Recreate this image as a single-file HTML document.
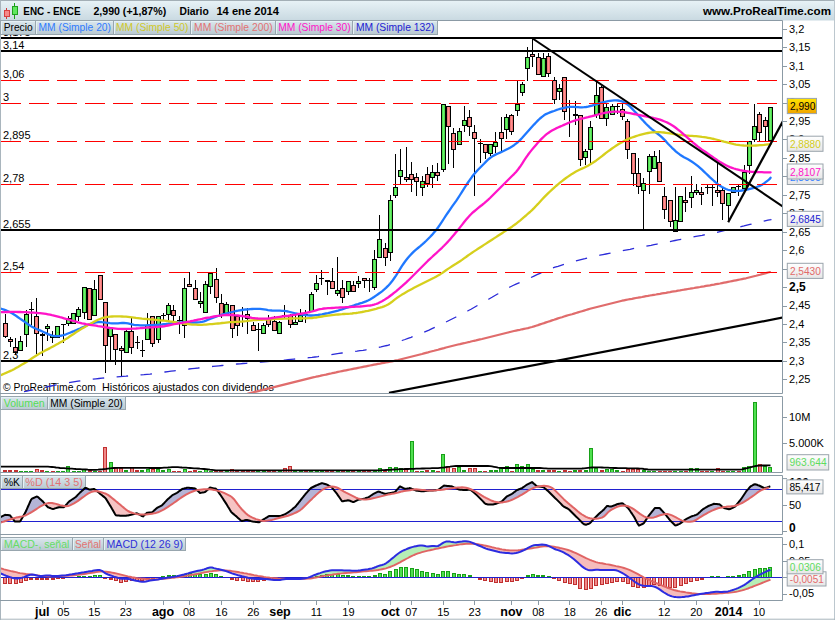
<!DOCTYPE html>
<html><head><meta charset="utf-8"><title>ENC - ENCE</title><style>html,body{margin:0;padding:0;background:#fff;overflow:hidden}svg{display:block}</style></head><body>
<svg width="835" height="620" viewBox="0 0 835 620" font-family="Liberation Sans, sans-serif" font-size="11px">
<defs>
<linearGradient id="hdr" x1="0" y1="0" x2="0" y2="1"><stop offset="0" stop-color="#e8f3f7"/><stop offset="1" stop-color="#c9d9e1"/></linearGradient>
<linearGradient id="tag" x1="0" y1="0" x2="0" y2="1"><stop offset="0" stop-color="#dbe8ee"/><stop offset="1" stop-color="#b9c9d1"/></linearGradient>
<linearGradient id="ylw" x1="0" y1="0" x2="0" y2="1"><stop offset="0" stop-color="#ffe400"/><stop offset="1" stop-color="#f0a400"/></linearGradient>
<linearGradient id="box" x1="0" y1="0" x2="0" y2="1"><stop offset="0" stop-color="#ffffff"/><stop offset="1" stop-color="#e6e6e6"/></linearGradient>
<linearGradient id="gc" x1="0" y1="0" x2="1" y2="0"><stop offset="0" stop-color="#3fd43f"/><stop offset="0.5" stop-color="#6cf06c"/><stop offset="1" stop-color="#3fd43f"/></linearGradient>
<linearGradient id="rc" x1="0" y1="0" x2="1" y2="0"><stop offset="0" stop-color="#e86a6a"/><stop offset="0.5" stop-color="#ff9090"/><stop offset="1" stop-color="#e86a6a"/></linearGradient>
<clipPath id="cp"><rect x="1" y="21" width="781" height="372"/></clipPath>
<clipPath id="cv"><rect x="1" y="397" width="781" height="75"/></clipPath>
<clipPath id="cs"><rect x="1" y="476" width="781" height="58"/></clipPath>
<clipPath id="cm"><rect x="1" y="538" width="781" height="62"/></clipPath>
</defs>
<rect width="835" height="620" fill="#ffffff"/>
<rect x="0" y="0" width="835" height="20.5" fill="url(#hdr)"/>
<rect x="0" y="0" width="835" height="1" fill="#a3afb6"/>
<rect x="0" y="0" width="1" height="620" fill="#a9b5bd"/>
<rect x="834" y="0" width="1" height="620" fill="#bcc7ce"/>
<rect x="0" y="618.7" width="835" height="1" fill="#a9b5bd"/>
<path d="M0 20.5 H782.5 V393.5 H0" fill="none" stroke="#8b9aa5" stroke-width="1"/>
<path d="M0 396.5 H782.5 V472.5 H0" fill="none" stroke="#8b9aa5" stroke-width="1"/>
<path d="M0 475.5 H782.5 V534.5 H0" fill="none" stroke="#8b9aa5" stroke-width="1"/>
<path d="M0 537.5 H782.5 V600.5 H0" fill="none" stroke="#8b9aa5" stroke-width="1"/>
<g clip-path="url(#cp)">
<text x="3" y="36">3,175</text>
<text x="3" y="391.2" textLength="92.8" lengthAdjust="spacingAndGlyphs">© ProRealTime.com</text>
<text x="102" y="391.2" textLength="172" lengthAdjust="spacingAndGlyphs">Históricos ajustados con dividendos</text>
<g shape-rendering="crispEdges">
<rect x="5" y="314.4" width="1" height="23.6" fill="#000"/>
<rect x="3" y="322.5" width="5" height="14.8" fill="#000"/>
<rect x="4" y="323.5" width="3" height="12.8" fill="url(#rc)"/>
<rect x="10" y="337.3" width="1" height="9.7" fill="#000"/>
<rect x="8" y="338.8" width="5" height="3.5" fill="#000"/>
<rect x="9" y="339.8" width="3" height="1.5" fill="url(#rc)"/>
<rect x="15" y="338.4" width="1" height="15.6" fill="#000"/>
<rect x="13" y="346.6" width="5" height="5.9" fill="#000"/>
<rect x="14" y="347.6" width="3" height="3.9" fill="url(#rc)"/>
<rect x="20" y="335.7" width="1" height="15.7" fill="#000"/>
<rect x="18" y="340.5" width="5" height="10.5" fill="#000"/>
<rect x="19" y="341.5" width="3" height="8.5" fill="url(#gc)"/>
<rect x="26" y="310.0" width="1" height="36.6" fill="#000"/>
<rect x="24" y="313.8" width="5" height="21.2" fill="#000"/>
<rect x="25" y="314.8" width="3" height="19.2" fill="url(#gc)"/>
<rect x="31" y="301.8" width="1" height="23.2" fill="#000"/>
<rect x="29" y="309.0" width="5" height="1.2" fill="#000"/>
<rect x="36" y="298.0" width="1" height="55.6" fill="#000"/>
<rect x="34" y="316.0" width="5" height="17.6" fill="#000"/>
<rect x="35" y="317.0" width="3" height="15.6" fill="url(#rc)"/>
<rect x="42" y="333.0" width="1" height="22.8" fill="#000"/>
<rect x="40" y="334.4" width="5" height="1.2" fill="#000"/>
<rect x="47" y="324.2" width="1" height="16.3" fill="#000"/>
<rect x="45" y="326.4" width="5" height="3.0" fill="#000"/>
<rect x="46" y="327.4" width="3" height="1.0" fill="url(#gc)"/>
<rect x="52" y="330.7" width="1" height="12.0" fill="#000"/>
<rect x="50" y="335.0" width="5" height="3.0" fill="#000"/>
<rect x="51" y="336.0" width="3" height="1.0" fill="url(#gc)"/>
<rect x="57" y="326.4" width="1" height="11.6" fill="#000"/>
<rect x="55" y="326.4" width="5" height="11.6" fill="#000"/>
<rect x="56" y="327.4" width="3" height="9.6" fill="url(#gc)"/>
<rect x="63" y="324.2" width="1" height="18.5" fill="#000"/>
<rect x="61" y="323.6" width="5" height="1.2" fill="#000"/>
<rect x="68" y="316.0" width="1" height="10.4" fill="#000"/>
<rect x="66" y="318.3" width="5" height="5.9" fill="#000"/>
<rect x="67" y="319.3" width="3" height="3.9" fill="url(#gc)"/>
<rect x="73" y="313.3" width="1" height="10.9" fill="#000"/>
<rect x="71" y="313.3" width="5" height="10.9" fill="#000"/>
<rect x="72" y="314.3" width="3" height="8.9" fill="url(#gc)"/>
<rect x="78" y="306.8" width="1" height="14.2" fill="#000"/>
<rect x="76" y="309.4" width="5" height="7.2" fill="#000"/>
<rect x="77" y="310.4" width="3" height="5.2" fill="url(#gc)"/>
<rect x="84" y="287.2" width="1" height="31.6" fill="#000"/>
<rect x="82" y="287.2" width="5" height="25.7" fill="#000"/>
<rect x="83" y="288.2" width="3" height="23.7" fill="url(#gc)"/>
<rect x="89" y="287.6" width="1" height="32.3" fill="#000"/>
<rect x="87" y="287.6" width="5" height="32.3" fill="#000"/>
<rect x="88" y="288.6" width="3" height="30.3" fill="url(#rc)"/>
<rect x="94" y="280.0" width="1" height="36.2" fill="#000"/>
<rect x="92" y="289.4" width="5" height="26.8" fill="#000"/>
<rect x="93" y="290.4" width="3" height="24.8" fill="url(#gc)"/>
<rect x="100" y="274.6" width="1" height="25.7" fill="#000"/>
<rect x="98" y="274.6" width="5" height="25.7" fill="#000"/>
<rect x="99" y="275.6" width="3" height="23.7" fill="url(#rc)"/>
<rect x="105" y="302.4" width="1" height="70.1" fill="#000"/>
<rect x="103" y="302.4" width="5" height="44.0" fill="#000"/>
<rect x="104" y="303.4" width="3" height="42.0" fill="url(#rc)"/>
<rect x="110" y="327.5" width="1" height="32.5" fill="#000"/>
<rect x="108" y="327.5" width="5" height="9.8" fill="#000"/>
<rect x="109" y="328.5" width="3" height="7.8" fill="url(#gc)"/>
<rect x="115" y="333.6" width="1" height="30.9" fill="#000"/>
<rect x="113" y="333.6" width="5" height="16.7" fill="#000"/>
<rect x="114" y="334.6" width="3" height="14.7" fill="url(#rc)"/>
<rect x="121" y="346.0" width="1" height="30.5" fill="#000"/>
<rect x="119" y="348.2" width="5" height="3.0" fill="#000"/>
<rect x="120" y="349.2" width="3" height="1.0" fill="url(#rc)"/>
<rect x="126" y="329.2" width="1" height="24.0" fill="#000"/>
<rect x="124" y="331.4" width="5" height="21.8" fill="#000"/>
<rect x="125" y="332.4" width="3" height="19.8" fill="url(#gc)"/>
<rect x="131" y="318.3" width="1" height="35.3" fill="#000"/>
<rect x="129" y="331.4" width="5" height="16.8" fill="#000"/>
<rect x="130" y="332.4" width="3" height="14.8" fill="url(#rc)"/>
<rect x="137" y="336.2" width="1" height="13.0" fill="#000"/>
<rect x="135" y="341.7" width="5" height="1.2" fill="#000"/>
<rect x="142" y="339.5" width="1" height="17.4" fill="#000"/>
<rect x="140" y="349.7" width="5" height="1.2" fill="#000"/>
<rect x="147" y="313.3" width="1" height="26.8" fill="#000"/>
<rect x="145" y="324.9" width="5" height="15.2" fill="#000"/>
<rect x="146" y="325.9" width="3" height="13.2" fill="url(#gc)"/>
<rect x="152" y="316.4" width="1" height="30.1" fill="#000"/>
<rect x="150" y="316.4" width="5" height="28.0" fill="#000"/>
<rect x="151" y="317.4" width="3" height="26.0" fill="url(#rc)"/>
<rect x="158" y="316.0" width="1" height="26.7" fill="#000"/>
<rect x="156" y="316.0" width="5" height="24.4" fill="#000"/>
<rect x="157" y="317.0" width="3" height="22.4" fill="url(#gc)"/>
<rect x="163" y="313.0" width="1" height="6.5" fill="#000"/>
<rect x="161" y="315.2" width="5" height="1.2" fill="#000"/>
<rect x="168" y="303.0" width="1" height="17.5" fill="#000"/>
<rect x="166" y="305.3" width="5" height="9.8" fill="#000"/>
<rect x="167" y="306.3" width="3" height="7.8" fill="url(#gc)"/>
<rect x="173" y="304.9" width="1" height="16.7" fill="#000"/>
<rect x="171" y="309.7" width="5" height="6.5" fill="#000"/>
<rect x="172" y="310.7" width="3" height="4.5" fill="url(#rc)"/>
<rect x="179" y="316.2" width="1" height="17.4" fill="#000"/>
<rect x="177" y="319.9" width="5" height="1.2" fill="#000"/>
<rect x="184" y="278.0" width="1" height="59.5" fill="#000"/>
<rect x="182" y="287.5" width="5" height="38.5" fill="#000"/>
<rect x="183" y="288.5" width="3" height="36.5" fill="url(#gc)"/>
<rect x="189" y="272.2" width="1" height="15.0" fill="#000"/>
<rect x="187" y="283.5" width="5" height="3.7" fill="#000"/>
<rect x="188" y="284.5" width="3" height="1.7" fill="url(#rc)"/>
<rect x="195" y="280.3" width="1" height="20.0" fill="#000"/>
<rect x="193" y="287.5" width="5" height="12.8" fill="#000"/>
<rect x="194" y="288.5" width="3" height="10.8" fill="url(#rc)"/>
<rect x="200" y="292.2" width="1" height="15.3" fill="#000"/>
<rect x="198" y="300.5" width="5" height="3.0" fill="#000"/>
<rect x="199" y="301.5" width="3" height="1.0" fill="url(#gc)"/>
<rect x="205" y="281.4" width="1" height="31.6" fill="#000"/>
<rect x="203" y="283.5" width="5" height="29.5" fill="#000"/>
<rect x="204" y="284.5" width="3" height="27.5" fill="url(#gc)"/>
<rect x="210" y="272.7" width="1" height="21.7" fill="#000"/>
<rect x="208" y="272.7" width="5" height="14.5" fill="#000"/>
<rect x="209" y="273.7" width="3" height="12.5" fill="url(#gc)"/>
<rect x="216" y="267.9" width="1" height="34.6" fill="#000"/>
<rect x="214" y="278.7" width="5" height="19.6" fill="#000"/>
<rect x="215" y="279.7" width="3" height="17.6" fill="url(#rc)"/>
<rect x="221" y="294.4" width="1" height="24.0" fill="#000"/>
<rect x="219" y="303.1" width="5" height="12.0" fill="#000"/>
<rect x="220" y="304.1" width="3" height="10.0" fill="url(#rc)"/>
<rect x="226" y="302.0" width="1" height="12.0" fill="#000"/>
<rect x="224" y="303.6" width="5" height="10.4" fill="#000"/>
<rect x="225" y="304.6" width="3" height="8.4" fill="url(#gc)"/>
<rect x="232" y="305.3" width="1" height="32.2" fill="#000"/>
<rect x="230" y="305.3" width="5" height="23.9" fill="#000"/>
<rect x="231" y="306.3" width="3" height="21.9" fill="url(#rc)"/>
<rect x="237" y="315.8" width="1" height="20.0" fill="#000"/>
<rect x="235" y="315.8" width="5" height="10.6" fill="#000"/>
<rect x="236" y="316.8" width="3" height="8.6" fill="url(#rc)"/>
<rect x="242" y="307.0" width="1" height="20.0" fill="#000"/>
<rect x="240" y="315.6" width="5" height="1.2" fill="#000"/>
<rect x="247" y="307.5" width="1" height="26.1" fill="#000"/>
<rect x="245" y="313.6" width="5" height="5.2" fill="#000"/>
<rect x="246" y="314.6" width="3" height="3.2" fill="url(#rc)"/>
<rect x="253" y="321.6" width="1" height="9.4" fill="#000"/>
<rect x="251" y="324.5" width="5" height="6.5" fill="#000"/>
<rect x="252" y="325.5" width="3" height="4.5" fill="url(#rc)"/>
<rect x="258" y="322.7" width="1" height="27.9" fill="#000"/>
<rect x="256" y="328.6" width="5" height="1.2" fill="#000"/>
<rect x="263" y="322.7" width="1" height="10.9" fill="#000"/>
<rect x="261" y="324.5" width="5" height="9.1" fill="#000"/>
<rect x="262" y="325.5" width="3" height="7.1" fill="url(#gc)"/>
<rect x="268" y="315.1" width="1" height="11.9" fill="#000"/>
<rect x="266" y="318.4" width="5" height="6.1" fill="#000"/>
<rect x="267" y="319.4" width="3" height="4.1" fill="url(#rc)"/>
<rect x="274" y="316.2" width="1" height="14.8" fill="#000"/>
<rect x="272" y="321.0" width="5" height="10.0" fill="#000"/>
<rect x="273" y="322.0" width="3" height="8.0" fill="url(#rc)"/>
<rect x="279" y="320.5" width="1" height="13.1" fill="#000"/>
<rect x="277" y="322.3" width="5" height="11.3" fill="#000"/>
<rect x="278" y="323.3" width="3" height="9.3" fill="url(#gc)"/>
<rect x="284" y="304.9" width="1" height="13.5" fill="#000"/>
<rect x="282" y="314.5" width="5" height="1.2" fill="#000"/>
<rect x="290" y="313.6" width="1" height="14.1" fill="#000"/>
<rect x="288" y="315.1" width="5" height="9.4" fill="#000"/>
<rect x="289" y="316.1" width="3" height="7.4" fill="url(#rc)"/>
<rect x="295" y="315.1" width="1" height="9.4" fill="#000"/>
<rect x="293" y="321.6" width="5" height="3.0" fill="#000"/>
<rect x="294" y="322.6" width="3" height="1.0" fill="url(#gc)"/>
<rect x="300" y="309.2" width="1" height="13.1" fill="#000"/>
<rect x="298" y="314.5" width="5" height="7.8" fill="#000"/>
<rect x="299" y="315.5" width="3" height="5.8" fill="url(#gc)"/>
<rect x="305" y="310.4" width="1" height="12.6" fill="#000"/>
<rect x="303" y="314.4" width="5" height="1.2" fill="#000"/>
<rect x="311" y="291.9" width="1" height="19.6" fill="#000"/>
<rect x="309" y="294.0" width="5" height="17.5" fill="#000"/>
<rect x="310" y="295.0" width="3" height="15.5" fill="url(#gc)"/>
<rect x="316" y="274.5" width="1" height="17.4" fill="#000"/>
<rect x="314" y="283.2" width="5" height="6.5" fill="#000"/>
<rect x="315" y="284.2" width="3" height="4.5" fill="url(#gc)"/>
<rect x="321" y="270.0" width="1" height="15.3" fill="#000"/>
<rect x="319" y="277.8" width="5" height="1.2" fill="#000"/>
<rect x="327" y="281.0" width="1" height="13.7" fill="#000"/>
<rect x="325" y="280.4" width="5" height="1.2" fill="#000"/>
<rect x="332" y="268.0" width="1" height="21.3" fill="#000"/>
<rect x="330" y="280.5" width="5" height="8.8" fill="#000"/>
<rect x="331" y="281.5" width="3" height="6.8" fill="url(#rc)"/>
<rect x="337" y="257.0" width="1" height="39.2" fill="#000"/>
<rect x="335" y="289.7" width="5" height="4.3" fill="#000"/>
<rect x="336" y="290.7" width="3" height="2.3" fill="url(#gc)"/>
<rect x="342" y="280.0" width="1" height="22.8" fill="#000"/>
<rect x="340" y="287.5" width="5" height="10.9" fill="#000"/>
<rect x="341" y="288.5" width="3" height="8.9" fill="url(#rc)"/>
<rect x="348" y="280.5" width="1" height="14.2" fill="#000"/>
<rect x="346" y="280.5" width="5" height="11.4" fill="#000"/>
<rect x="347" y="281.5" width="3" height="9.4" fill="url(#gc)"/>
<rect x="353" y="281.0" width="1" height="11.3" fill="#000"/>
<rect x="351" y="285.3" width="5" height="7.0" fill="#000"/>
<rect x="352" y="286.3" width="3" height="5.0" fill="url(#rc)"/>
<rect x="358" y="276.0" width="1" height="11.5" fill="#000"/>
<rect x="356" y="281.4" width="5" height="3.0" fill="#000"/>
<rect x="357" y="282.4" width="3" height="1.0" fill="url(#gc)"/>
<rect x="364" y="278.4" width="1" height="9.1" fill="#000"/>
<rect x="362" y="278.4" width="5" height="3.0" fill="#000"/>
<rect x="363" y="279.4" width="3" height="1.0" fill="url(#rc)"/>
<rect x="369" y="277.7" width="1" height="14.2" fill="#000"/>
<rect x="367" y="279.9" width="5" height="1.2" fill="#000"/>
<rect x="374" y="250.0" width="1" height="39.7" fill="#000"/>
<rect x="372" y="259.2" width="5" height="28.3" fill="#000"/>
<rect x="373" y="260.2" width="3" height="26.3" fill="url(#gc)"/>
<rect x="379" y="215.0" width="1" height="42.5" fill="#000"/>
<rect x="377" y="239.2" width="5" height="18.3" fill="#000"/>
<rect x="378" y="240.2" width="3" height="16.3" fill="url(#gc)"/>
<rect x="385" y="242.9" width="1" height="22.8" fill="#000"/>
<rect x="383" y="248.3" width="5" height="9.2" fill="#000"/>
<rect x="384" y="249.3" width="3" height="7.2" fill="url(#rc)"/>
<rect x="390" y="195.0" width="1" height="66.4" fill="#000"/>
<rect x="388" y="200.4" width="5" height="52.3" fill="#000"/>
<rect x="389" y="201.4" width="3" height="50.3" fill="url(#gc)"/>
<rect x="395" y="154.1" width="1" height="44.3" fill="#000"/>
<rect x="393" y="187.2" width="5" height="8.3" fill="#000"/>
<rect x="394" y="188.2" width="3" height="6.3" fill="url(#gc)"/>
<rect x="400" y="149.0" width="1" height="34.9" fill="#000"/>
<rect x="398" y="169.7" width="5" height="6.9" fill="#000"/>
<rect x="399" y="170.7" width="3" height="4.9" fill="url(#gc)"/>
<rect x="406" y="146.9" width="1" height="35.5" fill="#000"/>
<rect x="404" y="176.6" width="5" height="3.7" fill="#000"/>
<rect x="405" y="177.6" width="3" height="1.7" fill="url(#rc)"/>
<rect x="411" y="162.1" width="1" height="29.8" fill="#000"/>
<rect x="409" y="173.7" width="5" height="6.6" fill="#000"/>
<rect x="410" y="174.7" width="3" height="4.6" fill="url(#rc)"/>
<rect x="416" y="173.0" width="1" height="22.5" fill="#000"/>
<rect x="414" y="176.6" width="5" height="5.8" fill="#000"/>
<rect x="415" y="177.6" width="3" height="3.8" fill="url(#rc)"/>
<rect x="422" y="175.9" width="1" height="19.6" fill="#000"/>
<rect x="420" y="180.7" width="5" height="6.8" fill="#000"/>
<rect x="421" y="181.7" width="3" height="4.8" fill="url(#gc)"/>
<rect x="427" y="167.2" width="1" height="19.6" fill="#000"/>
<rect x="425" y="174.4" width="5" height="9.9" fill="#000"/>
<rect x="426" y="175.4" width="3" height="7.9" fill="url(#rc)"/>
<rect x="432" y="165.0" width="1" height="22.5" fill="#000"/>
<rect x="430" y="171.5" width="5" height="6.6" fill="#000"/>
<rect x="431" y="172.5" width="3" height="4.6" fill="url(#gc)"/>
<rect x="437" y="162.5" width="1" height="18.1" fill="#000"/>
<rect x="435" y="171.5" width="5" height="4.7" fill="#000"/>
<rect x="436" y="172.5" width="3" height="2.7" fill="url(#rc)"/>
<rect x="443" y="103.5" width="1" height="68.1" fill="#000"/>
<rect x="441" y="103.5" width="5" height="66.0" fill="#000"/>
<rect x="442" y="104.5" width="3" height="64.0" fill="url(#gc)"/>
<rect x="448" y="106.3" width="1" height="57.2" fill="#000"/>
<rect x="446" y="106.3" width="5" height="21.1" fill="#000"/>
<rect x="447" y="107.3" width="3" height="19.1" fill="url(#rc)"/>
<rect x="453" y="128.0" width="1" height="39.6" fill="#000"/>
<rect x="451" y="132.6" width="5" height="17.8" fill="#000"/>
<rect x="452" y="133.6" width="3" height="15.8" fill="url(#rc)"/>
<rect x="459" y="128.0" width="1" height="17.2" fill="#000"/>
<rect x="457" y="130.5" width="5" height="14.7" fill="#000"/>
<rect x="458" y="131.5" width="3" height="12.7" fill="url(#gc)"/>
<rect x="464" y="105.9" width="1" height="26.5" fill="#000"/>
<rect x="462" y="119.8" width="5" height="5.7" fill="#000"/>
<rect x="463" y="120.8" width="3" height="3.7" fill="url(#gc)"/>
<rect x="469" y="110.0" width="1" height="26.0" fill="#000"/>
<rect x="467" y="117.2" width="5" height="10.2" fill="#000"/>
<rect x="468" y="118.2" width="3" height="8.2" fill="url(#rc)"/>
<rect x="474" y="125.3" width="1" height="70.3" fill="#000"/>
<rect x="472" y="132.4" width="5" height="7.0" fill="#000"/>
<rect x="473" y="133.4" width="3" height="5.0" fill="url(#rc)"/>
<rect x="480" y="139.0" width="1" height="24.0" fill="#000"/>
<rect x="478" y="142.7" width="5" height="1.2" fill="#000"/>
<rect x="485" y="143.8" width="1" height="14.8" fill="#000"/>
<rect x="483" y="143.8" width="5" height="8.7" fill="#000"/>
<rect x="484" y="144.8" width="3" height="6.7" fill="url(#rc)"/>
<rect x="490" y="143.8" width="1" height="12.6" fill="#000"/>
<rect x="488" y="143.8" width="5" height="10.4" fill="#000"/>
<rect x="489" y="144.8" width="3" height="8.4" fill="url(#gc)"/>
<rect x="495" y="132.0" width="1" height="21.1" fill="#000"/>
<rect x="493" y="141.6" width="5" height="5.6" fill="#000"/>
<rect x="494" y="142.6" width="3" height="3.6" fill="url(#gc)"/>
<rect x="501" y="117.2" width="1" height="34.2" fill="#000"/>
<rect x="499" y="132.4" width="5" height="7.0" fill="#000"/>
<rect x="500" y="133.4" width="3" height="5.0" fill="url(#rc)"/>
<rect x="506" y="114.1" width="1" height="24.8" fill="#000"/>
<rect x="504" y="117.1" width="5" height="13.1" fill="#000"/>
<rect x="505" y="118.1" width="3" height="11.1" fill="url(#gc)"/>
<rect x="511" y="113.9" width="1" height="20.7" fill="#000"/>
<rect x="509" y="115.4" width="5" height="16.8" fill="#000"/>
<rect x="510" y="116.4" width="3" height="14.8" fill="url(#rc)"/>
<rect x="517" y="81.2" width="1" height="34.4" fill="#000"/>
<rect x="515" y="103.8" width="5" height="6.8" fill="#000"/>
<rect x="516" y="104.8" width="3" height="4.8" fill="url(#gc)"/>
<rect x="522" y="82.2" width="1" height="13.4" fill="#000"/>
<rect x="520" y="84.4" width="5" height="8.1" fill="#000"/>
<rect x="521" y="85.4" width="3" height="6.1" fill="url(#gc)"/>
<rect x="527" y="47.0" width="1" height="33.5" fill="#000"/>
<rect x="525" y="56.6" width="5" height="12.6" fill="#000"/>
<rect x="526" y="57.6" width="3" height="10.6" fill="url(#gc)"/>
<rect x="532" y="38.7" width="1" height="27.9" fill="#000"/>
<rect x="530" y="53.5" width="5" height="3.0" fill="#000"/>
<rect x="531" y="54.5" width="3" height="1.0" fill="url(#rc)"/>
<rect x="538" y="52.9" width="1" height="22.4" fill="#000"/>
<rect x="536" y="56.6" width="5" height="18.7" fill="#000"/>
<rect x="537" y="57.6" width="3" height="16.7" fill="url(#rc)"/>
<rect x="543" y="52.9" width="1" height="24.3" fill="#000"/>
<rect x="541" y="58.3" width="5" height="18.9" fill="#000"/>
<rect x="542" y="59.3" width="3" height="16.9" fill="url(#gc)"/>
<rect x="548" y="52.9" width="1" height="23.9" fill="#000"/>
<rect x="546" y="55.5" width="5" height="18.0" fill="#000"/>
<rect x="547" y="56.5" width="3" height="16.0" fill="url(#rc)"/>
<rect x="554" y="76.8" width="1" height="27.0" fill="#000"/>
<rect x="552" y="79.6" width="5" height="20.0" fill="#000"/>
<rect x="553" y="80.6" width="3" height="18.0" fill="url(#rc)"/>
<rect x="559" y="84.4" width="1" height="15.4" fill="#000"/>
<rect x="557" y="88.3" width="5" height="4.0" fill="#000"/>
<rect x="558" y="89.3" width="3" height="2.0" fill="url(#gc)"/>
<rect x="564" y="77.2" width="1" height="42.8" fill="#000"/>
<rect x="562" y="77.2" width="5" height="35.1" fill="#000"/>
<rect x="563" y="78.2" width="3" height="33.1" fill="url(#rc)"/>
<rect x="569" y="100.3" width="1" height="36.5" fill="#000"/>
<rect x="567" y="106.4" width="5" height="1.2" fill="#000"/>
<rect x="575" y="100.8" width="1" height="24.2" fill="#000"/>
<rect x="573" y="114.4" width="5" height="1.2" fill="#000"/>
<rect x="580" y="114.8" width="1" height="50.7" fill="#000"/>
<rect x="578" y="114.8" width="5" height="45.4" fill="#000"/>
<rect x="579" y="115.8" width="3" height="43.4" fill="url(#rc)"/>
<rect x="585" y="148.6" width="1" height="16.4" fill="#000"/>
<rect x="583" y="150.5" width="5" height="7.7" fill="#000"/>
<rect x="584" y="151.5" width="3" height="5.7" fill="url(#gc)"/>
<rect x="590" y="121.0" width="1" height="43.0" fill="#000"/>
<rect x="588" y="127.4" width="5" height="22.9" fill="#000"/>
<rect x="589" y="128.4" width="3" height="20.9" fill="url(#gc)"/>
<rect x="596" y="81.2" width="1" height="37.0" fill="#000"/>
<rect x="594" y="95.3" width="5" height="19.6" fill="#000"/>
<rect x="595" y="96.3" width="3" height="17.6" fill="url(#gc)"/>
<rect x="601" y="85.5" width="1" height="33.7" fill="#000"/>
<rect x="599" y="86.6" width="5" height="32.6" fill="#000"/>
<rect x="600" y="87.6" width="3" height="30.6" fill="url(#rc)"/>
<rect x="606" y="104.0" width="1" height="21.8" fill="#000"/>
<rect x="604" y="106.6" width="5" height="12.6" fill="#000"/>
<rect x="605" y="107.6" width="3" height="10.6" fill="url(#gc)"/>
<rect x="612" y="104.0" width="1" height="10.9" fill="#000"/>
<rect x="610" y="106.2" width="5" height="8.7" fill="#000"/>
<rect x="611" y="107.2" width="3" height="6.7" fill="url(#gc)"/>
<rect x="617" y="104.0" width="1" height="9.8" fill="#000"/>
<rect x="615" y="106.0" width="5" height="1.2" fill="#000"/>
<rect x="622" y="104.0" width="1" height="15.7" fill="#000"/>
<rect x="620" y="108.8" width="5" height="8.2" fill="#000"/>
<rect x="621" y="109.8" width="3" height="6.2" fill="url(#rc)"/>
<rect x="627" y="119.1" width="1" height="39.6" fill="#000"/>
<rect x="625" y="121.3" width="5" height="29.0" fill="#000"/>
<rect x="626" y="122.3" width="3" height="27.0" fill="url(#rc)"/>
<rect x="633" y="152.5" width="1" height="33.7" fill="#000"/>
<rect x="631" y="152.5" width="5" height="21.7" fill="#000"/>
<rect x="632" y="153.5" width="3" height="19.7" fill="url(#rc)"/>
<rect x="638" y="157.9" width="1" height="35.9" fill="#000"/>
<rect x="636" y="173.1" width="5" height="14.2" fill="#000"/>
<rect x="637" y="174.1" width="3" height="12.2" fill="url(#rc)"/>
<rect x="643" y="177.9" width="1" height="51.4" fill="#000"/>
<rect x="641" y="182.9" width="5" height="8.3" fill="#000"/>
<rect x="642" y="183.9" width="3" height="6.3" fill="url(#gc)"/>
<rect x="649" y="153.5" width="1" height="40.3" fill="#000"/>
<rect x="647" y="156.3" width="5" height="15.3" fill="#000"/>
<rect x="648" y="157.3" width="3" height="13.3" fill="url(#gc)"/>
<rect x="654" y="150.5" width="1" height="18.7" fill="#000"/>
<rect x="652" y="156.2" width="5" height="13.0" fill="#000"/>
<rect x="653" y="157.2" width="3" height="11.0" fill="url(#gc)"/>
<rect x="659" y="150.3" width="1" height="32.0" fill="#000"/>
<rect x="657" y="162.2" width="5" height="20.1" fill="#000"/>
<rect x="658" y="163.2" width="3" height="18.1" fill="url(#rc)"/>
<rect x="664" y="187.3" width="1" height="31.5" fill="#000"/>
<rect x="662" y="195.5" width="5" height="14.0" fill="#000"/>
<rect x="663" y="196.5" width="3" height="12.0" fill="url(#rc)"/>
<rect x="670" y="200.3" width="1" height="26.2" fill="#000"/>
<rect x="668" y="200.3" width="5" height="21.4" fill="#000"/>
<rect x="669" y="201.3" width="3" height="19.4" fill="url(#rc)"/>
<rect x="675" y="187.3" width="1" height="44.6" fill="#000"/>
<rect x="673" y="219.5" width="5" height="12.4" fill="#000"/>
<rect x="674" y="220.5" width="3" height="10.4" fill="url(#gc)"/>
<rect x="680" y="195.5" width="1" height="26.6" fill="#000"/>
<rect x="678" y="195.5" width="5" height="26.6" fill="#000"/>
<rect x="679" y="196.5" width="3" height="24.6" fill="url(#gc)"/>
<rect x="685" y="187.3" width="1" height="25.0" fill="#000"/>
<rect x="683" y="200.3" width="5" height="3.0" fill="#000"/>
<rect x="684" y="201.3" width="3" height="1.0" fill="url(#rc)"/>
<rect x="691" y="176.4" width="1" height="31.6" fill="#000"/>
<rect x="689" y="191.6" width="5" height="6.6" fill="#000"/>
<rect x="690" y="192.6" width="3" height="4.6" fill="url(#gc)"/>
<rect x="696" y="184.0" width="1" height="10.9" fill="#000"/>
<rect x="694" y="189.5" width="5" height="3.0" fill="#000"/>
<rect x="695" y="190.5" width="3" height="1.0" fill="url(#gc)"/>
<rect x="701" y="187.3" width="1" height="17.4" fill="#000"/>
<rect x="699" y="191.6" width="5" height="3.0" fill="#000"/>
<rect x="700" y="192.6" width="3" height="1.0" fill="url(#rc)"/>
<rect x="707" y="185.0" width="1" height="8.8" fill="#000"/>
<rect x="705" y="186.7" width="5" height="1.2" fill="#000"/>
<rect x="712" y="185.0" width="1" height="21.4" fill="#000"/>
<rect x="710" y="186.7" width="5" height="1.2" fill="#000"/>
<rect x="717" y="162.2" width="1" height="34.8" fill="#000"/>
<rect x="715" y="189.5" width="5" height="3.7" fill="#000"/>
<rect x="716" y="190.5" width="3" height="1.7" fill="url(#rc)"/>
<rect x="722" y="187.3" width="1" height="32.2" fill="#000"/>
<rect x="720" y="189.5" width="5" height="14.8" fill="#000"/>
<rect x="721" y="190.5" width="3" height="12.8" fill="url(#rc)"/>
<rect x="728" y="193.4" width="1" height="28.7" fill="#000"/>
<rect x="726" y="193.4" width="5" height="13.0" fill="#000"/>
<rect x="727" y="194.4" width="3" height="11.0" fill="url(#gc)"/>
<rect x="733" y="187.3" width="1" height="6.1" fill="#000"/>
<rect x="731" y="187.3" width="5" height="6.1" fill="#000"/>
<rect x="732" y="188.3" width="3" height="4.1" fill="url(#gc)"/>
<rect x="738" y="185.0" width="1" height="11.0" fill="#000"/>
<rect x="736" y="186.2" width="5" height="1.2" fill="#000"/>
<rect x="744" y="164.6" width="1" height="26.4" fill="#000"/>
<rect x="742" y="171.5" width="5" height="17.5" fill="#000"/>
<rect x="743" y="172.5" width="3" height="15.5" fill="url(#gc)"/>
<rect x="749" y="141.4" width="1" height="32.8" fill="#000"/>
<rect x="747" y="141.4" width="5" height="24.8" fill="#000"/>
<rect x="748" y="142.4" width="3" height="22.8" fill="url(#gc)"/>
<rect x="754" y="104.2" width="1" height="38.0" fill="#000"/>
<rect x="752" y="125.5" width="5" height="14.1" fill="#000"/>
<rect x="753" y="126.5" width="3" height="12.1" fill="url(#gc)"/>
<rect x="759" y="111.6" width="1" height="30.6" fill="#000"/>
<rect x="757" y="114.3" width="5" height="18.6" fill="#000"/>
<rect x="758" y="115.3" width="3" height="16.6" fill="url(#rc)"/>
<rect x="765" y="117.0" width="1" height="25.2" fill="#000"/>
<rect x="763" y="119.6" width="5" height="7.4" fill="#000"/>
<rect x="764" y="120.6" width="3" height="5.4" fill="url(#rc)"/>
<rect x="770" y="106.8" width="1" height="35.4" fill="#000"/>
<rect x="768" y="106.8" width="5" height="34.6" fill="#000"/>
<rect x="769" y="107.8" width="3" height="32.6" fill="url(#gc)"/>
</g>
<path d="M0.0 308.3 L2.0 309.0 L4.0 309.7 L6.0 310.4 L8.0 311.2 L10.0 312.2 L12.0 313.2 L14.0 314.5 L16.0 315.8 L18.0 317.2 L20.0 318.6 L22.0 320.0 L24.0 321.4 L26.0 322.8 L28.0 324.2 L30.0 325.5 L32.0 326.7 L34.0 327.8 L36.0 328.8 L38.0 329.6 L40.0 330.4 L42.0 331.3 L44.0 332.2 L46.0 333.1 L48.0 334.1 L50.0 334.9 L52.0 335.5 L54.0 336.0 L56.0 336.2 L58.0 336.1 L60.0 335.9 L62.0 335.5 L64.0 335.0 L66.0 334.3 L68.0 333.5 L70.0 332.7 L72.0 331.9 L74.0 331.1 L76.0 330.2 L78.0 329.3 L80.0 328.5 L82.0 327.6 L84.0 326.7 L86.0 325.8 L88.0 325.0 L90.0 324.2 L92.0 323.4 L94.0 322.9 L96.0 322.4 L98.0 322.1 L100.0 322.0 L102.0 322.2 L104.0 322.3 L106.0 322.6 L108.0 322.8 L110.0 323.1 L112.0 323.3 L114.0 323.4 L116.0 323.4 L118.0 323.3 L120.0 323.1 L122.0 323.0 L124.0 323.0 L126.0 323.1 L128.0 323.4 L130.0 323.8 L132.0 324.3 L134.0 324.8 L136.0 325.1 L138.0 325.2 L140.0 325.3 L142.0 325.3 L144.0 325.3 L146.0 325.3 L148.0 325.2 L150.0 325.2 L152.0 325.1 L154.0 325.0 L156.0 324.9 L158.0 324.8 L160.0 324.6 L162.0 324.5 L164.0 324.2 L166.0 324.0 L168.0 323.7 L170.0 323.3 L172.0 323.0 L174.0 322.7 L176.0 322.5 L178.0 322.4 L180.0 322.4 L182.0 322.5 L184.0 322.5 L186.0 322.6 L188.0 322.6 L190.0 322.6 L192.0 322.6 L194.0 322.5 L196.0 322.5 L198.0 322.4 L200.0 322.2 L202.0 321.8 L204.0 321.3 L206.0 320.6 L208.0 319.8 L210.0 318.9 L212.0 318.1 L214.0 317.4 L216.0 316.7 L218.0 316.0 L220.0 315.4 L222.0 314.7 L224.0 314.1 L226.0 313.5 L228.0 313.0 L230.0 312.5 L232.0 312.0 L234.0 311.5 L236.0 311.0 L238.0 310.7 L240.0 310.3 L242.0 310.0 L244.0 309.7 L246.0 309.5 L248.0 309.3 L250.0 309.1 L252.0 309.0 L254.0 308.9 L256.0 308.8 L258.0 308.8 L260.0 308.9 L262.0 309.1 L264.0 309.4 L266.0 309.7 L268.0 310.1 L270.0 310.3 L272.0 310.5 L274.0 310.6 L276.0 310.7 L278.0 310.7 L280.0 310.7 L282.0 310.8 L284.0 310.9 L286.0 311.2 L288.0 311.5 L290.0 312.0 L292.0 312.5 L294.0 313.0 L296.0 313.5 L298.0 313.9 L300.0 314.3 L302.0 314.6 L304.0 314.9 L306.0 315.2 L308.0 315.4 L310.0 315.5 L312.0 315.5 L314.0 315.4 L316.0 315.2 L318.0 315.0 L320.0 314.6 L322.0 314.3 L324.0 313.9 L326.0 313.5 L328.0 313.1 L330.0 312.6 L332.0 312.1 L334.0 311.6 L336.0 311.1 L338.0 310.6 L340.0 310.0 L342.0 309.4 L344.0 308.7 L346.0 308.0 L348.0 307.4 L350.0 306.7 L352.0 306.0 L354.0 305.4 L356.0 304.7 L358.0 304.1 L360.0 303.4 L362.0 302.8 L364.0 302.1 L366.0 301.4 L368.0 300.5 L370.0 299.5 L372.0 298.3 L374.0 297.0 L376.0 295.6 L378.0 294.2 L380.0 292.8 L382.0 291.3 L384.0 289.7 L386.0 287.9 L388.0 285.9 L390.0 283.7 L392.0 281.3 L394.0 278.5 L396.0 275.6 L398.0 272.4 L400.0 269.1 L402.0 265.9 L404.0 263.0 L406.0 260.3 L408.0 257.8 L410.0 255.5 L412.0 253.4 L414.0 251.4 L416.0 249.6 L418.0 248.0 L420.0 246.4 L422.0 244.7 L424.0 242.9 L426.0 241.0 L428.0 239.0 L430.0 237.0 L432.0 234.9 L434.0 232.6 L436.0 230.2 L438.0 227.5 L440.0 224.6 L442.0 221.6 L444.0 218.5 L446.0 215.4 L448.0 212.5 L450.0 209.6 L452.0 206.7 L454.0 203.9 L456.0 201.1 L458.0 198.1 L460.0 195.0 L462.0 191.9 L464.0 188.7 L466.0 185.5 L468.0 182.5 L470.0 179.6 L472.0 176.8 L474.0 174.3 L476.0 172.0 L478.0 169.8 L480.0 167.8 L482.0 165.7 L484.0 163.7 L486.0 161.6 L488.0 159.7 L490.0 158.0 L492.0 156.6 L494.0 155.4 L496.0 154.4 L498.0 153.5 L500.0 152.6 L502.0 151.7 L504.0 150.8 L506.0 149.8 L508.0 148.8 L510.0 147.7 L512.0 146.5 L514.0 145.2 L516.0 143.7 L518.0 142.0 L520.0 140.1 L522.0 138.0 L524.0 135.8 L526.0 133.5 L528.0 131.3 L530.0 129.0 L532.0 126.8 L534.0 124.6 L536.0 122.5 L538.0 120.4 L540.0 118.5 L542.0 116.8 L544.0 115.3 L546.0 114.1 L548.0 113.2 L550.0 112.4 L552.0 111.7 L554.0 111.0 L556.0 110.2 L558.0 109.5 L560.0 108.9 L562.0 108.3 L564.0 107.8 L566.0 107.4 L568.0 107.1 L570.0 106.9 L572.0 106.9 L574.0 106.9 L576.0 107.1 L578.0 107.2 L580.0 107.3 L582.0 107.3 L584.0 107.2 L586.0 107.0 L588.0 106.7 L590.0 106.2 L592.0 105.7 L594.0 105.0 L596.0 104.4 L598.0 103.8 L600.0 103.1 L602.0 102.6 L604.0 102.1 L606.0 101.6 L608.0 101.2 L610.0 100.9 L612.0 100.6 L614.0 100.4 L616.0 100.3 L618.0 100.5 L620.0 100.9 L622.0 101.4 L624.0 102.3 L626.0 103.5 L628.0 104.9 L630.0 106.6 L632.0 108.6 L634.0 110.7 L636.0 112.8 L638.0 115.0 L640.0 117.2 L642.0 119.4 L644.0 121.6 L646.0 123.7 L648.0 125.7 L650.0 127.6 L652.0 129.4 L654.0 131.0 L656.0 132.5 L658.0 134.0 L660.0 135.6 L662.0 137.4 L664.0 139.3 L666.0 141.4 L668.0 143.7 L670.0 145.8 L672.0 147.8 L674.0 149.7 L676.0 151.6 L678.0 153.2 L680.0 154.7 L682.0 156.0 L684.0 157.3 L686.0 158.3 L688.0 159.3 L690.0 160.5 L692.0 161.7 L694.0 163.1 L696.0 164.6 L698.0 166.2 L700.0 167.9 L702.0 169.7 L704.0 171.6 L706.0 173.5 L708.0 175.4 L710.0 177.4 L712.0 179.2 L714.0 181.0 L716.0 182.7 L718.0 184.3 L720.0 185.8 L722.0 187.0 L724.0 188.1 L726.0 189.0 L728.0 189.8 L730.0 190.2 L732.0 190.6 L734.0 190.9 L736.0 191.0 L738.0 190.9 L740.0 190.8 L742.0 190.5 L744.0 190.2 L746.0 189.8 L748.0 189.4 L750.0 188.9 L752.0 188.4 L754.0 187.9 L756.0 187.3 L758.0 186.5 L760.0 185.8 L762.0 184.7 L764.0 183.4 L766.0 181.9 L768.0 180.4 L770.0 178.7 L770.6 177.7" stroke="#1f78ff" stroke-width="2.3" fill="none" stroke-linejoin="round" stroke-linecap="round"/>
<path d="M0.0 375.4 L2.0 374.6 L4.0 373.7 L6.0 372.9 L8.0 372.0 L10.0 371.1 L12.0 370.2 L14.0 369.2 L16.0 368.1 L18.0 367.0 L20.0 365.8 L22.0 364.6 L24.0 363.4 L26.0 362.2 L28.0 361.0 L30.0 359.7 L32.0 358.3 L34.0 357.0 L36.0 355.7 L38.0 354.5 L40.0 353.3 L42.0 352.2 L44.0 351.2 L46.0 350.1 L48.0 349.1 L50.0 348.1 L52.0 347.0 L54.0 345.9 L56.0 344.8 L58.0 343.7 L60.0 342.5 L62.0 341.4 L64.0 340.2 L66.0 338.9 L68.0 337.7 L70.0 336.3 L72.0 335.0 L74.0 333.7 L76.0 332.3 L78.0 331.1 L80.0 329.8 L82.0 328.6 L84.0 327.4 L86.0 326.3 L88.0 325.1 L90.0 324.0 L92.0 322.9 L94.0 321.8 L96.0 320.8 L98.0 319.8 L100.0 319.0 L102.0 318.2 L104.0 317.7 L106.0 317.2 L108.0 316.9 L110.0 316.7 L112.0 316.5 L114.0 316.4 L116.0 316.3 L118.0 316.3 L120.0 316.4 L122.0 316.5 L124.0 316.6 L126.0 316.7 L128.0 316.9 L130.0 317.1 L132.0 317.3 L134.0 317.6 L136.0 317.9 L138.0 318.1 L140.0 318.3 L142.0 318.6 L144.0 318.8 L146.0 319.0 L148.0 319.2 L150.0 319.4 L152.0 319.5 L154.0 319.7 L156.0 319.9 L158.0 320.1 L160.0 320.3 L162.0 320.5 L164.0 320.7 L166.0 320.9 L168.0 321.2 L170.0 321.5 L172.0 321.7 L174.0 322.0 L176.0 322.3 L178.0 322.7 L180.0 323.0 L182.0 323.3 L184.0 323.7 L186.0 324.0 L188.0 324.2 L190.0 324.4 L192.0 324.6 L194.0 324.7 L196.0 324.7 L198.0 324.8 L200.0 324.8 L202.0 324.8 L204.0 324.7 L206.0 324.6 L208.0 324.4 L210.0 324.2 L212.0 324.1 L214.0 323.9 L216.0 323.7 L218.0 323.5 L220.0 323.3 L222.0 323.0 L224.0 322.8 L226.0 322.6 L228.0 322.4 L230.0 322.2 L232.0 322.1 L234.0 322.0 L236.0 321.9 L238.0 321.8 L240.0 321.6 L242.0 321.5 L244.0 321.3 L246.0 321.1 L248.0 320.8 L250.0 320.6 L252.0 320.4 L254.0 320.2 L256.0 320.1 L258.0 319.9 L260.0 319.8 L262.0 319.8 L264.0 319.7 L266.0 319.6 L268.0 319.5 L270.0 319.4 L272.0 319.3 L274.0 319.2 L276.0 319.0 L278.0 318.9 L280.0 318.9 L282.0 318.8 L284.0 318.7 L286.0 318.6 L288.0 318.6 L290.0 318.5 L292.0 318.5 L294.0 318.4 L296.0 318.4 L298.0 318.4 L300.0 318.5 L302.0 318.4 L304.0 318.4 L306.0 318.3 L308.0 318.2 L310.0 318.1 L312.0 318.0 L314.0 317.7 L316.0 317.5 L318.0 317.2 L320.0 316.8 L322.0 316.5 L324.0 316.2 L326.0 315.9 L328.0 315.6 L330.0 315.3 L332.0 315.1 L334.0 314.9 L336.0 314.7 L338.0 314.5 L340.0 314.3 L342.0 314.2 L344.0 314.0 L346.0 313.9 L348.0 313.8 L350.0 313.7 L352.0 313.5 L354.0 313.2 L356.0 313.0 L358.0 312.7 L360.0 312.3 L362.0 312.0 L364.0 311.6 L366.0 311.2 L368.0 310.8 L370.0 310.3 L372.0 309.8 L374.0 309.3 L376.0 308.8 L378.0 308.2 L380.0 307.7 L382.0 307.1 L384.0 306.4 L386.0 305.5 L388.0 304.5 L390.0 303.2 L392.0 301.8 L394.0 300.2 L396.0 298.7 L398.0 297.2 L400.0 295.9 L402.0 294.6 L404.0 293.4 L406.0 292.2 L408.0 291.1 L410.0 290.0 L412.0 288.9 L414.0 287.8 L416.0 286.8 L418.0 285.8 L420.0 284.8 L422.0 283.8 L424.0 282.8 L426.0 281.8 L428.0 280.8 L430.0 279.8 L432.0 278.8 L434.0 277.8 L436.0 276.7 L438.0 275.6 L440.0 274.4 L442.0 273.1 L444.0 271.7 L446.0 270.3 L448.0 268.9 L450.0 267.6 L452.0 266.3 L454.0 265.0 L456.0 263.8 L458.0 262.5 L460.0 261.2 L462.0 259.9 L464.0 258.4 L466.0 257.0 L468.0 255.5 L470.0 254.1 L472.0 252.7 L474.0 251.4 L476.0 250.1 L478.0 248.8 L480.0 247.5 L482.0 246.2 L484.0 244.9 L486.0 243.6 L488.0 242.3 L490.0 241.0 L492.0 239.7 L494.0 238.4 L496.0 237.1 L498.0 235.8 L500.0 234.5 L502.0 233.2 L504.0 231.9 L506.0 230.6 L508.0 229.3 L510.0 228.0 L512.0 226.7 L514.0 225.2 L516.0 223.8 L518.0 222.2 L520.0 220.6 L522.0 218.9 L524.0 217.2 L526.0 215.5 L528.0 213.7 L530.0 212.0 L532.0 210.1 L534.0 208.1 L536.0 206.0 L538.0 203.9 L540.0 201.7 L542.0 199.5 L544.0 197.4 L546.0 195.4 L548.0 193.4 L550.0 191.5 L552.0 189.6 L554.0 187.8 L556.0 186.0 L558.0 184.3 L560.0 182.7 L562.0 181.1 L564.0 179.5 L566.0 178.0 L568.0 176.6 L570.0 175.3 L572.0 173.9 L574.0 172.7 L576.0 171.5 L578.0 170.5 L580.0 169.5 L582.0 168.6 L584.0 167.7 L586.0 166.7 L588.0 165.7 L590.0 164.5 L592.0 163.3 L594.0 162.0 L596.0 160.7 L598.0 159.2 L600.0 157.7 L602.0 156.1 L604.0 154.5 L606.0 152.9 L608.0 151.4 L610.0 150.0 L612.0 148.5 L614.0 147.1 L616.0 145.8 L618.0 144.5 L620.0 143.3 L622.0 142.2 L624.0 141.1 L626.0 140.0 L628.0 139.1 L630.0 138.2 L632.0 137.5 L634.0 136.8 L636.0 136.1 L638.0 135.5 L640.0 134.9 L642.0 134.4 L644.0 133.9 L646.0 133.4 L648.0 133.0 L650.0 132.7 L652.0 132.4 L654.0 132.3 L656.0 132.2 L658.0 132.1 L660.0 132.2 L662.0 132.3 L664.0 132.5 L666.0 132.8 L668.0 133.1 L670.0 133.4 L672.0 133.7 L674.0 134.0 L676.0 134.3 L678.0 134.6 L680.0 134.8 L682.0 135.1 L684.0 135.3 L686.0 135.5 L688.0 135.6 L690.0 135.8 L692.0 135.9 L694.0 136.1 L696.0 136.2 L698.0 136.4 L700.0 136.6 L702.0 136.9 L704.0 137.1 L706.0 137.4 L708.0 137.8 L710.0 138.2 L712.0 138.6 L714.0 139.0 L716.0 139.5 L718.0 140.0 L720.0 140.6 L722.0 141.1 L724.0 141.7 L726.0 142.2 L728.0 142.7 L730.0 143.2 L732.0 143.7 L734.0 144.2 L736.0 144.6 L738.0 144.9 L740.0 145.2 L742.0 145.3 L744.0 145.5 L746.0 145.6 L748.0 145.7 L750.0 145.7 L752.0 145.7 L754.0 145.6 L756.0 145.5 L758.0 145.4 L760.0 145.2 L762.0 145.1 L764.0 144.9 L766.0 144.6 L768.0 144.4 L770.0 144.2 L770.6 144.1" stroke="#d6cf1c" stroke-width="2.3" fill="none" stroke-linejoin="round" stroke-linecap="round"/>
<path d="M248.0 393.6 L250.0 393.1 L252.0 392.6 L254.0 392.1 L256.0 391.6 L258.0 391.1 L260.0 390.6 L262.0 390.1 L264.0 389.6 L266.0 389.1 L268.0 388.6 L270.0 388.1 L272.0 387.6 L274.0 387.1 L276.0 386.6 L278.0 386.1 L280.0 385.6 L282.0 385.1 L284.0 384.6 L286.0 384.1 L288.0 383.6 L290.0 383.1 L292.0 382.6 L294.0 382.1 L296.0 381.6 L298.0 381.1 L300.0 380.6 L302.0 380.1 L304.0 379.6 L306.0 379.1 L308.0 378.6 L310.0 378.1 L312.0 377.6 L314.0 377.2 L316.0 376.7 L318.0 376.3 L320.0 375.9 L322.0 375.4 L324.0 375.0 L326.0 374.6 L328.0 374.1 L330.0 373.7 L332.0 373.2 L334.0 372.8 L336.0 372.4 L338.0 371.9 L340.0 371.5 L342.0 371.1 L344.0 370.7 L346.0 370.3 L348.0 369.9 L350.0 369.5 L352.0 369.1 L354.0 368.7 L356.0 368.3 L358.0 367.9 L360.0 367.5 L362.0 367.1 L364.0 366.7 L366.0 366.3 L368.0 365.9 L370.0 365.5 L372.0 365.1 L374.0 364.7 L376.0 364.3 L378.0 363.9 L380.0 363.6 L382.0 363.2 L384.0 362.8 L386.0 362.4 L388.0 362.1 L390.0 361.7 L392.0 361.3 L394.0 360.9 L396.0 360.4 L398.0 360.0 L400.0 359.5 L402.0 359.0 L404.0 358.5 L406.0 358.0 L408.0 357.5 L410.0 357.0 L412.0 356.5 L414.0 356.0 L416.0 355.5 L418.0 355.0 L420.0 354.5 L422.0 354.0 L424.0 353.4 L426.0 352.9 L428.0 352.4 L430.0 351.8 L432.0 351.3 L434.0 350.8 L436.0 350.2 L438.0 349.7 L440.0 349.1 L442.0 348.6 L444.0 348.1 L446.0 347.5 L448.0 347.0 L450.0 346.5 L452.0 346.0 L454.0 345.5 L456.0 345.0 L458.0 344.5 L460.0 344.1 L462.0 343.6 L464.0 343.2 L466.0 342.7 L468.0 342.2 L470.0 341.8 L472.0 341.3 L474.0 340.8 L476.0 340.4 L478.0 339.9 L480.0 339.4 L482.0 339.0 L484.0 338.5 L486.0 338.0 L488.0 337.5 L490.0 337.0 L492.0 336.5 L494.0 336.0 L496.0 335.5 L498.0 335.0 L500.0 334.5 L502.0 334.0 L504.0 333.5 L506.0 333.0 L508.0 332.5 L510.0 332.0 L512.0 331.5 L514.0 331.0 L516.0 330.6 L518.0 330.2 L520.0 329.8 L522.0 329.3 L524.0 328.9 L526.0 328.5 L528.0 328.1 L530.0 327.5 L532.0 327.0 L534.0 326.4 L536.0 325.7 L538.0 325.1 L540.0 324.4 L542.0 323.7 L544.0 323.1 L546.0 322.4 L548.0 321.7 L550.0 321.1 L552.0 320.4 L554.0 319.8 L556.0 319.1 L558.0 318.4 L560.0 317.8 L562.0 317.2 L564.0 316.5 L566.0 315.9 L568.0 315.3 L570.0 314.7 L572.0 314.2 L574.0 313.6 L576.0 313.0 L578.0 312.4 L580.0 311.8 L582.0 311.2 L584.0 310.6 L586.0 310.0 L588.0 309.4 L590.0 308.8 L592.0 308.2 L594.0 307.7 L596.0 307.2 L598.0 306.7 L600.0 306.2 L602.0 305.7 L604.0 305.2 L606.0 304.7 L608.0 304.2 L610.0 303.7 L612.0 303.2 L614.0 302.7 L616.0 302.2 L618.0 301.7 L620.0 301.2 L622.0 300.7 L624.0 300.3 L626.0 299.9 L628.0 299.5 L630.0 299.1 L632.0 298.8 L634.0 298.4 L636.0 298.0 L638.0 297.7 L640.0 297.3 L642.0 297.0 L644.0 296.6 L646.0 296.2 L648.0 295.9 L650.0 295.5 L652.0 295.2 L654.0 294.8 L656.0 294.5 L658.0 294.1 L660.0 293.8 L662.0 293.4 L664.0 293.1 L666.0 292.8 L668.0 292.4 L670.0 292.1 L672.0 291.7 L674.0 291.4 L676.0 291.1 L678.0 290.7 L680.0 290.4 L682.0 290.0 L684.0 289.7 L686.0 289.3 L688.0 289.0 L690.0 288.7 L692.0 288.3 L694.0 288.0 L696.0 287.6 L698.0 287.3 L700.0 287.0 L702.0 286.6 L704.0 286.3 L706.0 285.9 L708.0 285.6 L710.0 285.3 L712.0 284.9 L714.0 284.6 L716.0 284.2 L718.0 283.8 L720.0 283.5 L722.0 283.1 L724.0 282.7 L726.0 282.3 L728.0 281.9 L730.0 281.5 L732.0 281.1 L734.0 280.7 L736.0 280.3 L738.0 279.9 L740.0 279.5 L742.0 279.1 L744.0 278.7 L746.0 278.3 L748.0 277.8 L750.0 277.3 L752.0 276.8 L754.0 276.3 L756.0 275.8 L758.0 275.2 L760.0 274.7 L762.0 274.1 L764.0 273.6 L766.0 273.1 L768.0 272.5 L770.0 272.0" stroke="#e06c6c" stroke-width="2.2" fill="none" stroke-linejoin="round" stroke-linecap="round"/>
<path d="M0.0 312.2 L2.0 312.1 L4.0 312.1 L6.0 312.0 L8.0 312.0 L10.0 311.9 L12.0 311.9 L14.0 311.9 L16.0 311.9 L18.0 312.0 L20.0 312.0 L22.0 312.1 L24.0 312.2 L26.0 312.2 L28.0 312.3 L30.0 312.5 L32.0 312.6 L34.0 312.7 L36.0 312.8 L38.0 313.0 L40.0 313.1 L42.0 313.3 L44.0 313.6 L46.0 313.9 L48.0 314.3 L50.0 314.7 L52.0 315.2 L54.0 315.6 L56.0 316.1 L58.0 316.6 L60.0 317.2 L62.0 317.7 L64.0 318.3 L66.0 318.9 L68.0 319.4 L70.0 320.0 L72.0 320.6 L74.0 321.1 L76.0 321.7 L78.0 322.3 L80.0 322.8 L82.0 323.3 L84.0 323.7 L86.0 324.1 L88.0 324.4 L90.0 324.8 L92.0 325.1 L94.0 325.4 L96.0 325.7 L98.0 326.1 L100.0 326.4 L102.0 326.7 L104.0 327.1 L106.0 327.4 L108.0 327.7 L110.0 328.0 L112.0 328.2 L114.0 328.4 L116.0 328.6 L118.0 328.8 L120.0 328.9 L122.0 329.0 L124.0 329.0 L126.0 329.0 L128.0 328.9 L130.0 328.8 L132.0 328.7 L134.0 328.6 L136.0 328.5 L138.0 328.3 L140.0 328.2 L142.0 328.0 L144.0 327.8 L146.0 327.7 L148.0 327.5 L150.0 327.4 L152.0 327.3 L154.0 327.1 L156.0 327.0 L158.0 326.9 L160.0 326.7 L162.0 326.5 L164.0 326.3 L166.0 325.9 L168.0 325.5 L170.0 325.1 L172.0 324.7 L174.0 324.2 L176.0 323.9 L178.0 323.5 L180.0 323.1 L182.0 322.8 L184.0 322.4 L186.0 322.1 L188.0 321.7 L190.0 321.4 L192.0 321.0 L194.0 320.5 L196.0 320.1 L198.0 319.7 L200.0 319.3 L202.0 318.9 L204.0 318.4 L206.0 318.0 L208.0 317.6 L210.0 317.3 L212.0 316.9 L214.0 316.5 L216.0 316.2 L218.0 315.9 L220.0 315.7 L222.0 315.4 L224.0 315.2 L226.0 315.0 L228.0 315.0 L230.0 314.9 L232.0 315.0 L234.0 315.2 L236.0 315.3 L238.0 315.5 L240.0 315.8 L242.0 316.0 L244.0 316.3 L246.0 316.7 L248.0 317.1 L250.0 317.5 L252.0 317.9 L254.0 318.1 L256.0 318.3 L258.0 318.5 L260.0 318.6 L262.0 318.6 L264.0 318.7 L266.0 318.6 L268.0 318.5 L270.0 318.3 L272.0 318.0 L274.0 317.7 L276.0 317.4 L278.0 317.1 L280.0 316.8 L282.0 316.5 L284.0 316.2 L286.0 316.0 L288.0 315.8 L290.0 315.5 L292.0 315.2 L294.0 314.9 L296.0 314.6 L298.0 314.2 L300.0 313.8 L302.0 313.5 L304.0 313.2 L306.0 312.8 L308.0 312.4 L310.0 312.0 L312.0 311.5 L314.0 310.9 L316.0 310.3 L318.0 309.7 L320.0 309.2 L322.0 308.9 L324.0 308.5 L326.0 308.3 L328.0 308.2 L330.0 308.1 L332.0 308.0 L334.0 307.9 L336.0 307.7 L338.0 307.6 L340.0 307.5 L342.0 307.4 L344.0 307.3 L346.0 307.2 L348.0 307.1 L350.0 307.0 L352.0 306.9 L354.0 306.8 L356.0 306.7 L358.0 306.6 L360.0 306.5 L362.0 306.3 L364.0 306.1 L366.0 305.9 L368.0 305.7 L370.0 305.5 L372.0 305.1 L374.0 304.6 L376.0 304.0 L378.0 303.3 L380.0 302.3 L382.0 301.3 L384.0 300.1 L386.0 298.8 L388.0 297.5 L390.0 296.0 L392.0 294.5 L394.0 292.9 L396.0 291.3 L398.0 289.6 L400.0 287.9 L402.0 286.2 L404.0 284.4 L406.0 282.6 L408.0 280.7 L410.0 278.7 L412.0 276.7 L414.0 274.7 L416.0 272.7 L418.0 270.7 L420.0 268.7 L422.0 266.7 L424.0 264.7 L426.0 262.7 L428.0 260.7 L430.0 258.8 L432.0 257.0 L434.0 255.1 L436.0 253.4 L438.0 251.5 L440.0 249.7 L442.0 247.8 L444.0 245.8 L446.0 243.7 L448.0 241.6 L450.0 239.4 L452.0 237.1 L454.0 234.7 L456.0 232.3 L458.0 229.9 L460.0 227.4 L462.0 224.9 L464.0 222.3 L466.0 219.8 L468.0 217.4 L470.0 215.2 L472.0 213.2 L474.0 211.5 L476.0 209.8 L478.0 208.1 L480.0 206.5 L482.0 205.0 L484.0 203.4 L486.0 201.7 L488.0 199.9 L490.0 198.0 L492.0 196.0 L494.0 194.0 L496.0 192.0 L498.0 190.0 L500.0 188.0 L502.0 186.0 L504.0 184.0 L506.0 182.0 L508.0 180.0 L510.0 178.0 L512.0 176.0 L514.0 174.1 L516.0 171.9 L518.0 169.5 L520.0 166.8 L522.0 163.9 L524.0 160.7 L526.0 157.7 L528.0 154.8 L530.0 152.1 L532.0 149.6 L534.0 147.2 L536.0 144.9 L538.0 142.6 L540.0 140.4 L542.0 138.4 L544.0 136.5 L546.0 134.7 L548.0 133.2 L550.0 131.8 L552.0 130.6 L554.0 129.5 L556.0 128.4 L558.0 127.5 L560.0 126.6 L562.0 125.8 L564.0 124.9 L566.0 124.0 L568.0 123.1 L570.0 122.3 L572.0 121.5 L574.0 120.8 L576.0 120.1 L578.0 119.6 L580.0 119.0 L582.0 118.5 L584.0 118.1 L586.0 117.6 L588.0 117.2 L590.0 116.7 L592.0 116.2 L594.0 115.6 L596.0 115.1 L598.0 114.5 L600.0 114.0 L602.0 113.5 L604.0 113.0 L606.0 112.6 L608.0 112.3 L610.0 112.0 L612.0 111.8 L614.0 111.7 L616.0 111.7 L618.0 111.7 L620.0 111.8 L622.0 111.9 L624.0 112.2 L626.0 112.5 L628.0 112.8 L630.0 113.2 L632.0 113.6 L634.0 114.0 L636.0 114.4 L638.0 114.8 L640.0 115.2 L642.0 115.6 L644.0 116.0 L646.0 116.4 L648.0 116.9 L650.0 117.3 L652.0 117.7 L654.0 118.2 L656.0 118.6 L658.0 119.1 L660.0 119.7 L662.0 120.4 L664.0 121.2 L666.0 122.0 L668.0 122.9 L670.0 124.0 L672.0 125.2 L674.0 126.5 L676.0 128.0 L678.0 129.6 L680.0 131.2 L682.0 132.9 L684.0 134.6 L686.0 136.3 L688.0 138.1 L690.0 139.8 L692.0 141.6 L694.0 143.3 L696.0 145.0 L698.0 146.6 L700.0 148.1 L702.0 149.6 L704.0 150.9 L706.0 152.3 L708.0 153.7 L710.0 155.1 L712.0 156.5 L714.0 157.9 L716.0 159.2 L718.0 160.6 L720.0 161.9 L722.0 163.1 L724.0 164.2 L726.0 165.3 L728.0 166.2 L730.0 167.1 L732.0 167.8 L734.0 168.5 L736.0 169.1 L738.0 169.6 L740.0 170.1 L742.0 170.5 L744.0 170.8 L746.0 171.1 L748.0 171.4 L750.0 171.6 L752.0 171.8 L754.0 171.9 L756.0 172.0 L758.0 172.1 L760.0 172.2 L762.0 172.2 L764.0 172.3 L766.0 172.3 L768.0 172.3 L770.0 172.3 L770.6 172.3" stroke="#ff14c8" stroke-width="2.3" fill="none" stroke-linejoin="round" stroke-linecap="round"/>
<path d="M24.0 391.7 L27.0 391.1 L30.0 390.4 L33.0 389.8 L36.0 389.1 L39.0 388.5 L42.0 387.9 L45.0 387.2 L48.0 386.6 L51.0 386.0 L54.0 385.4 L57.0 384.8 L60.0 384.3 L63.0 383.7 L66.0 383.2 L69.0 382.7 L72.0 382.2 L75.0 381.7 L78.0 381.2 L81.0 380.7 L84.0 380.2 L87.0 379.8 L90.0 379.4 L93.0 379.1 L96.0 378.8 L99.0 378.5 L102.0 378.2 L105.0 377.9 L108.0 377.6 L111.0 377.3 L114.0 377.1 L117.0 376.9 L120.0 376.6 L123.0 376.4 L126.0 376.2 L129.0 375.9 L132.0 375.7 L135.0 375.4 L138.0 375.2 L141.0 374.9 L144.0 374.7 L147.0 374.4 L150.0 374.1 L153.0 373.7 L156.0 373.3 L159.0 372.8 L162.0 372.4 L165.0 372.0 L168.0 371.6 L171.0 371.2 L174.0 370.8 L177.0 370.5 L180.0 370.1 L183.0 369.7 L186.0 369.3 L189.0 369.0 L192.0 368.6 L195.0 368.3 L198.0 368.0 L201.0 367.6 L204.0 367.3 L207.0 367.0 L210.0 366.7 L213.0 366.4 L216.0 366.1 L219.0 365.8 L222.0 365.5 L225.0 365.2 L228.0 364.9 L231.0 364.6 L234.0 364.3 L237.0 364.0 L240.0 363.8 L243.0 363.5 L246.0 363.3 L249.0 363.1 L252.0 362.8 L255.0 362.6 L258.0 362.4 L261.0 362.1 L264.0 361.9 L267.0 361.7 L270.0 361.4 L273.0 361.2 L276.0 360.9 L279.0 360.7 L282.0 360.4 L285.0 360.1 L288.0 359.7 L291.0 359.4 L294.0 359.1 L297.0 358.8 L300.0 358.6 L303.0 358.3 L306.0 358.0 L309.0 357.7 L312.0 357.4 L315.0 357.0 L318.0 356.6 L321.0 356.1 L324.0 355.7 L327.0 355.2 L330.0 354.8 L333.0 354.3 L336.0 353.8 L339.0 353.4 L342.0 353.0 L345.0 352.6 L348.0 352.2 L351.0 351.8 L354.0 351.4 L357.0 351.1 L360.0 350.7 L363.0 350.3 L366.0 349.8 L369.0 349.3 L372.0 348.8 L375.0 348.2 L378.0 347.5 L381.0 346.9 L384.0 346.2 L387.0 345.5 L390.0 344.6 L393.0 343.7 L396.0 342.7 L399.0 341.6 L402.0 340.5 L405.0 339.5 L408.0 338.4 L411.0 337.3 L414.0 336.1 L417.0 334.9 L420.0 333.8 L423.0 332.6 L426.0 331.3 L429.0 330.1 L432.0 328.7 L435.0 327.3 L438.0 325.9 L441.0 324.4 L444.0 323.0 L447.0 321.5 L450.0 320.0 L453.0 318.5 L456.0 317.0 L459.0 315.5 L462.0 313.9 L465.0 312.4 L468.0 310.8 L471.0 309.2 L474.0 307.5 L477.0 305.8 L480.0 304.1 L483.0 302.5 L486.0 300.7 L489.0 299.0 L492.0 297.3 L495.0 295.5 L498.0 293.8 L501.0 292.0 L504.0 290.3 L507.0 288.6 L510.0 287.0 L513.0 285.5 L516.0 284.1 L519.0 282.8 L522.0 281.5 L525.0 280.2 L528.0 278.8 L531.0 277.5 L534.0 276.1 L537.0 274.7 L540.0 273.3 L543.0 271.9 L546.0 270.6 L549.0 269.4 L552.0 268.2 L555.0 267.2 L558.0 266.3 L561.0 265.3 L564.0 264.4 L567.0 263.4 L570.0 262.6 L573.0 261.7 L576.0 260.9 L579.0 260.1 L582.0 259.3 L585.0 258.6 L588.0 257.8 L591.0 257.1 L594.0 256.4 L597.0 255.8 L600.0 255.2 L603.0 254.6 L606.0 254.0 L609.0 253.4 L612.0 252.8 L615.0 252.2 L618.0 251.6 L621.0 251.0 L624.0 250.4 L627.0 249.8 L630.0 249.3 L633.0 248.7 L636.0 248.1 L639.0 247.6 L642.0 247.0 L645.0 246.4 L648.0 245.8 L651.0 245.3 L654.0 244.7 L657.0 244.1 L660.0 243.5 L663.0 242.9 L666.0 242.3 L669.0 241.7 L672.0 241.1 L675.0 240.5 L678.0 239.9 L681.0 239.3 L684.0 238.7 L687.0 238.2 L690.0 237.6 L693.0 237.0 L696.0 236.4 L699.0 235.8 L702.0 235.3 L705.0 234.7 L708.0 234.1 L711.0 233.5 L714.0 232.9 L717.0 232.3 L720.0 231.6 L723.0 230.9 L726.0 230.2 L729.0 229.5 L732.0 228.7 L735.0 228.0 L738.0 227.3 L741.0 226.6 L744.0 225.9 L747.0 225.1 L750.0 224.4 L753.0 223.7 L756.0 223.0 L759.0 222.3 L762.0 221.5 L765.0 220.8 L768.0 220.2 L771.0 219.6 L771.3 219.3" stroke="#2a2ad8" stroke-width="1.3" fill="none" stroke-dasharray="11.5 12.5" stroke-dashoffset="2.1"/>
<g shape-rendering="crispEdges">
<path d="M1 80.5 H778" stroke="#ff0000" stroke-width="1" stroke-dasharray="20 8" fill="none"/>
<path d="M1 103.5 H778" stroke="#ff0000" stroke-width="1" stroke-dasharray="20 8" fill="none"/>
<path d="M1 141.5 H778" stroke="#ff0000" stroke-width="1" stroke-dasharray="20 8" fill="none"/>
<path d="M1 184.5 H778" stroke="#ff0000" stroke-width="1" stroke-dasharray="20 8" fill="none"/>
<path d="M1 272.5 H778" stroke="#ff0000" stroke-width="1" stroke-dasharray="20 8" fill="none"/>
<path d="M0 38.0 H782" stroke="#000" stroke-width="2" fill="none"/>
<path d="M0 51.0 H782" stroke="#000" stroke-width="2" fill="none"/>
<path d="M0 230.0 H782" stroke="#000" stroke-width="2" fill="none"/>
<path d="M0 361.0 H782" stroke="#000" stroke-width="2" fill="none"/>
</g>
<path d="M532.6 38.5 L783 206.6" stroke="#000" stroke-width="2.1" fill="none"/>
<path d="M728.2 222.3 L783 121" stroke="#000" stroke-width="2.2" fill="none"/>
<path d="M389 392.8 L783 317.5" stroke="#000" stroke-width="2.2" fill="none"/>
<text x="3" y="78.0">3,06</text>
<text x="3" y="101.0">3</text>
<text x="3" y="139.0">2,895</text>
<text x="3" y="182.0">2,78</text>
<text x="3" y="270.0">2,54</text>
<text x="3" y="48.9">3,14</text>
<text x="3" y="227.9">2,655</text>
<text x="3" y="358.9">2,3</text>
</g>
<g shape-rendering="crispEdges"><rect x="0.5" y="20.5" width="35.0" height="14.0" fill="url(#tag)" stroke="#98a6ae" stroke-width="1"/>
<path d="M1.5 33.5 V21.5 H34.5" fill="none" stroke="#e6f1f5" stroke-width="1"/></g>
<text x="3.7" y="30.9" fill="#000" textLength="29.0" lengthAdjust="spacingAndGlyphs">Precio</text>
<g shape-rendering="crispEdges"><rect x="35.5" y="20.5" width="78.0" height="14.0" fill="url(#tag)" stroke="#98a6ae" stroke-width="1"/>
<path d="M36.5 33.5 V21.5 H112.5" fill="none" stroke="#e6f1f5" stroke-width="1"/></g>
<text x="38.5" y="30.9" fill="#2f7bff" textLength="72.5" lengthAdjust="spacingAndGlyphs">MM (Simple 20)</text>
<g shape-rendering="crispEdges"><rect x="113.5" y="20.5" width="77.0" height="14.0" fill="url(#tag)" stroke="#98a6ae" stroke-width="1"/>
<path d="M114.5 33.5 V21.5 H189.5" fill="none" stroke="#e6f1f5" stroke-width="1"/></g>
<text x="116.0" y="30.9" fill="#cfc82a" textLength="72.5" lengthAdjust="spacingAndGlyphs">MM (Simple 50)</text>
<g shape-rendering="crispEdges"><rect x="190.5" y="20.5" width="85.0" height="14.0" fill="url(#tag)" stroke="#98a6ae" stroke-width="1"/>
<path d="M191.5 33.5 V21.5 H274.5" fill="none" stroke="#e6f1f5" stroke-width="1"/></g>
<text x="194.1" y="30.9" fill="#e27272" textLength="78.5" lengthAdjust="spacingAndGlyphs">MM (Simple 200)</text>
<g shape-rendering="crispEdges"><rect x="275.5" y="20.5" width="77.0" height="14.0" fill="url(#tag)" stroke="#98a6ae" stroke-width="1"/>
<path d="M276.5 33.5 V21.5 H351.5" fill="none" stroke="#e6f1f5" stroke-width="1"/></g>
<text x="278.2" y="30.9" fill="#ff14c8" textLength="72.5" lengthAdjust="spacingAndGlyphs">MM (Simple 30)</text>
<g shape-rendering="crispEdges"><rect x="352.5" y="20.5" width="85.0" height="14.0" fill="url(#tag)" stroke="#98a6ae" stroke-width="1"/>
<path d="M353.5 33.5 V21.5 H436.5" fill="none" stroke="#e6f1f5" stroke-width="1"/></g>
<text x="355.9" y="30.9" fill="#2222d2" textLength="78.5" lengthAdjust="spacingAndGlyphs">MM (Simple 132)</text>
<g shape-rendering="crispEdges"><rect x="0.5" y="396.5" width="47.0" height="13.0" fill="url(#tag)" stroke="#98a6ae" stroke-width="1"/>
<path d="M1.5 408.5 V397.5 H46.5" fill="none" stroke="#e6f1f5" stroke-width="1"/></g>
<text x="3.7" y="406.9" fill="#55dd55" textLength="41.0" lengthAdjust="spacingAndGlyphs">Volumen</text>
<g shape-rendering="crispEdges"><rect x="47.5" y="396.5" width="78.0" height="13.0" fill="url(#tag)" stroke="#98a6ae" stroke-width="1"/>
<path d="M48.5 408.5 V397.5 H124.5" fill="none" stroke="#e6f1f5" stroke-width="1"/></g>
<text x="50.3" y="406.9" fill="#000" textLength="72.5" lengthAdjust="spacingAndGlyphs">MM (Simple 20)</text>
<g shape-rendering="crispEdges"><rect x="0.5" y="475.5" width="22.0" height="13.0" fill="url(#tag)" stroke="#98a6ae" stroke-width="1"/>
<path d="M1.5 487.5 V476.5 H21.5" fill="none" stroke="#e6f1f5" stroke-width="1"/></g>
<text x="3.9" y="485.9" fill="#000" textLength="16.0" lengthAdjust="spacingAndGlyphs">%K</text>
<g shape-rendering="crispEdges"><rect x="22.5" y="475.5" width="63.0" height="13.0" fill="url(#tag)" stroke="#98a6ae" stroke-width="1"/>
<path d="M23.5 487.5 V476.5 H84.5" fill="none" stroke="#e6f1f5" stroke-width="1"/></g>
<text x="25.3" y="485.9" fill="#e27272" textLength="57.5" lengthAdjust="spacingAndGlyphs">%D (14 3 5)</text>
<g shape-rendering="crispEdges"><rect x="0.5" y="537.5" width="72.0" height="13.0" fill="url(#tag)" stroke="#98a6ae" stroke-width="1"/>
<path d="M1.5 549.5 V538.5 H71.5" fill="none" stroke="#e6f1f5" stroke-width="1"/></g>
<text x="3.9" y="547.9" fill="#66dd66" textLength="65.5" lengthAdjust="spacingAndGlyphs">MACD-, señal</text>
<g shape-rendering="crispEdges"><rect x="72.5" y="537.5" width="31.0" height="13.0" fill="url(#tag)" stroke="#98a6ae" stroke-width="1"/>
<path d="M73.5 549.5 V538.5 H102.5" fill="none" stroke="#e6f1f5" stroke-width="1"/></g>
<text x="75.1" y="547.9" fill="#e27272" textLength="26.0" lengthAdjust="spacingAndGlyphs">Señal</text>
<g shape-rendering="crispEdges"><rect x="103.5" y="537.5" width="82.0" height="13.0" fill="url(#tag)" stroke="#98a6ae" stroke-width="1"/>
<path d="M104.5 549.5 V538.5 H184.5" fill="none" stroke="#e6f1f5" stroke-width="1"/></g>
<text x="106.5" y="547.9" fill="#3030d8" textLength="76.5" lengthAdjust="spacingAndGlyphs">MACD (12 26 9)</text>
<g shape-rendering="crispEdges"><rect x="6" y="8" width="1" height="11" fill="#d03838"/><rect x="3.5" y="10.3" width="6" height="6.4" fill="#d84040"/><rect x="4.5" y="11.3" width="4" height="4.4" fill="#f58a8a"/>
<rect x="14" y="3" width="1" height="15.5" fill="#18a018"/><rect x="11.5" y="6" width="6" height="9.4" fill="#20a020"/><rect x="12.5" y="7" width="4" height="7.4" fill="#5fe85f"/></g>
<g font-weight="bold" font-size="11px">
<text x="23.3" y="14.6" textLength="57.2" lengthAdjust="spacingAndGlyphs">ENC - ENCE</text>
<text x="93.4" y="14.6" textLength="72.8" lengthAdjust="spacingAndGlyphs">2,990 (+1,87%)</text>
<text x="179.5" y="14.6" textLength="29.2" lengthAdjust="spacingAndGlyphs">Diario</text>
<text x="216.4" y="14.6" textLength="62.6" lengthAdjust="spacingAndGlyphs">14 ene 2014</text>
<text x="831" y="14.6" text-anchor="end" textLength="128" lengthAdjust="spacingAndGlyphs">www.ProRealTime.com</text>
</g>
<path d="M782.5 29.5 h4.5" stroke="#8b9aa5" stroke-width="1"/>
<text x="789" y="32.7">3,2</text>
<path d="M782.5 47.5 h4.5" stroke="#8b9aa5" stroke-width="1"/>
<text x="789" y="51.1">3,15</text>
<path d="M782.5 66.5 h4.5" stroke="#8b9aa5" stroke-width="1"/>
<text x="789" y="69.6">3,1</text>
<path d="M782.5 84.5 h4.5" stroke="#8b9aa5" stroke-width="1"/>
<text x="789" y="88.0">3,05</text>
<path d="M782.5 103.5 h4.5" stroke="#8b9aa5" stroke-width="1"/>
<text x="789" y="106.9" font-weight="bold" font-size="12px">3</text>
<path d="M782.5 121.5 h4.5" stroke="#8b9aa5" stroke-width="1"/>
<text x="789" y="124.9">2,95</text>
<path d="M782.5 139.5 h4.5" stroke="#8b9aa5" stroke-width="1"/>
<text x="789" y="143.4">2,9</text>
<path d="M782.5 158.5 h4.5" stroke="#8b9aa5" stroke-width="1"/>
<text x="789" y="161.8">2,85</text>
<path d="M782.5 176.5 h4.5" stroke="#8b9aa5" stroke-width="1"/>
<text x="789" y="180.3">2,8</text>
<path d="M782.5 195.5 h4.5" stroke="#8b9aa5" stroke-width="1"/>
<text x="789" y="198.7">2,75</text>
<path d="M782.5 213.5 h4.5" stroke="#8b9aa5" stroke-width="1"/>
<text x="789" y="217.2">2,7</text>
<path d="M782.5 232.5 h4.5" stroke="#8b9aa5" stroke-width="1"/>
<text x="789" y="235.6">2,65</text>
<path d="M782.5 250.5 h4.5" stroke="#8b9aa5" stroke-width="1"/>
<text x="789" y="254.1">2,6</text>
<path d="M782.5 269.5 h4.5" stroke="#8b9aa5" stroke-width="1"/>
<text x="789" y="272.5">2,55</text>
<path d="M782.5 287.5 h4.5" stroke="#8b9aa5" stroke-width="1"/>
<text x="789" y="291.4" font-weight="bold" font-size="12px">2,5</text>
<path d="M782.5 306.5 h4.5" stroke="#8b9aa5" stroke-width="1"/>
<text x="789" y="309.4">2,45</text>
<path d="M782.5 324.5 h4.5" stroke="#8b9aa5" stroke-width="1"/>
<text x="789" y="327.9">2,4</text>
<path d="M782.5 342.5 h4.5" stroke="#8b9aa5" stroke-width="1"/>
<text x="789" y="346.3">2,35</text>
<path d="M782.5 361.5 h4.5" stroke="#8b9aa5" stroke-width="1"/>
<text x="789" y="364.8">2,3</text>
<path d="M782.5 379.5 h4.5" stroke="#8b9aa5" stroke-width="1"/>
<text x="789" y="383.2">2,25</text>
<path d="M782.5 417.5 h4.5" stroke="#8b9aa5" stroke-width="1"/>
<text x="789" y="420.6">10M</text>
<path d="M782.5 443.5 h4.5" stroke="#8b9aa5" stroke-width="1"/>
<text x="789" y="447.2">5.000K</text>
<path d="M782.5 478.6 h4.5" stroke="#8b9aa5" stroke-width="1"/>
<text x="789" y="486.5" font-weight="bold" font-size="12px">100</text>
<path d="M782.5 505.5 h4.5" stroke="#8b9aa5" stroke-width="1"/>
<text x="789" y="508.6">50</text>
<path d="M782.5 531.5 h4.5" stroke="#8b9aa5" stroke-width="1"/>
<text x="789" y="531.8" font-weight="bold" font-size="12px">0</text>
<path d="M782.5 544.5 h4.5" stroke="#8b9aa5" stroke-width="1"/>
<text x="789" y="548.2">0,1</text>
<path d="M782.5 561.5 h4.5" stroke="#8b9aa5" stroke-width="1"/>
<text x="789" y="564.5">0,05</text>
<path d="M782.5 577.5 h4.5" stroke="#8b9aa5" stroke-width="1"/>
<text x="789" y="581.3" font-weight="bold" font-size="12px">0</text>
<path d="M782.5 594.5 h4.5" stroke="#8b9aa5" stroke-width="1"/>
<text x="789" y="597.4">-0,05</text>
<rect x="787.3" y="169.5" width="35.7" height="15.0" fill="url(#box)" stroke="#9aa4ac" stroke-width="1"/>
<text x="789.9" y="181.0" fill="#2f7bff" textLength="31.0" lengthAdjust="spacingAndGlyphs">2,8005</text>
<rect x="787.3" y="164.0" width="35.7" height="15.0" fill="url(#box)" stroke="#9aa4ac" stroke-width="1"/>
<text x="789.9" y="175.5" fill="#ff14c8" textLength="31.0" lengthAdjust="spacingAndGlyphs">2,8107</text>
<rect x="787.3" y="98.4" width="29.2" height="15.2" fill="url(#ylw)" stroke="#9aa4ac" stroke-width="1"/>
<text x="789.9" y="110.0" fill="#000" textLength="25.5" lengthAdjust="spacingAndGlyphs">2,990</text>
<rect x="787.3" y="136.2" width="35.7" height="15.1" fill="url(#box)" stroke="#9aa4ac" stroke-width="1"/>
<text x="789.9" y="147.8" fill="#d2cc20" textLength="31.0" lengthAdjust="spacingAndGlyphs">2,8880</text>
<rect x="787.3" y="211.3" width="35.7" height="15.1" fill="url(#box)" stroke="#9aa4ac" stroke-width="1"/>
<text x="789.9" y="222.9" fill="#2222d2" textLength="31.0" lengthAdjust="spacingAndGlyphs">2,6845</text>
<rect x="787.3" y="263.3" width="35.7" height="15.1" fill="url(#box)" stroke="#9aa4ac" stroke-width="1"/>
<text x="789.9" y="274.9" fill="#e26a6a" textLength="31.0" lengthAdjust="spacingAndGlyphs">2,5430</text>
<rect x="787.0" y="454.7" width="41.7" height="15.3" fill="url(#box)" stroke="#9aa4ac" stroke-width="1"/>
<text x="789.6" y="466.4" fill="#5fdc5f" textLength="37.0" lengthAdjust="spacingAndGlyphs">963.644</text>
<rect x="786.8" y="479.9" width="36.2" height="14.0" fill="url(#box)" stroke="#9aa4ac" stroke-width="1"/>
<text x="789.4" y="490.9" fill="#000" textLength="31.0" lengthAdjust="spacingAndGlyphs">85,417</text>
<rect x="787.2" y="571.8" width="38.8" height="14.2" fill="url(#box)" stroke="#9aa4ac" stroke-width="1"/>
<text x="789.8" y="582.9" fill="#e26a6a" textLength="34.0" lengthAdjust="spacingAndGlyphs">-0,0051</text>
<rect x="787.2" y="559.7" width="35.8" height="14.1" fill="url(#box)" stroke="#9aa4ac" stroke-width="1"/>
<text x="789.8" y="570.8" fill="#5fdc5f" textLength="31.0" lengthAdjust="spacingAndGlyphs">0,0306</text>
<g clip-path="url(#cv)">
<g shape-rendering="crispEdges">
<rect x="3" y="469.8" width="4" height="2.0" fill="#c03030"/>
<rect x="8" y="469.8" width="4" height="2.0" fill="#c03030"/>
<rect x="14" y="469.8" width="4" height="2.0" fill="#c03030"/>
<rect x="19" y="470.8" width="4" height="1.0" fill="#18a018"/>
<rect x="24" y="470.8" width="4" height="1.0" fill="#18a018"/>
<rect x="29" y="470.8" width="4" height="1.0" fill="#18a018"/>
<rect x="35" y="468.8" width="4" height="3.0" fill="#c03030"/>
<rect x="36" y="469.8" width="2" height="2.0" fill="#f08888"/>
<rect x="40" y="469.8" width="4" height="2.0" fill="#c03030"/>
<rect x="45" y="470.8" width="4" height="1.0" fill="#18a018"/>
<rect x="51" y="470.8" width="4" height="1.0" fill="#c03030"/>
<rect x="56" y="470.8" width="4" height="1.0" fill="#18a018"/>
<rect x="61" y="470.8" width="4" height="1.0" fill="#18a018"/>
<rect x="66" y="465.8" width="4" height="6.0" fill="#18a018"/>
<rect x="67" y="466.8" width="2" height="5.0" fill="#4fe04f"/>
<rect x="72" y="470.8" width="4" height="1.0" fill="#18a018"/>
<rect x="77" y="470.8" width="4" height="1.0" fill="#18a018"/>
<rect x="82" y="468.8" width="4" height="3.0" fill="#18a018"/>
<rect x="83" y="469.8" width="2" height="2.0" fill="#4fe04f"/>
<rect x="88" y="469.8" width="4" height="2.0" fill="#c03030"/>
<rect x="93" y="470.8" width="4" height="1.0" fill="#18a018"/>
<rect x="98" y="470.8" width="4" height="1.0" fill="#c03030"/>
<rect x="103" y="446.8" width="4" height="25.0" fill="#c03030"/>
<rect x="104" y="447.8" width="2" height="24.0" fill="#f08888"/>
<rect x="109" y="461.8" width="4" height="10.0" fill="#18a018"/>
<rect x="110" y="462.8" width="2" height="9.0" fill="#4fe04f"/>
<rect x="114" y="467.8" width="4" height="4.0" fill="#c03030"/>
<rect x="115" y="468.8" width="2" height="3.0" fill="#f08888"/>
<rect x="119" y="467.8" width="4" height="4.0" fill="#c03030"/>
<rect x="120" y="468.8" width="2" height="3.0" fill="#f08888"/>
<rect x="124" y="469.8" width="4" height="2.0" fill="#18a018"/>
<rect x="130" y="466.8" width="4" height="5.0" fill="#c03030"/>
<rect x="131" y="467.8" width="2" height="4.0" fill="#f08888"/>
<rect x="135" y="469.8" width="4" height="2.0" fill="#c03030"/>
<rect x="140" y="469.8" width="4" height="2.0" fill="#18a018"/>
<rect x="146" y="468.8" width="4" height="3.0" fill="#18a018"/>
<rect x="147" y="469.8" width="2" height="2.0" fill="#4fe04f"/>
<rect x="151" y="468.8" width="4" height="3.0" fill="#c03030"/>
<rect x="152" y="469.8" width="2" height="2.0" fill="#f08888"/>
<rect x="156" y="468.8" width="4" height="3.0" fill="#18a018"/>
<rect x="157" y="469.8" width="2" height="2.0" fill="#4fe04f"/>
<rect x="161" y="469.8" width="4" height="2.0" fill="#18a018"/>
<rect x="167" y="468.8" width="4" height="3.0" fill="#18a018"/>
<rect x="168" y="469.8" width="2" height="2.0" fill="#4fe04f"/>
<rect x="172" y="470.8" width="4" height="1.0" fill="#c03030"/>
<rect x="177" y="470.8" width="4" height="1.0" fill="#c03030"/>
<rect x="183" y="468.8" width="4" height="3.0" fill="#18a018"/>
<rect x="184" y="469.8" width="2" height="2.0" fill="#4fe04f"/>
<rect x="188" y="470.8" width="4" height="1.0" fill="#c03030"/>
<rect x="193" y="469.8" width="4" height="2.0" fill="#c03030"/>
<rect x="198" y="470.8" width="4" height="1.0" fill="#18a018"/>
<rect x="204" y="468.8" width="4" height="3.0" fill="#18a018"/>
<rect x="205" y="469.8" width="2" height="2.0" fill="#4fe04f"/>
<rect x="209" y="470.8" width="4" height="1.0" fill="#18a018"/>
<rect x="214" y="470.8" width="4" height="1.0" fill="#c03030"/>
<rect x="219" y="470.8" width="4" height="1.0" fill="#c03030"/>
<rect x="225" y="470.8" width="4" height="1.0" fill="#18a018"/>
<rect x="230" y="468.8" width="4" height="3.0" fill="#c03030"/>
<rect x="231" y="469.8" width="2" height="2.0" fill="#f08888"/>
<rect x="235" y="470.8" width="4" height="1.0" fill="#c03030"/>
<rect x="241" y="470.8" width="4" height="1.0" fill="#c03030"/>
<rect x="246" y="470.8" width="4" height="1.0" fill="#c03030"/>
<rect x="251" y="470.8" width="4" height="1.0" fill="#c03030"/>
<rect x="256" y="470.8" width="4" height="1.0" fill="#18a018"/>
<rect x="262" y="470.8" width="4" height="1.0" fill="#18a018"/>
<rect x="267" y="470.8" width="4" height="1.0" fill="#c03030"/>
<rect x="272" y="470.8" width="4" height="1.0" fill="#c03030"/>
<rect x="278" y="470.8" width="4" height="1.0" fill="#18a018"/>
<rect x="283" y="467.8" width="4" height="4.0" fill="#c03030"/>
<rect x="284" y="468.8" width="2" height="3.0" fill="#f08888"/>
<rect x="288" y="465.8" width="4" height="6.0" fill="#c03030"/>
<rect x="289" y="466.8" width="2" height="5.0" fill="#f08888"/>
<rect x="293" y="470.8" width="4" height="1.0" fill="#18a018"/>
<rect x="299" y="470.8" width="4" height="1.0" fill="#18a018"/>
<rect x="304" y="470.8" width="4" height="1.0" fill="#c03030"/>
<rect x="309" y="470.8" width="4" height="1.0" fill="#18a018"/>
<rect x="315" y="470.8" width="4" height="1.0" fill="#18a018"/>
<rect x="320" y="470.8" width="4" height="1.0" fill="#18a018"/>
<rect x="325" y="470.8" width="4" height="1.0" fill="#c03030"/>
<rect x="330" y="470.8" width="4" height="1.0" fill="#c03030"/>
<rect x="336" y="470.8" width="4" height="1.0" fill="#18a018"/>
<rect x="341" y="470.8" width="4" height="1.0" fill="#c03030"/>
<rect x="346" y="470.8" width="4" height="1.0" fill="#18a018"/>
<rect x="351" y="470.8" width="4" height="1.0" fill="#c03030"/>
<rect x="357" y="470.8" width="4" height="1.0" fill="#18a018"/>
<rect x="362" y="470.8" width="4" height="1.0" fill="#c03030"/>
<rect x="367" y="470.8" width="4" height="1.0" fill="#c03030"/>
<rect x="373" y="470.8" width="4" height="1.0" fill="#18a018"/>
<rect x="378" y="467.8" width="4" height="4.0" fill="#18a018"/>
<rect x="379" y="468.8" width="2" height="3.0" fill="#4fe04f"/>
<rect x="383" y="470.8" width="4" height="1.0" fill="#c03030"/>
<rect x="388" y="466.8" width="4" height="5.0" fill="#18a018"/>
<rect x="389" y="467.8" width="2" height="4.0" fill="#4fe04f"/>
<rect x="394" y="466.8" width="4" height="5.0" fill="#18a018"/>
<rect x="395" y="467.8" width="2" height="4.0" fill="#4fe04f"/>
<rect x="399" y="467.8" width="4" height="4.0" fill="#18a018"/>
<rect x="400" y="468.8" width="2" height="3.0" fill="#4fe04f"/>
<rect x="404" y="467.8" width="4" height="4.0" fill="#c03030"/>
<rect x="405" y="468.8" width="2" height="3.0" fill="#f08888"/>
<rect x="410" y="440.8" width="4" height="31.0" fill="#18a018"/>
<rect x="411" y="441.8" width="2" height="30.0" fill="#4fe04f"/>
<rect x="415" y="470.8" width="4" height="1.0" fill="#c03030"/>
<rect x="420" y="470.8" width="4" height="1.0" fill="#18a018"/>
<rect x="425" y="469.8" width="4" height="2.0" fill="#c03030"/>
<rect x="431" y="469.8" width="4" height="2.0" fill="#18a018"/>
<rect x="436" y="470.8" width="4" height="1.0" fill="#c03030"/>
<rect x="441" y="453.8" width="4" height="18.0" fill="#18a018"/>
<rect x="442" y="454.8" width="2" height="17.0" fill="#4fe04f"/>
<rect x="446" y="465.8" width="4" height="6.0" fill="#c03030"/>
<rect x="447" y="466.8" width="2" height="5.0" fill="#f08888"/>
<rect x="452" y="467.8" width="4" height="4.0" fill="#c03030"/>
<rect x="453" y="468.8" width="2" height="3.0" fill="#f08888"/>
<rect x="457" y="466.8" width="4" height="5.0" fill="#18a018"/>
<rect x="458" y="467.8" width="2" height="4.0" fill="#4fe04f"/>
<rect x="462" y="469.8" width="4" height="2.0" fill="#18a018"/>
<rect x="468" y="467.8" width="4" height="4.0" fill="#c03030"/>
<rect x="469" y="468.8" width="2" height="3.0" fill="#f08888"/>
<rect x="473" y="467.8" width="4" height="4.0" fill="#c03030"/>
<rect x="474" y="468.8" width="2" height="3.0" fill="#f08888"/>
<rect x="478" y="470.8" width="4" height="1.0" fill="#18a018"/>
<rect x="483" y="470.8" width="4" height="1.0" fill="#c03030"/>
<rect x="489" y="469.8" width="4" height="2.0" fill="#18a018"/>
<rect x="494" y="469.8" width="4" height="2.0" fill="#18a018"/>
<rect x="499" y="467.8" width="4" height="4.0" fill="#18a018"/>
<rect x="500" y="468.8" width="2" height="3.0" fill="#4fe04f"/>
<rect x="505" y="465.8" width="4" height="6.0" fill="#18a018"/>
<rect x="506" y="466.8" width="2" height="5.0" fill="#4fe04f"/>
<rect x="510" y="470.8" width="4" height="1.0" fill="#c03030"/>
<rect x="515" y="463.8" width="4" height="8.0" fill="#18a018"/>
<rect x="516" y="464.8" width="2" height="7.0" fill="#4fe04f"/>
<rect x="520" y="465.8" width="4" height="6.0" fill="#18a018"/>
<rect x="521" y="466.8" width="2" height="5.0" fill="#4fe04f"/>
<rect x="526" y="463.8" width="4" height="8.0" fill="#18a018"/>
<rect x="527" y="464.8" width="2" height="7.0" fill="#4fe04f"/>
<rect x="531" y="468.8" width="4" height="3.0" fill="#18a018"/>
<rect x="532" y="469.8" width="2" height="2.0" fill="#4fe04f"/>
<rect x="536" y="469.8" width="4" height="2.0" fill="#c03030"/>
<rect x="541" y="469.8" width="4" height="2.0" fill="#18a018"/>
<rect x="547" y="469.8" width="4" height="2.0" fill="#c03030"/>
<rect x="552" y="469.8" width="4" height="2.0" fill="#c03030"/>
<rect x="557" y="470.8" width="4" height="1.0" fill="#18a018"/>
<rect x="563" y="469.8" width="4" height="2.0" fill="#c03030"/>
<rect x="568" y="470.8" width="4" height="1.0" fill="#c03030"/>
<rect x="573" y="469.8" width="4" height="2.0" fill="#18a018"/>
<rect x="578" y="469.8" width="4" height="2.0" fill="#c03030"/>
<rect x="584" y="469.8" width="4" height="2.0" fill="#18a018"/>
<rect x="589" y="447.8" width="4" height="24.0" fill="#18a018"/>
<rect x="590" y="448.8" width="2" height="23.0" fill="#4fe04f"/>
<rect x="594" y="467.8" width="4" height="4.0" fill="#18a018"/>
<rect x="595" y="468.8" width="2" height="3.0" fill="#4fe04f"/>
<rect x="600" y="469.8" width="4" height="2.0" fill="#c03030"/>
<rect x="605" y="468.8" width="4" height="3.0" fill="#18a018"/>
<rect x="606" y="469.8" width="2" height="2.0" fill="#4fe04f"/>
<rect x="610" y="468.8" width="4" height="3.0" fill="#18a018"/>
<rect x="611" y="469.8" width="2" height="2.0" fill="#4fe04f"/>
<rect x="615" y="469.8" width="4" height="2.0" fill="#18a018"/>
<rect x="621" y="470.8" width="4" height="1.0" fill="#c03030"/>
<rect x="626" y="468.8" width="4" height="3.0" fill="#c03030"/>
<rect x="627" y="469.8" width="2" height="2.0" fill="#f08888"/>
<rect x="631" y="468.8" width="4" height="3.0" fill="#c03030"/>
<rect x="632" y="469.8" width="2" height="2.0" fill="#f08888"/>
<rect x="636" y="468.8" width="4" height="3.0" fill="#c03030"/>
<rect x="637" y="469.8" width="2" height="2.0" fill="#f08888"/>
<rect x="642" y="469.8" width="4" height="2.0" fill="#18a018"/>
<rect x="647" y="470.8" width="4" height="1.0" fill="#18a018"/>
<rect x="652" y="470.8" width="4" height="1.0" fill="#18a018"/>
<rect x="658" y="470.8" width="4" height="1.0" fill="#c03030"/>
<rect x="663" y="470.8" width="4" height="1.0" fill="#c03030"/>
<rect x="668" y="470.8" width="4" height="1.0" fill="#c03030"/>
<rect x="673" y="470.8" width="4" height="1.0" fill="#18a018"/>
<rect x="679" y="470.8" width="4" height="1.0" fill="#18a018"/>
<rect x="684" y="470.8" width="4" height="1.0" fill="#c03030"/>
<rect x="689" y="467.8" width="4" height="4.0" fill="#18a018"/>
<rect x="690" y="468.8" width="2" height="3.0" fill="#4fe04f"/>
<rect x="695" y="467.8" width="4" height="4.0" fill="#18a018"/>
<rect x="696" y="468.8" width="2" height="3.0" fill="#4fe04f"/>
<rect x="700" y="470.8" width="4" height="1.0" fill="#c03030"/>
<rect x="705" y="470.8" width="4" height="1.0" fill="#c03030"/>
<rect x="710" y="470.8" width="4" height="1.0" fill="#18a018"/>
<rect x="716" y="467.8" width="4" height="4.0" fill="#c03030"/>
<rect x="717" y="468.8" width="2" height="3.0" fill="#f08888"/>
<rect x="721" y="470.8" width="4" height="1.0" fill="#c03030"/>
<rect x="726" y="470.8" width="4" height="1.0" fill="#18a018"/>
<rect x="731" y="470.8" width="4" height="1.0" fill="#18a018"/>
<rect x="737" y="470.8" width="4" height="1.0" fill="#c03030"/>
<rect x="742" y="466.8" width="4" height="5.0" fill="#18a018"/>
<rect x="743" y="467.8" width="2" height="4.0" fill="#4fe04f"/>
<rect x="747" y="465.8" width="4" height="6.0" fill="#18a018"/>
<rect x="748" y="466.8" width="2" height="5.0" fill="#4fe04f"/>
<rect x="753" y="401.8" width="4" height="70.0" fill="#18a018"/>
<rect x="754" y="402.8" width="2" height="69.0" fill="#4fe04f"/>
<rect x="758" y="463.8" width="4" height="8.0" fill="#c03030"/>
<rect x="759" y="464.8" width="2" height="7.0" fill="#f08888"/>
<rect x="763" y="465.8" width="4" height="6.0" fill="#18a018"/>
<rect x="764" y="466.8" width="2" height="5.0" fill="#4fe04f"/>
<rect x="768" y="466.8" width="4" height="5.0" fill="#18a018"/>
<rect x="769" y="467.8" width="2" height="4.0" fill="#4fe04f"/>
</g>
<path d="M0.0 466.7 L2.0 466.7 L4.0 466.7 L6.0 466.7 L8.0 466.7 L10.0 466.7 L12.0 466.7 L14.0 466.7 L16.0 466.7 L18.0 466.7 L20.0 466.7 L22.0 466.7 L24.0 466.7 L26.0 466.7 L28.0 466.7 L30.0 466.7 L32.0 466.7 L34.0 466.7 L36.0 466.7 L38.0 466.7 L40.0 466.7 L42.0 466.7 L44.0 466.7 L46.0 466.7 L48.0 466.7 L50.0 466.8 L52.0 467.0 L54.0 467.2 L56.0 467.5 L58.0 467.7 L60.0 468.0 L62.0 468.1 L64.0 468.2 L66.0 468.4 L68.0 468.5 L70.0 468.6 L72.0 468.7 L74.0 468.8 L76.0 469.0 L78.0 469.1 L80.0 469.2 L82.0 469.3 L84.0 469.4 L86.0 469.5 L88.0 469.7 L90.0 469.8 L92.0 469.8 L94.0 469.9 L96.0 469.8 L98.0 469.7 L100.0 469.5 L102.0 469.3 L104.0 469.1 L106.0 468.9 L108.0 468.6 L110.0 468.4 L112.0 468.2 L114.0 468.0 L116.0 467.8 L118.0 467.8 L120.0 467.8 L122.0 467.8 L124.0 467.8 L126.0 467.8 L128.0 467.9 L130.0 467.9 L132.0 467.9 L134.0 467.9 L136.0 467.9 L138.0 467.9 L140.0 467.9 L142.0 467.9 L144.0 467.9 L146.0 467.9 L148.0 467.9 L150.0 468.0 L152.0 468.0 L154.0 468.0 L156.0 468.0 L158.0 468.0 L160.0 468.0 L162.0 467.9 L164.0 467.7 L166.0 467.6 L168.0 467.5 L170.0 467.3 L172.0 467.2 L174.0 467.1 L176.0 467.1 L178.0 467.2 L180.0 467.3 L182.0 467.5 L184.0 467.6 L186.0 467.7 L188.0 467.9 L190.0 468.0 L192.0 468.1 L194.0 468.3 L196.0 468.4 L198.0 468.5 L200.0 468.7 L202.0 468.8 L204.0 469.0 L206.0 469.2 L208.0 469.4 L210.0 469.7 L212.0 469.9 L214.0 470.1 L216.0 470.3 L218.0 470.3 L220.0 470.3 L222.0 470.3 L224.0 470.3 L226.0 470.3 L228.0 470.3 L230.0 470.3 L232.0 470.3 L234.0 470.3 L236.0 470.3 L238.0 470.3 L240.0 470.3 L242.0 470.3 L244.0 470.3 L246.0 470.3 L248.0 470.3 L250.0 470.3 L252.0 470.3 L254.0 470.3 L256.0 470.3 L258.0 470.3 L260.0 470.3 L262.0 470.3 L264.0 470.3 L266.0 470.3 L268.0 470.3 L270.0 470.3 L272.0 470.3 L274.0 470.3 L276.0 470.3 L278.0 470.3 L280.0 470.3 L282.0 470.3 L284.0 470.3 L286.0 470.3 L288.0 470.3 L290.0 470.3 L292.0 470.3 L294.0 470.3 L296.0 470.3 L298.0 470.3 L300.0 470.3 L302.0 470.3 L304.0 470.3 L306.0 470.3 L308.0 470.3 L310.0 470.3 L312.0 470.3 L314.0 470.3 L316.0 470.3 L318.0 470.3 L320.0 470.3 L322.0 470.3 L324.0 470.3 L326.0 470.3 L328.0 470.3 L330.0 470.3 L332.0 470.3 L334.0 470.3 L336.0 470.3 L338.0 470.3 L340.0 470.3 L342.0 470.3 L344.0 470.3 L346.0 470.3 L348.0 470.3 L350.0 470.3 L352.0 470.3 L354.0 470.3 L356.0 470.3 L358.0 470.3 L360.0 470.3 L362.0 470.3 L364.0 470.3 L366.0 470.3 L368.0 470.3 L370.0 470.3 L372.0 470.3 L374.0 470.3 L376.0 470.3 L378.0 470.3 L380.0 470.3 L382.0 470.2 L384.0 470.1 L386.0 470.0 L388.0 469.9 L390.0 469.8 L392.0 469.6 L394.0 469.5 L396.0 469.4 L398.0 469.3 L400.0 469.2 L402.0 469.1 L404.0 469.1 L406.0 469.0 L408.0 469.0 L410.0 468.9 L412.0 468.8 L414.0 468.8 L416.0 468.7 L418.0 468.7 L420.0 468.6 L422.0 468.5 L424.0 468.5 L426.0 468.4 L428.0 468.4 L430.0 468.3 L432.0 468.2 L434.0 468.2 L436.0 468.1 L438.0 468.1 L440.0 467.9 L442.0 467.7 L444.0 467.5 L446.0 467.2 L448.0 466.9 L450.0 466.7 L452.0 466.4 L454.0 466.2 L456.0 466.0 L458.0 466.0 L460.0 466.0 L462.0 466.0 L464.0 466.0 L466.0 466.0 L468.0 466.0 L470.0 466.0 L472.0 466.0 L474.0 466.0 L476.0 466.0 L478.0 466.0 L480.0 466.0 L482.0 466.0 L484.0 466.0 L486.0 466.0 L488.0 466.0 L490.0 466.1 L492.0 466.4 L494.0 466.8 L496.0 467.2 L498.0 467.6 L500.0 467.9 L502.0 468.0 L504.0 468.0 L506.0 468.0 L508.0 468.0 L510.0 468.0 L512.0 468.0 L514.0 468.0 L516.0 468.0 L518.0 468.0 L520.0 468.0 L522.0 468.0 L524.0 468.0 L526.0 468.0 L528.0 468.0 L530.0 468.0 L532.0 468.0 L534.0 468.0 L536.0 468.0 L538.0 468.0 L540.0 468.0 L542.0 468.1 L544.0 468.3 L546.0 468.4 L548.0 468.6 L550.0 468.7 L552.0 468.7 L554.0 468.7 L556.0 468.7 L558.0 468.7 L560.0 468.7 L562.0 468.7 L564.0 468.7 L566.0 468.7 L568.0 468.7 L570.0 468.7 L572.0 468.7 L574.0 468.7 L576.0 468.7 L578.0 468.7 L580.0 468.6 L582.0 468.5 L584.0 468.3 L586.0 468.1 L588.0 467.9 L590.0 467.7 L592.0 467.5 L594.0 467.3 L596.0 467.3 L598.0 467.3 L600.0 467.4 L602.0 467.5 L604.0 467.6 L606.0 467.6 L608.0 467.7 L610.0 467.8 L612.0 467.9 L614.0 468.0 L616.0 468.0 L618.0 468.1 L620.0 468.1 L622.0 468.1 L624.0 468.2 L626.0 468.2 L628.0 468.3 L630.0 468.3 L632.0 468.3 L634.0 468.4 L636.0 468.4 L638.0 468.5 L640.0 468.6 L642.0 468.7 L644.0 469.0 L646.0 469.2 L648.0 469.5 L650.0 469.6 L652.0 469.7 L654.0 469.7 L656.0 469.7 L658.0 469.7 L660.0 469.7 L662.0 469.7 L664.0 469.7 L666.0 469.7 L668.0 469.7 L670.0 469.7 L672.0 469.7 L674.0 469.7 L676.0 469.7 L678.0 469.7 L680.0 469.7 L682.0 469.7 L684.0 469.7 L686.0 469.7 L688.0 469.7 L690.0 469.7 L692.0 469.7 L694.0 469.7 L696.0 469.7 L698.0 469.7 L700.0 469.7 L702.0 469.7 L704.0 469.7 L706.0 469.7 L708.0 469.7 L710.0 469.7 L712.0 469.7 L714.0 469.7 L716.0 469.7 L718.0 469.7 L720.0 469.7 L722.0 469.7 L724.0 469.7 L726.0 469.7 L728.0 469.7 L730.0 469.7 L732.0 469.7 L734.0 469.7 L736.0 469.7 L738.0 469.7 L740.0 469.6 L742.0 469.3 L744.0 468.8 L746.0 468.4 L748.0 468.0 L750.0 467.5 L752.0 466.9 L754.0 466.4 L756.0 466.0 L758.0 465.7 L760.0 465.6 L762.0 465.5 L764.0 465.5 L766.0 465.5 L768.0 465.4 L770.0 465.4 L770.5 465.4" stroke="#000" stroke-width="1.8" fill="none" stroke-linejoin="round"/>
</g>
<g clip-path="url(#cs)">
<path d="M0.0 517.3 L1.0 516.8 L2.0 516.3 L3.0 515.8 L4.0 515.3 L5.0 514.8 L6.0 514.9 L7.0 515.0 L8.0 515.1 L9.0 515.2 L10.0 515.3 L11.0 516.6 L12.0 517.8 L13.0 519.1 L13.0 518.5 L12.0 518.8 L11.0 519.1 L10.0 519.5 L9.0 519.8 L8.0 520.1 L7.0 520.5 L6.0 520.8 L5.0 521.1 L4.0 521.5 L3.0 521.8 L2.0 522.1 L1.0 522.5 L0.0 522.8 Z" fill="#b4b4d6"/>
<path d="M13.0 519.1 L14.0 520.3 L15.0 521.6 L16.0 521.6 L17.0 521.6 L18.0 521.6 L19.0 521.6 L20.0 521.6 L21.0 519.9 L22.0 518.2 L23.0 516.5 L24.0 514.8 L24.0 515.9 L23.0 516.2 L22.0 516.4 L21.0 516.6 L20.0 516.8 L19.0 517.0 L18.0 517.2 L17.0 517.4 L16.0 517.6 L15.0 517.9 L14.0 518.2 L13.0 518.5 Z" fill="#f6c4c4"/>
<path d="M24.0 514.8 L25.0 513.1 L26.0 511.0 L27.0 508.8 L28.0 506.5 L29.0 504.3 L30.0 502.0 L31.0 499.8 L32.0 498.6 L33.0 498.2 L34.0 497.8 L35.0 497.3 L36.0 496.9 L37.0 496.5 L38.0 497.1 L39.0 498.0 L40.0 498.9 L41.0 499.8 L42.0 500.7 L43.0 501.6 L44.0 502.8 L45.0 504.0 L46.0 505.1 L46.0 503.6 L45.0 504.1 L44.0 504.6 L43.0 505.1 L42.0 505.6 L41.0 506.2 L40.0 506.7 L39.0 507.4 L38.0 508.0 L37.0 508.6 L36.0 509.3 L35.0 510.0 L34.0 510.6 L33.0 511.2 L32.0 511.9 L31.0 512.5 L30.0 513.0 L29.0 513.6 L28.0 514.2 L27.0 514.7 L26.0 515.2 L25.0 515.6 L24.0 515.9 Z" fill="#b4b4d6"/>
<path d="M46.0 505.1 L47.0 506.3 L48.0 507.3 L49.0 507.6 L50.0 508.0 L51.0 508.4 L52.0 508.7 L53.0 508.9 L54.0 508.7 L55.0 508.4 L56.0 508.1 L57.0 507.8 L58.0 507.5 L59.0 507.2 L60.0 507.2 L61.0 507.2 L62.0 507.2 L63.0 507.2 L64.0 507.2 L65.0 506.1 L65.0 506.1 L64.0 506.0 L63.0 505.8 L62.0 505.6 L61.0 505.4 L60.0 505.1 L59.0 504.8 L58.0 504.5 L57.0 504.2 L56.0 503.9 L55.0 503.6 L54.0 503.4 L53.0 503.2 L52.0 503.0 L51.0 503.0 L50.0 502.9 L49.0 503.0 L48.0 503.1 L47.0 503.4 L46.0 503.6 Z" fill="#f6c4c4"/>
<path d="M65.0 506.1 L66.0 505.0 L67.0 503.9 L68.0 502.7 L69.0 501.6 L70.0 500.9 L71.0 500.2 L72.0 499.5 L73.0 498.9 L74.0 498.2 L75.0 497.5 L76.0 496.7 L77.0 495.7 L78.0 494.6 L79.0 493.6 L80.0 492.6 L81.0 491.7 L82.0 490.8 L83.0 489.9 L84.0 489.0 L85.0 488.1 L86.0 487.9 L87.0 488.4 L88.0 488.9 L89.0 489.4 L90.0 489.5 L91.0 489.4 L92.0 489.2 L93.0 489.1 L94.0 488.9 L95.0 489.5 L96.0 490.3 L97.0 491.2 L98.0 492.0 L98.0 491.3 L97.0 491.2 L96.0 491.0 L95.0 491.1 L94.0 491.2 L93.0 491.5 L92.0 491.7 L91.0 492.1 L90.0 492.6 L89.0 493.1 L88.0 493.6 L87.0 494.3 L86.0 495.0 L85.0 495.7 L84.0 496.5 L83.0 497.2 L82.0 497.9 L81.0 498.7 L80.0 499.4 L79.0 500.1 L78.0 500.9 L77.0 501.5 L76.0 502.2 L75.0 502.8 L74.0 503.4 L73.0 503.9 L72.0 504.4 L71.0 504.9 L70.0 505.4 L69.0 505.8 L68.0 506.1 L67.0 506.1 L66.0 506.2 L65.0 506.1 Z" fill="#b4b4d6"/>
<path d="M98.0 492.0 L99.0 492.8 L100.0 493.7 L101.0 494.5 L102.0 495.3 L103.0 496.1 L104.0 496.9 L105.0 497.7 L106.0 498.9 L107.0 500.5 L108.0 502.1 L109.0 503.7 L110.0 505.4 L111.0 507.0 L112.0 508.8 L113.0 510.5 L114.0 512.3 L115.0 514.1 L116.0 515.3 L117.0 515.4 L118.0 515.5 L119.0 515.6 L120.0 515.7 L121.0 515.8 L122.0 515.8 L123.0 515.8 L124.0 515.8 L125.0 515.8 L126.0 515.8 L127.0 515.6 L128.0 515.4 L129.0 515.2 L130.0 515.0 L131.0 514.8 L132.0 514.5 L133.0 514.3 L134.0 514.0 L135.0 513.8 L136.0 513.5 L136.0 513.9 L135.0 513.6 L134.0 513.4 L133.0 513.1 L132.0 512.7 L131.0 512.4 L130.0 512.0 L129.0 511.5 L128.0 511.0 L127.0 510.3 L126.0 509.6 L125.0 508.8 L124.0 507.9 L123.0 507.1 L122.0 506.3 L121.0 505.4 L120.0 504.6 L119.0 503.8 L118.0 502.9 L117.0 502.1 L116.0 501.3 L115.0 500.4 L114.0 499.6 L113.0 498.8 L112.0 498.0 L111.0 497.2 L110.0 496.4 L109.0 495.6 L108.0 494.9 L107.0 494.4 L106.0 493.8 L105.0 493.5 L104.0 493.1 L103.0 492.8 L102.0 492.5 L101.0 492.2 L100.0 491.9 L99.0 491.6 L98.0 491.3 Z" fill="#f6c4c4"/>
<path d="M136.0 513.5 L137.0 513.3 L138.0 513.8 L139.0 514.4 L139.0 514.3 L138.0 514.2 L137.0 514.1 L136.0 513.9 Z" fill="#b4b4d6"/>
<path d="M139.0 514.4 L140.0 514.9 L141.0 515.5 L142.0 516.0 L143.0 516.4 L144.0 515.5 L145.0 514.6 L146.0 513.7 L146.0 514.5 L145.0 514.6 L144.0 514.6 L143.0 514.6 L142.0 514.6 L141.0 514.5 L140.0 514.4 L139.0 514.3 Z" fill="#f6c4c4"/>
<path d="M146.0 513.7 L147.0 512.8 L148.0 512.7 L149.0 512.6 L150.0 512.5 L151.0 512.4 L152.0 512.3 L153.0 511.6 L154.0 510.6 L155.0 509.7 L156.0 508.8 L157.0 507.9 L158.0 507.3 L159.0 506.8 L160.0 506.3 L161.0 505.8 L162.0 505.3 L163.0 504.3 L164.0 503.3 L165.0 502.2 L166.0 501.1 L167.0 500.0 L168.0 499.1 L169.0 498.2 L170.0 497.3 L171.0 496.4 L172.0 495.5 L173.0 494.8 L174.0 494.3 L175.0 493.8 L176.0 493.3 L177.0 492.8 L178.0 492.1 L179.0 491.3 L180.0 490.6 L181.0 489.9 L182.0 489.1 L183.0 488.7 L184.0 488.5 L185.0 488.2 L186.0 488.0 L187.0 487.7 L188.0 487.7 L189.0 487.8 L190.0 487.9 L191.0 488.0 L192.0 488.1 L193.0 488.2 L194.0 488.3 L195.0 488.4 L196.0 489.3 L197.0 490.2 L197.0 490.1 L196.0 490.4 L195.0 490.7 L194.0 491.0 L193.0 491.4 L192.0 491.8 L191.0 492.2 L190.0 492.6 L189.0 493.1 L188.0 493.6 L187.0 494.1 L186.0 494.7 L185.0 495.3 L184.0 495.9 L183.0 496.5 L182.0 497.1 L181.0 497.8 L180.0 498.5 L179.0 499.2 L178.0 499.9 L177.0 500.6 L176.0 501.4 L175.0 502.1 L174.0 502.8 L173.0 503.5 L172.0 504.2 L171.0 504.9 L170.0 505.5 L169.0 506.2 L168.0 506.9 L167.0 507.5 L166.0 508.1 L165.0 508.7 L164.0 509.3 L163.0 509.8 L162.0 510.4 L161.0 510.9 L160.0 511.4 L159.0 511.8 L158.0 512.3 L157.0 512.6 L156.0 512.9 L155.0 513.1 L154.0 513.3 L153.0 513.5 L152.0 513.7 L151.0 513.9 L150.0 514.1 L149.0 514.2 L148.0 514.3 L147.0 514.4 L146.0 514.5 Z" fill="#b4b4d6"/>
<path d="M197.0 490.2 L198.0 491.1 L199.0 492.0 L200.0 492.9 L201.0 492.7 L202.0 492.6 L203.0 492.4 L204.0 492.3 L205.0 492.1 L206.0 491.2 L207.0 490.3 L208.0 489.4 L209.0 488.5 L209.0 489.3 L208.0 489.2 L207.0 489.2 L206.0 489.3 L205.0 489.3 L204.0 489.3 L203.0 489.4 L202.0 489.5 L201.0 489.6 L200.0 489.7 L199.0 489.8 L198.0 489.9 L197.0 490.1 Z" fill="#f6c4c4"/>
<path d="M209.0 488.5 L210.0 487.6 L211.0 487.8 L212.0 488.0 L213.0 488.2 L214.0 488.4 L215.0 488.6 L216.0 488.8 L217.0 489.9 L218.0 491.4 L218.0 490.9 L217.0 490.6 L216.0 490.4 L215.0 490.2 L214.0 489.9 L213.0 489.8 L212.0 489.6 L211.0 489.4 L210.0 489.3 L209.0 489.3 Z" fill="#b4b4d6"/>
<path d="M218.0 491.4 L219.0 492.9 L220.0 494.3 L221.0 495.8 L222.0 497.3 L223.0 498.8 L224.0 500.4 L225.0 501.9 L226.0 503.4 L227.0 505.0 L228.0 506.7 L229.0 508.3 L230.0 510.0 L231.0 511.6 L232.0 512.8 L233.0 513.6 L234.0 514.4 L235.0 515.3 L236.0 516.1 L237.0 517.0 L238.0 517.9 L239.0 518.8 L240.0 519.7 L241.0 520.6 L242.0 521.0 L243.0 520.7 L244.0 520.5 L245.0 520.2 L246.0 519.9 L247.0 519.9 L248.0 520.2 L249.0 520.5 L250.0 520.8 L251.0 521.1 L252.0 521.4 L253.0 521.6 L254.0 521.7 L255.0 521.8 L256.0 522.0 L257.0 522.1 L258.0 522.2 L259.0 522.3 L260.0 521.7 L261.0 521.0 L262.0 520.4 L262.0 520.7 L261.0 520.5 L260.0 520.3 L259.0 520.0 L258.0 519.7 L257.0 519.4 L256.0 519.1 L255.0 518.7 L254.0 518.3 L253.0 517.8 L252.0 517.4 L251.0 516.9 L250.0 516.4 L249.0 515.7 L248.0 515.1 L247.0 514.3 L246.0 513.5 L245.0 512.5 L244.0 511.5 L243.0 510.5 L242.0 509.5 L241.0 508.3 L240.0 507.2 L239.0 505.9 L238.0 504.6 L237.0 503.2 L236.0 501.8 L235.0 500.5 L234.0 499.2 L233.0 498.2 L232.0 497.2 L231.0 496.5 L230.0 495.8 L229.0 495.3 L228.0 494.8 L227.0 494.3 L226.0 493.8 L225.0 493.3 L224.0 492.9 L223.0 492.5 L222.0 492.1 L221.0 491.7 L220.0 491.4 L219.0 491.2 L218.0 490.9 Z" fill="#f6c4c4"/>
<path d="M262.0 520.4 L263.0 519.7 L264.0 519.1 L265.0 518.5 L266.0 517.9 L267.0 517.3 L268.0 516.7 L269.0 516.1 L270.0 516.0 L271.0 516.0 L272.0 516.0 L273.0 516.0 L274.0 516.0 L275.0 516.0 L276.0 516.0 L277.0 516.0 L278.0 516.0 L279.0 516.0 L280.0 516.0 L281.0 515.8 L282.0 515.4 L283.0 515.0 L284.0 514.6 L285.0 514.2 L286.0 513.7 L287.0 513.0 L288.0 512.4 L289.0 511.7 L290.0 511.0 L291.0 510.3 L292.0 509.5 L293.0 508.6 L294.0 507.8 L295.0 507.0 L296.0 506.0 L297.0 504.7 L298.0 503.5 L299.0 502.2 L300.0 501.0 L301.0 499.7 L302.0 498.4 L303.0 497.2 L304.0 495.9 L305.0 494.7 L306.0 493.4 L307.0 492.3 L308.0 491.2 L309.0 490.0 L310.0 488.9 L311.0 488.0 L312.0 487.5 L313.0 487.0 L314.0 486.5 L315.0 486.0 L316.0 485.5 L317.0 485.1 L318.0 484.7 L319.0 484.3 L320.0 483.9 L321.0 483.5 L322.0 483.1 L323.0 483.4 L324.0 483.7 L325.0 484.0 L326.0 484.3 L327.0 484.6 L328.0 485.2 L329.0 485.8 L330.0 486.4 L331.0 487.0 L331.0 486.7 L330.0 486.8 L329.0 487.0 L328.0 487.3 L327.0 487.6 L326.0 487.9 L325.0 488.4 L324.0 488.8 L323.0 489.4 L322.0 490.0 L321.0 490.8 L320.0 491.6 L319.0 492.4 L318.0 493.3 L317.0 494.1 L316.0 495.0 L315.0 496.0 L314.0 496.9 L313.0 497.9 L312.0 498.9 L311.0 499.8 L310.0 500.8 L309.0 501.8 L308.0 502.8 L307.0 503.8 L306.0 504.8 L305.0 505.8 L304.0 506.8 L303.0 507.8 L302.0 508.7 L301.0 509.5 L300.0 510.3 L299.0 510.9 L298.0 511.5 L297.0 512.0 L296.0 512.5 L295.0 513.0 L294.0 513.4 L293.0 513.9 L292.0 514.3 L291.0 514.6 L290.0 515.0 L289.0 515.3 L288.0 515.7 L287.0 516.0 L286.0 516.3 L285.0 516.6 L284.0 516.8 L283.0 517.1 L282.0 517.3 L281.0 517.6 L280.0 517.8 L279.0 518.1 L278.0 518.3 L277.0 518.6 L276.0 518.8 L275.0 519.1 L274.0 519.4 L273.0 519.6 L272.0 519.9 L271.0 520.1 L270.0 520.3 L269.0 520.4 L268.0 520.6 L267.0 520.7 L266.0 520.8 L265.0 520.8 L264.0 520.9 L263.0 520.8 L262.0 520.7 Z" fill="#b4b4d6"/>
<path d="M331.0 487.0 L332.0 487.6 L333.0 488.9 L334.0 490.1 L335.0 491.4 L336.0 492.6 L337.0 493.9 L338.0 495.4 L339.0 496.8 L340.0 498.3 L341.0 499.8 L342.0 501.3 L343.0 501.2 L344.0 501.0 L345.0 500.8 L346.0 500.7 L347.0 500.5 L348.0 500.3 L349.0 500.4 L350.0 500.8 L351.0 501.2 L352.0 501.6 L353.0 502.0 L354.0 501.9 L355.0 501.4 L356.0 500.9 L357.0 500.4 L358.0 499.9 L359.0 499.6 L360.0 499.5 L361.0 499.3 L362.0 499.1 L362.0 499.3 L361.0 499.1 L360.0 499.0 L359.0 498.7 L358.0 498.5 L357.0 498.1 L356.0 497.7 L355.0 497.2 L354.0 496.7 L353.0 496.2 L352.0 495.7 L351.0 495.2 L350.0 494.7 L349.0 494.2 L348.0 493.7 L347.0 493.2 L346.0 492.7 L345.0 492.2 L344.0 491.6 L343.0 491.0 L342.0 490.4 L341.0 489.8 L340.0 489.1 L339.0 488.5 L338.0 488.0 L337.0 487.6 L336.0 487.2 L335.0 486.9 L334.0 486.7 L333.0 486.6 L332.0 486.6 L331.0 486.7 Z" fill="#f6c4c4"/>
<path d="M362.0 499.1 L363.0 499.0 L364.0 498.7 L365.0 498.4 L366.0 498.0 L367.0 497.7 L368.0 497.4 L369.0 496.9 L370.0 496.2 L371.0 495.5 L372.0 494.9 L373.0 494.2 L374.0 493.7 L375.0 493.2 L376.0 492.7 L377.0 492.2 L378.0 491.7 L379.0 491.6 L380.0 492.0 L381.0 492.4 L382.0 492.7 L383.0 493.1 L384.0 493.5 L385.0 493.9 L386.0 493.7 L387.0 493.6 L388.0 493.4 L389.0 493.2 L390.0 493.1 L391.0 492.9 L392.0 492.7 L393.0 492.5 L394.0 492.3 L395.0 492.0 L396.0 490.8 L397.0 489.7 L398.0 488.6 L399.0 487.4 L400.0 486.3 L401.0 486.8 L402.0 487.3 L403.0 487.9 L404.0 488.4 L405.0 488.9 L406.0 488.7 L407.0 488.6 L408.0 488.4 L409.0 488.3 L410.0 488.1 L411.0 488.5 L412.0 488.9 L413.0 489.3 L414.0 489.7 L414.0 489.4 L413.0 489.6 L412.0 489.8 L411.0 490.0 L410.0 490.3 L409.0 490.4 L408.0 490.6 L407.0 490.6 L406.0 490.7 L405.0 490.9 L404.0 491.0 L403.0 491.2 L402.0 491.4 L401.0 491.7 L400.0 492.0 L399.0 492.3 L398.0 492.6 L397.0 492.8 L396.0 493.1 L395.0 493.3 L394.0 493.5 L393.0 493.6 L392.0 493.8 L391.0 494.0 L390.0 494.2 L389.0 494.4 L388.0 494.6 L387.0 494.8 L386.0 495.1 L385.0 495.3 L384.0 495.6 L383.0 495.9 L382.0 496.1 L381.0 496.4 L380.0 496.6 L379.0 496.9 L378.0 497.1 L377.0 497.4 L376.0 497.6 L375.0 497.8 L374.0 498.1 L373.0 498.3 L372.0 498.5 L371.0 498.7 L370.0 498.9 L369.0 499.1 L368.0 499.3 L367.0 499.4 L366.0 499.5 L365.0 499.5 L364.0 499.5 L363.0 499.4 L362.0 499.3 Z" fill="#b4b4d6"/>
<path d="M414.0 489.7 L415.0 490.1 L416.0 490.5 L417.0 490.7 L418.0 490.8 L419.0 490.9 L420.0 491.1 L421.0 491.2 L422.0 491.3 L423.0 491.3 L424.0 491.2 L425.0 491.1 L426.0 491.0 L427.0 490.8 L428.0 490.7 L429.0 490.6 L430.0 490.5 L431.0 490.5 L431.0 490.5 L430.0 490.5 L429.0 490.4 L428.0 490.4 L427.0 490.3 L426.0 490.3 L425.0 490.2 L424.0 490.1 L423.0 490.1 L422.0 490.0 L421.0 489.8 L420.0 489.7 L419.0 489.5 L418.0 489.4 L417.0 489.3 L416.0 489.2 L415.0 489.3 L414.0 489.4 Z" fill="#f6c4c4"/>
<path d="M431.0 490.5 L432.0 490.4 L433.0 490.4 L434.0 490.3 L435.0 490.3 L436.0 490.2 L437.0 490.1 L438.0 489.9 L439.0 489.2 L440.0 488.5 L441.0 487.7 L442.0 487.0 L443.0 486.3 L444.0 485.6 L445.0 485.7 L446.0 485.8 L447.0 485.9 L448.0 486.0 L449.0 486.1 L450.0 486.2 L451.0 486.2 L452.0 486.5 L453.0 486.9 L454.0 487.4 L455.0 487.8 L456.0 488.2 L456.0 487.8 L455.0 487.9 L454.0 488.0 L453.0 488.1 L452.0 488.2 L451.0 488.4 L450.0 488.5 L449.0 488.7 L448.0 488.8 L447.0 489.0 L446.0 489.1 L445.0 489.3 L444.0 489.4 L443.0 489.5 L442.0 489.7 L441.0 489.8 L440.0 489.9 L439.0 490.0 L438.0 490.1 L437.0 490.2 L436.0 490.3 L435.0 490.4 L434.0 490.4 L433.0 490.5 L432.0 490.5 L431.0 490.5 Z" fill="#b4b4d6"/>
<path d="M456.0 488.2 L457.0 488.7 L458.0 489.1 L459.0 489.6 L460.0 489.7 L461.0 489.8 L462.0 489.8 L463.0 489.9 L464.0 490.0 L465.0 490.1 L466.0 490.0 L467.0 489.9 L468.0 489.8 L469.0 489.7 L470.0 489.6 L471.0 490.1 L472.0 490.9 L473.0 491.8 L474.0 492.6 L475.0 493.5 L476.0 494.4 L477.0 495.4 L478.0 496.4 L479.0 497.4 L480.0 498.4 L481.0 499.4 L482.0 500.4 L483.0 501.4 L484.0 502.5 L485.0 503.5 L486.0 504.1 L487.0 504.2 L488.0 504.4 L489.0 504.5 L490.0 504.6 L491.0 504.6 L492.0 504.5 L493.0 504.4 L494.0 504.2 L495.0 504.1 L496.0 503.8 L497.0 503.4 L498.0 503.0 L499.0 502.6 L500.0 502.2 L500.0 502.4 L499.0 502.3 L498.0 502.3 L497.0 502.1 L496.0 501.9 L495.0 501.7 L494.0 501.5 L493.0 501.1 L492.0 500.8 L491.0 500.4 L490.0 499.9 L489.0 499.4 L488.0 498.9 L487.0 498.4 L486.0 497.9 L485.0 497.3 L484.0 496.8 L483.0 496.2 L482.0 495.6 L481.0 494.9 L480.0 494.3 L479.0 493.7 L478.0 493.1 L477.0 492.6 L476.0 492.0 L475.0 491.4 L474.0 490.9 L473.0 490.4 L472.0 489.8 L471.0 489.4 L470.0 489.0 L469.0 488.6 L468.0 488.3 L467.0 488.1 L466.0 487.8 L465.0 487.7 L464.0 487.5 L463.0 487.4 L462.0 487.3 L461.0 487.4 L460.0 487.4 L459.0 487.5 L458.0 487.6 L457.0 487.7 L456.0 487.8 Z" fill="#f6c4c4"/>
<path d="M500.0 502.2 L501.0 501.8 L502.0 501.3 L503.0 500.3 L504.0 499.3 L505.0 498.3 L506.0 497.3 L507.0 496.3 L508.0 495.8 L509.0 495.3 L510.0 494.8 L511.0 494.3 L512.0 493.8 L513.0 493.1 L514.0 492.3 L515.0 491.6 L516.0 490.8 L517.0 490.1 L518.0 489.7 L519.0 489.3 L520.0 488.9 L521.0 488.5 L522.0 488.1 L523.0 487.4 L524.0 486.7 L525.0 486.0 L526.0 485.3 L527.0 484.6 L528.0 484.1 L529.0 483.6 L530.0 483.1 L531.0 482.6 L532.0 482.1 L533.0 482.9 L534.0 483.8 L535.0 484.6 L536.0 485.5 L537.0 486.3 L538.0 486.4 L539.0 486.6 L539.0 486.4 L538.0 486.5 L537.0 486.8 L536.0 487.1 L535.0 487.4 L534.0 487.8 L533.0 488.2 L532.0 488.6 L531.0 489.1 L530.0 489.6 L529.0 490.1 L528.0 490.7 L527.0 491.4 L526.0 492.1 L525.0 492.7 L524.0 493.3 L523.0 494.0 L522.0 494.6 L521.0 495.2 L520.0 495.7 L519.0 496.3 L518.0 496.9 L517.0 497.4 L516.0 497.9 L515.0 498.4 L514.0 498.9 L513.0 499.3 L512.0 499.8 L511.0 500.2 L510.0 500.6 L509.0 500.9 L508.0 501.3 L507.0 501.5 L506.0 501.8 L505.0 501.9 L504.0 502.1 L503.0 502.2 L502.0 502.4 L501.0 502.4 L500.0 502.4 Z" fill="#b4b4d6"/>
<path d="M539.0 486.6 L540.0 486.7 L541.0 486.8 L542.0 486.9 L543.0 487.1 L544.0 487.6 L545.0 488.5 L546.0 489.3 L547.0 490.2 L548.0 491.1 L549.0 492.0 L550.0 493.0 L551.0 494.0 L552.0 495.0 L553.0 496.0 L554.0 497.0 L555.0 498.0 L556.0 498.9 L557.0 499.9 L558.0 500.9 L559.0 501.9 L560.0 502.9 L561.0 503.9 L562.0 505.0 L563.0 506.0 L564.0 506.8 L565.0 507.2 L566.0 507.8 L567.0 508.2 L568.0 508.8 L569.0 509.5 L570.0 510.5 L571.0 511.5 L572.0 512.5 L573.0 513.5 L574.0 514.5 L575.0 515.5 L576.0 516.5 L577.0 517.4 L578.0 518.4 L579.0 519.4 L580.0 520.4 L581.0 521.4 L582.0 522.5 L583.0 523.5 L584.0 524.2 L585.0 524.5 L586.0 524.8 L587.0 524.4 L588.0 524.0 L589.0 523.7 L590.0 523.2 L591.0 522.1 L592.0 520.9 L593.0 519.8 L594.0 518.7 L594.0 518.8 L593.0 518.7 L592.0 518.6 L591.0 518.5 L590.0 518.3 L589.0 518.0 L588.0 517.7 L587.0 517.3 L586.0 516.8 L585.0 516.3 L584.0 515.7 L583.0 515.1 L582.0 514.5 L581.0 513.8 L580.0 513.1 L579.0 512.3 L578.0 511.5 L577.0 510.6 L576.0 509.8 L575.0 509.0 L574.0 508.1 L573.0 507.3 L572.0 506.4 L571.0 505.6 L570.0 504.8 L569.0 503.9 L568.0 503.1 L567.0 502.2 L566.0 501.3 L565.0 500.3 L564.0 499.4 L563.0 498.4 L562.0 497.4 L561.0 496.4 L560.0 495.4 L559.0 494.4 L558.0 493.4 L557.0 492.4 L556.0 491.4 L555.0 490.4 L554.0 489.4 L553.0 488.7 L552.0 487.9 L551.0 487.4 L550.0 486.9 L549.0 486.6 L548.0 486.3 L547.0 486.1 L546.0 485.9 L545.0 485.8 L544.0 485.8 L543.0 485.9 L542.0 486.0 L541.0 486.1 L540.0 486.2 L539.0 486.4 Z" fill="#f6c4c4"/>
<path d="M594.0 518.7 L595.0 517.7 L596.0 516.7 L597.0 515.7 L598.0 514.7 L599.0 513.7 L600.0 512.9 L601.0 512.0 L602.0 511.2 L603.0 510.3 L604.0 509.4 L605.0 508.2 L606.0 507.1 L607.0 506.0 L608.0 506.1 L609.0 506.3 L610.0 506.4 L611.0 506.6 L612.0 506.3 L613.0 505.9 L614.0 505.5 L615.0 505.1 L616.0 504.7 L617.0 504.3 L618.0 503.9 L619.0 503.7 L620.0 503.6 L621.0 503.4 L622.0 503.3 L623.0 503.6 L624.0 504.5 L625.0 505.3 L626.0 506.2 L626.0 505.7 L625.0 505.6 L624.0 505.5 L623.0 505.6 L622.0 505.8 L621.0 505.9 L620.0 506.1 L619.0 506.3 L618.0 506.5 L617.0 506.9 L616.0 507.3 L615.0 507.8 L614.0 508.3 L613.0 508.8 L612.0 509.4 L611.0 510.0 L610.0 510.7 L609.0 511.5 L608.0 512.3 L607.0 513.4 L606.0 514.5 L605.0 515.4 L604.0 516.4 L603.0 517.0 L602.0 517.6 L601.0 517.9 L600.0 518.1 L599.0 518.4 L598.0 518.6 L597.0 518.7 L596.0 518.8 L595.0 518.8 L594.0 518.8 Z" fill="#b4b4d6"/>
<path d="M626.0 506.2 L627.0 507.1 L628.0 507.9 L629.0 509.3 L630.0 510.8 L631.0 512.3 L632.0 513.7 L633.0 515.2 L634.0 516.8 L635.0 518.6 L636.0 520.5 L637.0 522.4 L638.0 524.2 L639.0 525.6 L640.0 525.1 L641.0 524.7 L642.0 524.2 L643.0 523.8 L644.0 522.9 L645.0 521.4 L646.0 519.9 L647.0 518.4 L648.0 516.9 L648.0 517.7 L647.0 517.5 L646.0 517.2 L645.0 516.8 L644.0 516.4 L643.0 515.8 L642.0 515.2 L641.0 514.5 L640.0 513.9 L639.0 513.2 L638.0 512.4 L637.0 511.7 L636.0 510.9 L635.0 510.1 L634.0 509.3 L633.0 508.7 L632.0 508.1 L631.0 507.6 L630.0 507.1 L629.0 506.7 L628.0 506.3 L627.0 506.0 L626.0 505.7 Z" fill="#f6c4c4"/>
<path d="M648.0 516.9 L649.0 515.4 L650.0 514.1 L651.0 512.9 L652.0 511.6 L653.0 510.4 L654.0 509.1 L655.0 508.0 L656.0 508.0 L657.0 508.0 L658.0 508.0 L659.0 508.0 L660.0 508.3 L661.0 509.5 L662.0 510.6 L663.0 511.7 L664.0 512.8 L665.0 514.0 L666.0 515.2 L666.0 514.0 L665.0 514.1 L664.0 514.3 L663.0 514.5 L662.0 514.7 L661.0 515.0 L660.0 515.3 L659.0 515.7 L658.0 516.0 L657.0 516.4 L656.0 516.8 L655.0 517.1 L654.0 517.4 L653.0 517.6 L652.0 517.7 L651.0 517.8 L650.0 517.8 L649.0 517.8 L648.0 517.7 Z" fill="#b4b4d6"/>
<path d="M666.0 515.2 L667.0 516.5 L668.0 517.7 L669.0 519.0 L670.0 520.2 L671.0 521.3 L672.0 522.3 L673.0 523.3 L674.0 524.3 L675.0 525.3 L676.0 525.4 L677.0 525.0 L678.0 524.5 L679.0 524.1 L680.0 523.6 L681.0 522.9 L682.0 522.1 L683.0 521.4 L684.0 520.6 L684.0 521.2 L683.0 520.9 L682.0 520.6 L681.0 520.1 L680.0 519.7 L679.0 519.1 L678.0 518.5 L677.0 517.9 L676.0 517.3 L675.0 516.8 L674.0 516.3 L673.0 515.8 L672.0 515.4 L671.0 515.0 L670.0 514.6 L669.0 514.3 L668.0 514.1 L667.0 514.0 L666.0 514.0 Z" fill="#f6c4c4"/>
<path d="M684.0 520.6 L685.0 519.9 L686.0 519.2 L687.0 518.7 L688.0 518.2 L689.0 517.7 L690.0 517.2 L691.0 516.7 L692.0 516.2 L693.0 515.9 L694.0 515.6 L695.0 515.2 L696.0 514.9 L697.0 514.5 L698.0 513.7 L699.0 512.8 L700.0 511.9 L701.0 510.9 L702.0 510.0 L703.0 509.2 L704.0 508.6 L705.0 508.0 L706.0 507.4 L707.0 506.8 L708.0 506.2 L709.0 505.8 L710.0 505.4 L711.0 505.0 L712.0 504.6 L713.0 504.2 L714.0 503.8 L715.0 503.9 L716.0 504.0 L717.0 504.1 L718.0 504.2 L719.0 504.2 L720.0 504.7 L721.0 505.5 L722.0 506.4 L723.0 507.3 L723.0 507.2 L722.0 507.4 L721.0 507.5 L720.0 507.7 L719.0 508.0 L718.0 508.3 L717.0 508.6 L716.0 509.0 L715.0 509.4 L714.0 509.8 L713.0 510.3 L712.0 510.7 L711.0 511.2 L710.0 511.7 L709.0 512.2 L708.0 512.7 L707.0 513.3 L706.0 513.8 L705.0 514.4 L704.0 514.9 L703.0 515.5 L702.0 516.1 L701.0 516.7 L700.0 517.3 L699.0 518.0 L698.0 518.7 L697.0 519.3 L696.0 520.0 L695.0 520.5 L694.0 521.0 L693.0 521.3 L692.0 521.6 L691.0 521.7 L690.0 521.8 L689.0 521.8 L688.0 521.8 L687.0 521.7 L686.0 521.6 L685.0 521.4 L684.0 521.2 Z" fill="#b4b4d6"/>
<path d="M723.0 507.3 L724.0 508.0 L725.0 508.3 L726.0 508.5 L727.0 508.8 L728.0 509.0 L729.0 509.3 L730.0 509.1 L731.0 508.6 L732.0 508.1 L733.0 507.7 L734.0 507.2 L735.0 506.7 L736.0 505.5 L736.0 505.5 L735.0 505.7 L734.0 506.0 L733.0 506.1 L732.0 506.2 L731.0 506.3 L730.0 506.4 L729.0 506.4 L728.0 506.5 L727.0 506.6 L726.0 506.8 L725.0 506.9 L724.0 507.0 L723.0 507.2 Z" fill="#f6c4c4"/>
<path d="M736.0 505.5 L737.0 504.2 L738.0 503.0 L739.0 501.7 L740.0 500.5 L741.0 499.2 L742.0 497.7 L743.0 496.2 L744.0 494.7 L745.0 493.2 L746.0 491.7 L747.0 490.4 L748.0 489.3 L749.0 488.1 L750.0 487.0 L751.0 486.1 L752.0 485.6 L753.0 485.0 L754.0 484.5 L755.0 484.2 L756.0 484.5 L757.0 484.8 L758.0 485.2 L759.0 485.5 L760.0 486.0 L761.0 486.5 L762.0 487.0 L763.0 487.5 L764.0 488.0 L765.0 488.2 L766.0 487.8 L767.0 487.5 L768.0 487.1 L769.0 486.8 L770.0 486.4 L770.0 487.5 L769.0 487.5 L768.0 487.9 L767.0 488.2 L766.0 488.5 L765.0 488.8 L764.0 489.1 L763.0 489.5 L762.0 489.8 L761.0 490.3 L760.0 490.8 L759.0 491.5 L758.0 492.1 L757.0 492.9 L756.0 493.7 L755.0 494.4 L754.0 495.2 L753.0 495.9 L752.0 496.6 L751.0 497.3 L750.0 498.0 L749.0 498.7 L748.0 499.4 L747.0 500.1 L746.0 500.7 L745.0 501.3 L744.0 501.9 L743.0 502.5 L742.0 503.0 L741.0 503.5 L740.0 503.9 L739.0 504.3 L738.0 504.8 L737.0 505.1 L736.0 505.5 Z" fill="#b4b4d6"/>
<path d="M0 489.5 H782" stroke="#2020d0" stroke-width="1.1"/>
<path d="M0 521.5 H782" stroke="#2020d0" stroke-width="1.1"/>
<path d="M0.0 517.3 L1.0 516.8 L2.0 516.3 L3.0 515.8 L4.0 515.3 L5.0 514.8 L6.0 514.9 L7.0 515.0 L8.0 515.1 L9.0 515.2 L10.0 515.3 L11.0 516.6 L12.0 517.8 L13.0 519.1 L14.0 520.3 L15.0 521.6 L16.0 521.6 L17.0 521.6 L18.0 521.6 L19.0 521.6 L20.0 521.6 L21.0 519.9 L22.0 518.2 L23.0 516.5 L24.0 514.8 L25.0 513.1 L26.0 511.0 L27.0 508.8 L28.0 506.5 L29.0 504.3 L30.0 502.0 L31.0 499.8 L32.0 498.6 L33.0 498.2 L34.0 497.8 L35.0 497.3 L36.0 496.9 L37.0 496.5 L38.0 497.1 L39.0 498.0 L40.0 498.9 L41.0 499.8 L42.0 500.7 L43.0 501.6 L44.0 502.8 L45.0 504.0 L46.0 505.1 L47.0 506.3 L48.0 507.3 L49.0 507.6 L50.0 508.0 L51.0 508.4 L52.0 508.7 L53.0 508.9 L54.0 508.7 L55.0 508.4 L56.0 508.1 L57.0 507.8 L58.0 507.5 L59.0 507.2 L60.0 507.2 L61.0 507.2 L62.0 507.2 L63.0 507.2 L64.0 507.2 L65.0 506.1 L66.0 505.0 L67.0 503.9 L68.0 502.7 L69.0 501.6 L70.0 500.9 L71.0 500.2 L72.0 499.5 L73.0 498.9 L74.0 498.2 L75.0 497.5 L76.0 496.7 L77.0 495.7 L78.0 494.6 L79.0 493.6 L80.0 492.6 L81.0 491.7 L82.0 490.8 L83.0 489.9 L84.0 489.0 L85.0 488.1 L86.0 487.9 L87.0 488.4 L88.0 488.9 L89.0 489.4 L90.0 489.5 L91.0 489.4 L92.0 489.2 L93.0 489.1 L94.0 488.9 L95.0 489.5 L96.0 490.3 L97.0 491.2 L98.0 492.0 L99.0 492.8 L100.0 493.7 L101.0 494.5 L102.0 495.3 L103.0 496.1 L104.0 496.9 L105.0 497.7 L106.0 498.9 L107.0 500.5 L108.0 502.1 L109.0 503.7 L110.0 505.4 L111.0 507.0 L112.0 508.8 L113.0 510.5 L114.0 512.3 L115.0 514.1 L116.0 515.3 L117.0 515.4 L118.0 515.5 L119.0 515.6 L120.0 515.7 L121.0 515.8 L122.0 515.8 L123.0 515.8 L124.0 515.8 L125.0 515.8 L126.0 515.8 L127.0 515.6 L128.0 515.4 L129.0 515.2 L130.0 515.0 L131.0 514.8 L132.0 514.5 L133.0 514.3 L134.0 514.0 L135.0 513.8 L136.0 513.5 L137.0 513.3 L138.0 513.8 L139.0 514.4 L140.0 514.9 L141.0 515.5 L142.0 516.0 L143.0 516.4 L144.0 515.5 L145.0 514.6 L146.0 513.7 L147.0 512.8 L148.0 512.7 L149.0 512.6 L150.0 512.5 L151.0 512.4 L152.0 512.3 L153.0 511.6 L154.0 510.6 L155.0 509.7 L156.0 508.8 L157.0 507.9 L158.0 507.3 L159.0 506.8 L160.0 506.3 L161.0 505.8 L162.0 505.3 L163.0 504.3 L164.0 503.3 L165.0 502.2 L166.0 501.1 L167.0 500.0 L168.0 499.1 L169.0 498.2 L170.0 497.3 L171.0 496.4 L172.0 495.5 L173.0 494.8 L174.0 494.3 L175.0 493.8 L176.0 493.3 L177.0 492.8 L178.0 492.1 L179.0 491.3 L180.0 490.6 L181.0 489.9 L182.0 489.1 L183.0 488.7 L184.0 488.5 L185.0 488.2 L186.0 488.0 L187.0 487.7 L188.0 487.7 L189.0 487.8 L190.0 487.9 L191.0 488.0 L192.0 488.1 L193.0 488.2 L194.0 488.3 L195.0 488.4 L196.0 489.3 L197.0 490.2 L198.0 491.1 L199.0 492.0 L200.0 492.9 L201.0 492.7 L202.0 492.6 L203.0 492.4 L204.0 492.3 L205.0 492.1 L206.0 491.2 L207.0 490.3 L208.0 489.4 L209.0 488.5 L210.0 487.6 L211.0 487.8 L212.0 488.0 L213.0 488.2 L214.0 488.4 L215.0 488.6 L216.0 488.8 L217.0 489.9 L218.0 491.4 L219.0 492.9 L220.0 494.3 L221.0 495.8 L222.0 497.3 L223.0 498.8 L224.0 500.4 L225.0 501.9 L226.0 503.4 L227.0 505.0 L228.0 506.7 L229.0 508.3 L230.0 510.0 L231.0 511.6 L232.0 512.8 L233.0 513.6 L234.0 514.4 L235.0 515.3 L236.0 516.1 L237.0 517.0 L238.0 517.9 L239.0 518.8 L240.0 519.7 L241.0 520.6 L242.0 521.0 L243.0 520.7 L244.0 520.5 L245.0 520.2 L246.0 519.9 L247.0 519.9 L248.0 520.2 L249.0 520.5 L250.0 520.8 L251.0 521.1 L252.0 521.4 L253.0 521.6 L254.0 521.7 L255.0 521.8 L256.0 522.0 L257.0 522.1 L258.0 522.2 L259.0 522.3 L260.0 521.7 L261.0 521.0 L262.0 520.4 L263.0 519.7 L264.0 519.1 L265.0 518.5 L266.0 517.9 L267.0 517.3 L268.0 516.7 L269.0 516.1 L270.0 516.0 L271.0 516.0 L272.0 516.0 L273.0 516.0 L274.0 516.0 L275.0 516.0 L276.0 516.0 L277.0 516.0 L278.0 516.0 L279.0 516.0 L280.0 516.0 L281.0 515.8 L282.0 515.4 L283.0 515.0 L284.0 514.6 L285.0 514.2 L286.0 513.7 L287.0 513.0 L288.0 512.4 L289.0 511.7 L290.0 511.0 L291.0 510.3 L292.0 509.5 L293.0 508.6 L294.0 507.8 L295.0 507.0 L296.0 506.0 L297.0 504.7 L298.0 503.5 L299.0 502.2 L300.0 501.0 L301.0 499.7 L302.0 498.4 L303.0 497.2 L304.0 495.9 L305.0 494.7 L306.0 493.4 L307.0 492.3 L308.0 491.2 L309.0 490.0 L310.0 488.9 L311.0 488.0 L312.0 487.5 L313.0 487.0 L314.0 486.5 L315.0 486.0 L316.0 485.5 L317.0 485.1 L318.0 484.7 L319.0 484.3 L320.0 483.9 L321.0 483.5 L322.0 483.1 L323.0 483.4 L324.0 483.7 L325.0 484.0 L326.0 484.3 L327.0 484.6 L328.0 485.2 L329.0 485.8 L330.0 486.4 L331.0 487.0 L332.0 487.6 L333.0 488.9 L334.0 490.1 L335.0 491.4 L336.0 492.6 L337.0 493.9 L338.0 495.4 L339.0 496.8 L340.0 498.3 L341.0 499.8 L342.0 501.3 L343.0 501.2 L344.0 501.0 L345.0 500.8 L346.0 500.7 L347.0 500.5 L348.0 500.3 L349.0 500.4 L350.0 500.8 L351.0 501.2 L352.0 501.6 L353.0 502.0 L354.0 501.9 L355.0 501.4 L356.0 500.9 L357.0 500.4 L358.0 499.9 L359.0 499.6 L360.0 499.5 L361.0 499.3 L362.0 499.1 L363.0 499.0 L364.0 498.7 L365.0 498.4 L366.0 498.0 L367.0 497.7 L368.0 497.4 L369.0 496.9 L370.0 496.2 L371.0 495.5 L372.0 494.9 L373.0 494.2 L374.0 493.7 L375.0 493.2 L376.0 492.7 L377.0 492.2 L378.0 491.7 L379.0 491.6 L380.0 492.0 L381.0 492.4 L382.0 492.7 L383.0 493.1 L384.0 493.5 L385.0 493.9 L386.0 493.7 L387.0 493.6 L388.0 493.4 L389.0 493.2 L390.0 493.1 L391.0 492.9 L392.0 492.7 L393.0 492.5 L394.0 492.3 L395.0 492.0 L396.0 490.8 L397.0 489.7 L398.0 488.6 L399.0 487.4 L400.0 486.3 L401.0 486.8 L402.0 487.3 L403.0 487.9 L404.0 488.4 L405.0 488.9 L406.0 488.7 L407.0 488.6 L408.0 488.4 L409.0 488.3 L410.0 488.1 L411.0 488.5 L412.0 488.9 L413.0 489.3 L414.0 489.7 L415.0 490.1 L416.0 490.5 L417.0 490.7 L418.0 490.8 L419.0 490.9 L420.0 491.1 L421.0 491.2 L422.0 491.3 L423.0 491.3 L424.0 491.2 L425.0 491.1 L426.0 491.0 L427.0 490.8 L428.0 490.7 L429.0 490.6 L430.0 490.5 L431.0 490.5 L432.0 490.4 L433.0 490.4 L434.0 490.3 L435.0 490.3 L436.0 490.2 L437.0 490.1 L438.0 489.9 L439.0 489.2 L440.0 488.5 L441.0 487.7 L442.0 487.0 L443.0 486.3 L444.0 485.6 L445.0 485.7 L446.0 485.8 L447.0 485.9 L448.0 486.0 L449.0 486.1 L450.0 486.2 L451.0 486.2 L452.0 486.5 L453.0 486.9 L454.0 487.4 L455.0 487.8 L456.0 488.2 L457.0 488.7 L458.0 489.1 L459.0 489.6 L460.0 489.7 L461.0 489.8 L462.0 489.8 L463.0 489.9 L464.0 490.0 L465.0 490.1 L466.0 490.0 L467.0 489.9 L468.0 489.8 L469.0 489.7 L470.0 489.6 L471.0 490.1 L472.0 490.9 L473.0 491.8 L474.0 492.6 L475.0 493.5 L476.0 494.4 L477.0 495.4 L478.0 496.4 L479.0 497.4 L480.0 498.4 L481.0 499.4 L482.0 500.4 L483.0 501.4 L484.0 502.5 L485.0 503.5 L486.0 504.1 L487.0 504.2 L488.0 504.4 L489.0 504.5 L490.0 504.6 L491.0 504.6 L492.0 504.5 L493.0 504.4 L494.0 504.2 L495.0 504.1 L496.0 503.8 L497.0 503.4 L498.0 503.0 L499.0 502.6 L500.0 502.2 L501.0 501.8 L502.0 501.3 L503.0 500.3 L504.0 499.3 L505.0 498.3 L506.0 497.3 L507.0 496.3 L508.0 495.8 L509.0 495.3 L510.0 494.8 L511.0 494.3 L512.0 493.8 L513.0 493.1 L514.0 492.3 L515.0 491.6 L516.0 490.8 L517.0 490.1 L518.0 489.7 L519.0 489.3 L520.0 488.9 L521.0 488.5 L522.0 488.1 L523.0 487.4 L524.0 486.7 L525.0 486.0 L526.0 485.3 L527.0 484.6 L528.0 484.1 L529.0 483.6 L530.0 483.1 L531.0 482.6 L532.0 482.1 L533.0 482.9 L534.0 483.8 L535.0 484.6 L536.0 485.5 L537.0 486.3 L538.0 486.4 L539.0 486.6 L540.0 486.7 L541.0 486.8 L542.0 486.9 L543.0 487.1 L544.0 487.6 L545.0 488.5 L546.0 489.3 L547.0 490.2 L548.0 491.1 L549.0 492.0 L550.0 493.0 L551.0 494.0 L552.0 495.0 L553.0 496.0 L554.0 497.0 L555.0 498.0 L556.0 498.9 L557.0 499.9 L558.0 500.9 L559.0 501.9 L560.0 502.9 L561.0 503.9 L562.0 505.0 L563.0 506.0 L564.0 506.8 L565.0 507.2 L566.0 507.8 L567.0 508.2 L568.0 508.8 L569.0 509.5 L570.0 510.5 L571.0 511.5 L572.0 512.5 L573.0 513.5 L574.0 514.5 L575.0 515.5 L576.0 516.5 L577.0 517.4 L578.0 518.4 L579.0 519.4 L580.0 520.4 L581.0 521.4 L582.0 522.5 L583.0 523.5 L584.0 524.2 L585.0 524.5 L586.0 524.8 L587.0 524.4 L588.0 524.0 L589.0 523.7 L590.0 523.2 L591.0 522.1 L592.0 520.9 L593.0 519.8 L594.0 518.7 L595.0 517.7 L596.0 516.7 L597.0 515.7 L598.0 514.7 L599.0 513.7 L600.0 512.9 L601.0 512.0 L602.0 511.2 L603.0 510.3 L604.0 509.4 L605.0 508.2 L606.0 507.1 L607.0 506.0 L608.0 506.1 L609.0 506.3 L610.0 506.4 L611.0 506.6 L612.0 506.3 L613.0 505.9 L614.0 505.5 L615.0 505.1 L616.0 504.7 L617.0 504.3 L618.0 503.9 L619.0 503.7 L620.0 503.6 L621.0 503.4 L622.0 503.3 L623.0 503.6 L624.0 504.5 L625.0 505.3 L626.0 506.2 L627.0 507.1 L628.0 507.9 L629.0 509.3 L630.0 510.8 L631.0 512.3 L632.0 513.7 L633.0 515.2 L634.0 516.8 L635.0 518.6 L636.0 520.5 L637.0 522.4 L638.0 524.2 L639.0 525.6 L640.0 525.1 L641.0 524.7 L642.0 524.2 L643.0 523.8 L644.0 522.9 L645.0 521.4 L646.0 519.9 L647.0 518.4 L648.0 516.9 L649.0 515.4 L650.0 514.1 L651.0 512.9 L652.0 511.6 L653.0 510.4 L654.0 509.1 L655.0 508.0 L656.0 508.0 L657.0 508.0 L658.0 508.0 L659.0 508.0 L660.0 508.3 L661.0 509.5 L662.0 510.6 L663.0 511.7 L664.0 512.8 L665.0 514.0 L666.0 515.2 L667.0 516.5 L668.0 517.7 L669.0 519.0 L670.0 520.2 L671.0 521.3 L672.0 522.3 L673.0 523.3 L674.0 524.3 L675.0 525.3 L676.0 525.4 L677.0 525.0 L678.0 524.5 L679.0 524.1 L680.0 523.6 L681.0 522.9 L682.0 522.1 L683.0 521.4 L684.0 520.6 L685.0 519.9 L686.0 519.2 L687.0 518.7 L688.0 518.2 L689.0 517.7 L690.0 517.2 L691.0 516.7 L692.0 516.2 L693.0 515.9 L694.0 515.6 L695.0 515.2 L696.0 514.9 L697.0 514.5 L698.0 513.7 L699.0 512.8 L700.0 511.9 L701.0 510.9 L702.0 510.0 L703.0 509.2 L704.0 508.6 L705.0 508.0 L706.0 507.4 L707.0 506.8 L708.0 506.2 L709.0 505.8 L710.0 505.4 L711.0 505.0 L712.0 504.6 L713.0 504.2 L714.0 503.8 L715.0 503.9 L716.0 504.0 L717.0 504.1 L718.0 504.2 L719.0 504.2 L720.0 504.7 L721.0 505.5 L722.0 506.4 L723.0 507.3 L724.0 508.0 L725.0 508.3 L726.0 508.5 L727.0 508.8 L728.0 509.0 L729.0 509.3 L730.0 509.1 L731.0 508.6 L732.0 508.1 L733.0 507.7 L734.0 507.2 L735.0 506.7 L736.0 505.5 L737.0 504.2 L738.0 503.0 L739.0 501.7 L740.0 500.5 L741.0 499.2 L742.0 497.7 L743.0 496.2 L744.0 494.7 L745.0 493.2 L746.0 491.7 L747.0 490.4 L748.0 489.3 L749.0 488.1 L750.0 487.0 L751.0 486.1 L752.0 485.6 L753.0 485.0 L754.0 484.5 L755.0 484.2 L756.0 484.5 L757.0 484.8 L758.0 485.2 L759.0 485.5 L760.0 486.0 L761.0 486.5 L762.0 487.0 L763.0 487.5 L764.0 488.0 L765.0 488.2 L766.0 487.8 L767.0 487.5 L768.0 487.1 L769.0 486.8 L770.0 486.4 L770.3 486.3" stroke="#000" stroke-width="2.0" fill="none" stroke-linejoin="round"/>
<path d="M0.0 522.8 L2.0 522.1 L4.0 521.5 L6.0 520.8 L8.0 520.1 L10.0 519.5 L12.0 518.8 L14.0 518.2 L16.0 517.6 L18.0 517.2 L20.0 516.8 L22.0 516.4 L24.0 515.9 L26.0 515.2 L28.0 514.2 L30.0 513.0 L32.0 511.9 L34.0 510.6 L36.0 509.3 L38.0 508.0 L40.0 506.7 L42.0 505.6 L44.0 504.6 L46.0 503.6 L48.0 503.1 L50.0 502.9 L52.0 503.0 L54.0 503.4 L56.0 503.9 L58.0 504.5 L60.0 505.1 L62.0 505.6 L64.0 506.0 L66.0 506.2 L68.0 506.1 L70.0 505.4 L72.0 504.4 L74.0 503.4 L76.0 502.2 L78.0 500.9 L80.0 499.4 L82.0 497.9 L84.0 496.5 L86.0 495.0 L88.0 493.6 L90.0 492.6 L92.0 491.7 L94.0 491.2 L96.0 491.0 L98.0 491.3 L100.0 491.9 L102.0 492.5 L104.0 493.1 L106.0 493.8 L108.0 494.9 L110.0 496.4 L112.0 498.0 L114.0 499.6 L116.0 501.3 L118.0 502.9 L120.0 504.6 L122.0 506.3 L124.0 507.9 L126.0 509.6 L128.0 511.0 L130.0 512.0 L132.0 512.7 L134.0 513.4 L136.0 513.9 L138.0 514.2 L140.0 514.4 L142.0 514.6 L144.0 514.6 L146.0 514.5 L148.0 514.3 L150.0 514.1 L152.0 513.7 L154.0 513.3 L156.0 512.9 L158.0 512.3 L160.0 511.4 L162.0 510.4 L164.0 509.3 L166.0 508.1 L168.0 506.9 L170.0 505.5 L172.0 504.2 L174.0 502.8 L176.0 501.4 L178.0 499.9 L180.0 498.5 L182.0 497.1 L184.0 495.9 L186.0 494.7 L188.0 493.6 L190.0 492.6 L192.0 491.8 L194.0 491.0 L196.0 490.4 L198.0 489.9 L200.0 489.7 L202.0 489.5 L204.0 489.3 L206.0 489.3 L208.0 489.2 L210.0 489.3 L212.0 489.6 L214.0 489.9 L216.0 490.4 L218.0 490.9 L220.0 491.4 L222.0 492.1 L224.0 492.9 L226.0 493.8 L228.0 494.8 L230.0 495.8 L232.0 497.2 L234.0 499.2 L236.0 501.8 L238.0 504.6 L240.0 507.2 L242.0 509.5 L244.0 511.5 L246.0 513.5 L248.0 515.1 L250.0 516.4 L252.0 517.4 L254.0 518.3 L256.0 519.1 L258.0 519.7 L260.0 520.3 L262.0 520.7 L264.0 520.9 L266.0 520.8 L268.0 520.6 L270.0 520.3 L272.0 519.9 L274.0 519.4 L276.0 518.8 L278.0 518.3 L280.0 517.8 L282.0 517.3 L284.0 516.8 L286.0 516.3 L288.0 515.7 L290.0 515.0 L292.0 514.3 L294.0 513.4 L296.0 512.5 L298.0 511.5 L300.0 510.3 L302.0 508.7 L304.0 506.8 L306.0 504.8 L308.0 502.8 L310.0 500.8 L312.0 498.9 L314.0 496.9 L316.0 495.0 L318.0 493.3 L320.0 491.6 L322.0 490.0 L324.0 488.8 L326.0 487.9 L328.0 487.3 L330.0 486.8 L332.0 486.6 L334.0 486.7 L336.0 487.2 L338.0 488.0 L340.0 489.1 L342.0 490.4 L344.0 491.6 L346.0 492.7 L348.0 493.7 L350.0 494.7 L352.0 495.7 L354.0 496.7 L356.0 497.7 L358.0 498.5 L360.0 499.0 L362.0 499.3 L364.0 499.5 L366.0 499.5 L368.0 499.3 L370.0 498.9 L372.0 498.5 L374.0 498.1 L376.0 497.6 L378.0 497.1 L380.0 496.6 L382.0 496.1 L384.0 495.6 L386.0 495.1 L388.0 494.6 L390.0 494.2 L392.0 493.8 L394.0 493.5 L396.0 493.1 L398.0 492.6 L400.0 492.0 L402.0 491.4 L404.0 491.0 L406.0 490.7 L408.0 490.6 L410.0 490.3 L412.0 489.8 L414.0 489.4 L416.0 489.2 L418.0 489.4 L420.0 489.7 L422.0 490.0 L424.0 490.1 L426.0 490.3 L428.0 490.4 L430.0 490.5 L432.0 490.5 L434.0 490.4 L436.0 490.3 L438.0 490.1 L440.0 489.9 L442.0 489.7 L444.0 489.4 L446.0 489.1 L448.0 488.8 L450.0 488.5 L452.0 488.2 L454.0 488.0 L456.0 487.8 L458.0 487.6 L460.0 487.4 L462.0 487.3 L464.0 487.5 L466.0 487.8 L468.0 488.3 L470.0 489.0 L472.0 489.8 L474.0 490.9 L476.0 492.0 L478.0 493.1 L480.0 494.3 L482.0 495.6 L484.0 496.8 L486.0 497.9 L488.0 498.9 L490.0 499.9 L492.0 500.8 L494.0 501.5 L496.0 501.9 L498.0 502.3 L500.0 502.4 L502.0 502.4 L504.0 502.1 L506.0 501.8 L508.0 501.3 L510.0 500.6 L512.0 499.8 L514.0 498.9 L516.0 497.9 L518.0 496.9 L520.0 495.7 L522.0 494.6 L524.0 493.3 L526.0 492.1 L528.0 490.7 L530.0 489.6 L532.0 488.6 L534.0 487.8 L536.0 487.1 L538.0 486.5 L540.0 486.2 L542.0 486.0 L544.0 485.8 L546.0 485.9 L548.0 486.3 L550.0 486.9 L552.0 487.9 L554.0 489.4 L556.0 491.4 L558.0 493.4 L560.0 495.4 L562.0 497.4 L564.0 499.4 L566.0 501.3 L568.0 503.1 L570.0 504.8 L572.0 506.4 L574.0 508.1 L576.0 509.8 L578.0 511.5 L580.0 513.1 L582.0 514.5 L584.0 515.7 L586.0 516.8 L588.0 517.7 L590.0 518.3 L592.0 518.6 L594.0 518.8 L596.0 518.8 L598.0 518.6 L600.0 518.1 L602.0 517.6 L604.0 516.4 L606.0 514.5 L608.0 512.3 L610.0 510.7 L612.0 509.4 L614.0 508.3 L616.0 507.3 L618.0 506.5 L620.0 506.1 L622.0 505.8 L624.0 505.5 L626.0 505.7 L628.0 506.3 L630.0 507.1 L632.0 508.1 L634.0 509.3 L636.0 510.9 L638.0 512.4 L640.0 513.9 L642.0 515.2 L644.0 516.4 L646.0 517.2 L648.0 517.7 L650.0 517.8 L652.0 517.7 L654.0 517.4 L656.0 516.8 L658.0 516.0 L660.0 515.3 L662.0 514.7 L664.0 514.3 L666.0 514.0 L668.0 514.1 L670.0 514.6 L672.0 515.4 L674.0 516.3 L676.0 517.3 L678.0 518.5 L680.0 519.7 L682.0 520.6 L684.0 521.2 L686.0 521.6 L688.0 521.8 L690.0 521.8 L692.0 521.6 L694.0 521.0 L696.0 520.0 L698.0 518.7 L700.0 517.3 L702.0 516.1 L704.0 514.9 L706.0 513.8 L708.0 512.7 L710.0 511.7 L712.0 510.7 L714.0 509.8 L716.0 509.0 L718.0 508.3 L720.0 507.7 L722.0 507.4 L724.0 507.0 L726.0 506.8 L728.0 506.5 L730.0 506.4 L732.0 506.2 L734.0 506.0 L736.0 505.5 L738.0 504.8 L740.0 503.9 L742.0 503.0 L744.0 501.9 L746.0 500.7 L748.0 499.4 L750.0 498.0 L752.0 496.6 L754.0 495.2 L756.0 493.7 L758.0 492.1 L760.0 490.8 L762.0 489.8 L764.0 489.1 L766.0 488.5 L768.0 487.9 L768.9 487.5" stroke="#e06464" stroke-width="2.0" fill="none" stroke-linejoin="round"/>
</g>
<g clip-path="url(#cm)">
<path d="M0.0 573.2 L1.0 573.6 L2.0 574.0 L3.0 574.4 L4.0 574.9 L5.0 575.3 L6.0 575.7 L7.0 576.0 L8.0 576.4 L9.0 576.8 L10.0 577.1 L11.0 577.5 L12.0 577.8 L13.0 578.1 L14.0 578.3 L15.0 578.4 L16.0 578.5 L17.0 578.5 L18.0 578.4 L19.0 578.3 L20.0 578.1 L21.0 577.9 L22.0 577.7 L23.0 577.4 L24.0 577.1 L25.0 576.7 L26.0 576.3 L27.0 575.9 L28.0 575.5 L29.0 575.1 L30.0 574.7 L31.0 574.6 L32.0 574.5 L32.0 574.6 L31.0 574.5 L30.0 574.4 L29.0 574.3 L28.0 574.2 L27.0 574.1 L26.0 574.0 L25.0 573.9 L24.0 573.7 L23.0 573.6 L22.0 573.4 L21.0 573.3 L20.0 573.1 L19.0 572.9 L18.0 572.7 L17.0 572.4 L16.0 572.2 L15.0 572.0 L14.0 571.7 L13.0 571.5 L12.0 571.3 L11.0 571.0 L10.0 570.8 L9.0 570.5 L8.0 570.3 L7.0 570.0 L6.0 569.8 L5.0 569.5 L4.0 569.3 L3.0 569.0 L2.0 568.7 L1.0 568.5 L0.0 568.2 Z" fill="#f6bcbc"/>
<path d="M32.0 574.5 L33.0 574.6 L34.0 574.7 L35.0 574.9 L36.0 575.2 L36.0 575.2 L35.0 575.0 L34.0 574.9 L33.0 574.8 L32.0 574.6 Z" fill="#b6eeb6"/>
<path d="M36.0 575.2 L37.0 575.5 L38.0 575.7 L39.0 575.9 L40.0 576.0 L41.0 576.0 L42.0 576.0 L43.0 575.9 L43.0 576.0 L42.0 575.9 L41.0 575.8 L40.0 575.7 L39.0 575.6 L38.0 575.4 L37.0 575.3 L36.0 575.2 Z" fill="#f6bcbc"/>
<path d="M43.0 575.9 L44.0 575.8 L45.0 575.7 L46.0 575.6 L47.0 575.5 L48.0 575.5 L49.0 575.5 L50.0 575.6 L51.0 575.7 L52.0 575.9 L53.0 576.0 L54.0 576.1 L55.0 576.1 L56.0 576.1 L57.0 576.1 L58.0 576.0 L59.0 575.9 L60.0 575.8 L61.0 575.7 L62.0 575.6 L63.0 575.5 L64.0 575.4 L65.0 575.3 L66.0 575.2 L67.0 575.0 L68.0 574.9 L69.0 574.7 L70.0 574.6 L71.0 574.4 L72.0 574.3 L73.0 574.1 L74.0 573.9 L75.0 573.8 L76.0 573.6 L77.0 573.4 L78.0 573.3 L79.0 573.1 L80.0 572.9 L81.0 572.8 L82.0 572.6 L83.0 572.4 L84.0 572.3 L85.0 572.1 L86.0 571.9 L87.0 571.7 L88.0 571.6 L89.0 571.4 L90.0 571.2 L91.0 571.0 L92.0 570.9 L93.0 570.7 L94.0 570.5 L95.0 570.4 L96.0 570.2 L97.0 570.1 L98.0 569.9 L99.0 570.0 L100.0 570.1 L101.0 570.5 L102.0 570.9 L103.0 571.6 L103.0 571.6 L102.0 571.5 L101.0 571.6 L100.0 571.6 L99.0 571.7 L98.0 571.8 L97.0 571.9 L96.0 572.1 L95.0 572.3 L94.0 572.5 L93.0 572.6 L92.0 572.8 L91.0 572.9 L90.0 573.1 L89.0 573.2 L88.0 573.4 L87.0 573.5 L86.0 573.7 L85.0 573.8 L84.0 574.0 L83.0 574.1 L82.0 574.3 L81.0 574.4 L80.0 574.6 L79.0 574.7 L78.0 574.9 L77.0 575.0 L76.0 575.1 L75.0 575.2 L74.0 575.3 L73.0 575.4 L72.0 575.5 L71.0 575.5 L70.0 575.6 L69.0 575.6 L68.0 575.7 L67.0 575.7 L66.0 575.8 L65.0 575.8 L64.0 575.9 L63.0 575.9 L62.0 576.0 L61.0 576.0 L60.0 576.1 L59.0 576.1 L58.0 576.2 L57.0 576.2 L56.0 576.2 L55.0 576.2 L54.0 576.3 L53.0 576.3 L52.0 576.3 L51.0 576.3 L50.0 576.3 L49.0 576.3 L48.0 576.2 L47.0 576.2 L46.0 576.1 L45.0 576.1 L44.0 576.0 L43.0 576.0 Z" fill="#b6eeb6"/>
<path d="M103.0 571.6 L104.0 572.3 L105.0 572.9 L106.0 573.6 L107.0 574.0 L108.0 574.5 L109.0 574.9 L110.0 575.2 L111.0 575.5 L112.0 575.9 L113.0 576.2 L114.0 576.6 L115.0 576.9 L116.0 577.2 L117.0 577.6 L118.0 577.9 L119.0 578.2 L120.0 578.4 L121.0 578.6 L122.0 578.7 L123.0 578.8 L124.0 578.8 L125.0 578.8 L126.0 578.8 L127.0 578.9 L128.0 579.0 L129.0 579.1 L130.0 579.3 L131.0 579.5 L132.0 579.8 L133.0 580.0 L134.0 580.3 L135.0 580.5 L136.0 580.8 L137.0 581.0 L138.0 581.1 L139.0 581.3 L140.0 581.5 L141.0 581.6 L142.0 581.7 L143.0 581.7 L144.0 581.7 L145.0 581.5 L146.0 581.4 L147.0 581.2 L148.0 581.0 L149.0 580.8 L150.0 580.5 L151.0 580.4 L152.0 580.2 L153.0 580.1 L154.0 580.0 L155.0 579.9 L156.0 579.8 L157.0 579.6 L158.0 579.5 L159.0 579.3 L160.0 579.1 L161.0 578.9 L161.0 579.0 L160.0 579.0 L159.0 579.1 L158.0 579.2 L157.0 579.2 L156.0 579.3 L155.0 579.3 L154.0 579.3 L153.0 579.3 L152.0 579.3 L151.0 579.3 L150.0 579.3 L149.0 579.2 L148.0 579.1 L147.0 579.1 L146.0 579.0 L145.0 578.9 L144.0 578.8 L143.0 578.7 L142.0 578.6 L141.0 578.5 L140.0 578.4 L139.0 578.3 L138.0 578.2 L137.0 578.0 L136.0 577.9 L135.0 577.7 L134.0 577.5 L133.0 577.4 L132.0 577.2 L131.0 577.0 L130.0 576.8 L129.0 576.6 L128.0 576.4 L127.0 576.1 L126.0 575.9 L125.0 575.7 L124.0 575.4 L123.0 575.2 L122.0 574.9 L121.0 574.7 L120.0 574.4 L119.0 574.1 L118.0 573.9 L117.0 573.7 L116.0 573.4 L115.0 573.2 L114.0 573.0 L113.0 572.8 L112.0 572.6 L111.0 572.5 L110.0 572.3 L109.0 572.2 L108.0 572.0 L107.0 571.9 L106.0 571.8 L105.0 571.7 L104.0 571.6 L103.0 571.6 Z" fill="#f6bcbc"/>
<path d="M161.0 578.9 L162.0 578.7 L163.0 578.5 L164.0 578.3 L165.0 578.1 L166.0 577.9 L167.0 577.7 L168.0 577.6 L169.0 577.5 L170.0 577.4 L171.0 577.3 L172.0 577.1 L173.0 577.0 L174.0 576.8 L175.0 576.6 L176.0 576.4 L177.0 576.2 L178.0 576.0 L179.0 575.7 L180.0 575.5 L181.0 575.3 L182.0 575.0 L183.0 574.7 L184.0 574.5 L185.0 574.2 L186.0 573.9 L187.0 573.6 L188.0 573.4 L189.0 573.1 L190.0 572.8 L191.0 572.6 L192.0 572.3 L193.0 572.0 L194.0 571.8 L195.0 571.5 L196.0 571.3 L197.0 571.1 L198.0 570.8 L199.0 570.6 L200.0 570.4 L201.0 570.2 L202.0 570.0 L203.0 569.7 L204.0 569.4 L205.0 569.1 L206.0 568.7 L207.0 568.3 L208.0 567.9 L209.0 567.7 L210.0 567.5 L211.0 567.5 L212.0 567.5 L213.0 567.8 L214.0 568.1 L215.0 568.3 L216.0 568.6 L217.0 568.8 L218.0 569.1 L219.0 569.3 L220.0 569.5 L221.0 569.8 L222.0 570.0 L223.0 570.2 L224.0 570.5 L224.0 570.4 L223.0 570.4 L222.0 570.4 L221.0 570.4 L220.0 570.4 L219.0 570.5 L218.0 570.5 L217.0 570.6 L216.0 570.7 L215.0 570.8 L214.0 570.9 L213.0 571.0 L212.0 571.2 L211.0 571.3 L210.0 571.4 L209.0 571.6 L208.0 571.8 L207.0 572.0 L206.0 572.1 L205.0 572.3 L204.0 572.5 L203.0 572.7 L202.0 572.9 L201.0 573.2 L200.0 573.4 L199.0 573.6 L198.0 573.8 L197.0 574.0 L196.0 574.1 L195.0 574.3 L194.0 574.5 L193.0 574.7 L192.0 574.8 L191.0 575.0 L190.0 575.2 L189.0 575.4 L188.0 575.5 L187.0 575.7 L186.0 575.9 L185.0 576.0 L184.0 576.2 L183.0 576.4 L182.0 576.5 L181.0 576.7 L180.0 576.9 L179.0 577.0 L178.0 577.2 L177.0 577.3 L176.0 577.4 L175.0 577.6 L174.0 577.7 L173.0 577.8 L172.0 577.9 L171.0 578.0 L170.0 578.1 L169.0 578.2 L168.0 578.3 L167.0 578.4 L166.0 578.5 L165.0 578.6 L164.0 578.7 L163.0 578.8 L162.0 578.9 L161.0 579.0 Z" fill="#b6eeb6"/>
<path d="M224.0 570.5 L225.0 570.8 L226.0 571.1 L227.0 571.5 L228.0 571.8 L229.0 572.2 L230.0 572.6 L231.0 573.0 L232.0 573.4 L233.0 573.7 L234.0 574.0 L235.0 574.3 L236.0 574.6 L237.0 574.9 L238.0 575.2 L239.0 575.5 L240.0 575.7 L241.0 576.0 L242.0 576.3 L243.0 576.5 L244.0 576.8 L245.0 577.1 L246.0 577.3 L247.0 577.5 L248.0 577.8 L249.0 578.0 L250.0 578.2 L251.0 578.3 L252.0 578.5 L253.0 578.6 L254.0 578.7 L255.0 578.8 L256.0 578.9 L257.0 578.9 L258.0 578.9 L259.0 578.9 L260.0 578.9 L261.0 578.9 L262.0 578.9 L263.0 578.9 L264.0 578.9 L265.0 579.0 L266.0 579.1 L267.0 579.2 L268.0 579.3 L269.0 579.4 L270.0 579.5 L271.0 579.6 L272.0 579.7 L273.0 579.8 L274.0 579.9 L275.0 580.0 L276.0 580.1 L277.0 580.1 L278.0 580.1 L279.0 580.0 L280.0 580.0 L281.0 579.8 L282.0 579.6 L283.0 579.4 L284.0 579.3 L285.0 579.2 L286.0 579.1 L287.0 579.0 L288.0 579.0 L289.0 579.0 L290.0 579.0 L291.0 579.0 L292.0 579.0 L293.0 579.0 L294.0 579.0 L295.0 579.0 L296.0 579.0 L297.0 579.0 L298.0 579.0 L299.0 579.0 L300.0 578.9 L300.0 578.9 L299.0 579.0 L298.0 579.0 L297.0 579.0 L296.0 579.0 L295.0 579.0 L294.0 579.0 L293.0 579.0 L292.0 579.0 L291.0 579.0 L290.0 579.0 L289.0 578.9 L288.0 578.9 L287.0 578.9 L286.0 578.9 L285.0 578.8 L284.0 578.8 L283.0 578.7 L282.0 578.7 L281.0 578.6 L280.0 578.6 L279.0 578.5 L278.0 578.5 L277.0 578.4 L276.0 578.3 L275.0 578.2 L274.0 578.1 L273.0 578.0 L272.0 577.9 L271.0 577.8 L270.0 577.7 L269.0 577.6 L268.0 577.4 L267.0 577.3 L266.0 577.2 L265.0 577.0 L264.0 576.9 L263.0 576.7 L262.0 576.5 L261.0 576.4 L260.0 576.2 L259.0 576.1 L258.0 575.9 L257.0 575.7 L256.0 575.5 L255.0 575.3 L254.0 575.2 L253.0 575.0 L252.0 574.7 L251.0 574.5 L250.0 574.3 L249.0 574.1 L248.0 573.9 L247.0 573.7 L246.0 573.4 L245.0 573.2 L244.0 573.1 L243.0 572.9 L242.0 572.7 L241.0 572.5 L240.0 572.4 L239.0 572.2 L238.0 572.0 L237.0 571.9 L236.0 571.7 L235.0 571.5 L234.0 571.4 L233.0 571.2 L232.0 571.1 L231.0 570.9 L230.0 570.8 L229.0 570.7 L228.0 570.6 L227.0 570.5 L226.0 570.4 L225.0 570.4 L224.0 570.4 Z" fill="#f6bcbc"/>
<path d="M300.0 578.9 L301.0 578.8 L302.0 578.7 L303.0 578.6 L304.0 578.5 L305.0 578.3 L306.0 578.1 L307.0 577.9 L308.0 577.6 L309.0 577.3 L310.0 577.0 L311.0 576.5 L312.0 576.1 L313.0 575.7 L314.0 575.2 L315.0 574.9 L316.0 574.5 L317.0 574.1 L318.0 573.7 L319.0 573.4 L320.0 573.1 L321.0 572.7 L322.0 572.4 L323.0 572.1 L324.0 571.8 L325.0 571.6 L326.0 571.3 L327.0 571.1 L328.0 570.9 L329.0 570.7 L330.0 570.5 L331.0 570.4 L332.0 570.3 L333.0 570.2 L334.0 570.2 L335.0 570.2 L336.0 570.2 L337.0 570.2 L338.0 570.2 L339.0 570.2 L340.0 570.2 L341.0 570.2 L342.0 570.3 L343.0 570.3 L344.0 570.4 L345.0 570.4 L346.0 570.5 L347.0 570.5 L348.0 570.6 L349.0 570.6 L350.0 570.6 L351.0 570.7 L352.0 570.7 L353.0 570.7 L354.0 570.7 L355.0 570.7 L356.0 570.7 L357.0 570.7 L358.0 570.6 L359.0 570.5 L360.0 570.4 L361.0 570.3 L362.0 570.1 L363.0 570.0 L364.0 569.8 L365.0 569.7 L366.0 569.5 L367.0 569.3 L368.0 569.2 L369.0 569.0 L370.0 568.8 L371.0 568.6 L372.0 568.4 L373.0 568.1 L374.0 567.8 L375.0 567.4 L376.0 567.0 L377.0 566.6 L378.0 566.1 L379.0 565.8 L380.0 565.5 L381.0 565.2 L382.0 565.0 L383.0 564.7 L384.0 564.4 L385.0 563.8 L386.0 563.3 L387.0 562.6 L388.0 561.9 L389.0 561.1 L390.0 560.3 L391.0 559.5 L392.0 558.6 L393.0 557.8 L394.0 557.0 L395.0 556.1 L396.0 555.3 L397.0 554.5 L398.0 553.7 L399.0 553.0 L400.0 552.3 L401.0 551.7 L402.0 551.1 L403.0 550.7 L404.0 550.2 L405.0 549.8 L406.0 549.4 L407.0 548.9 L408.0 548.5 L409.0 548.1 L410.0 547.7 L411.0 547.4 L412.0 547.1 L413.0 546.9 L414.0 546.6 L415.0 546.4 L416.0 546.2 L417.0 546.0 L418.0 545.8 L419.0 545.7 L420.0 545.5 L421.0 545.5 L422.0 545.4 L423.0 545.5 L424.0 545.7 L425.0 545.9 L426.0 546.2 L427.0 546.3 L428.0 546.4 L429.0 546.3 L430.0 546.2 L431.0 546.1 L432.0 546.0 L433.0 546.0 L434.0 546.0 L435.0 546.2 L436.0 546.3 L437.0 546.1 L438.0 546.0 L439.0 545.4 L440.0 544.9 L441.0 544.2 L442.0 543.5 L443.0 542.9 L444.0 542.4 L445.0 542.0 L446.0 541.6 L447.0 541.5 L448.0 541.4 L449.0 541.5 L450.0 541.6 L451.0 541.8 L452.0 542.1 L453.0 542.2 L454.0 542.3 L455.0 542.3 L456.0 542.4 L457.0 542.2 L458.0 542.1 L459.0 542.0 L460.0 541.8 L461.0 541.7 L462.0 541.6 L463.0 541.5 L464.0 541.3 L465.0 541.3 L466.0 541.2 L467.0 541.3 L468.0 541.4 L469.0 541.6 L470.0 541.9 L471.0 542.2 L472.0 542.6 L473.0 543.1 L474.0 543.5 L475.0 544.0 L475.0 543.9 L474.0 543.8 L473.0 543.8 L472.0 543.7 L471.0 543.7 L470.0 543.7 L469.0 543.7 L468.0 543.7 L467.0 543.8 L466.0 543.8 L465.0 543.9 L464.0 544.0 L463.0 544.1 L462.0 544.2 L461.0 544.3 L460.0 544.4 L459.0 544.6 L458.0 544.7 L457.0 544.9 L456.0 545.1 L455.0 545.2 L454.0 545.4 L453.0 545.6 L452.0 545.7 L451.0 545.9 L450.0 546.0 L449.0 546.2 L448.0 546.4 L447.0 546.6 L446.0 546.8 L445.0 547.0 L444.0 547.2 L443.0 547.4 L442.0 547.6 L441.0 547.8 L440.0 548.0 L439.0 548.3 L438.0 548.5 L437.0 548.7 L436.0 548.9 L435.0 549.1 L434.0 549.3 L433.0 549.5 L432.0 549.8 L431.0 550.0 L430.0 550.2 L429.0 550.4 L428.0 550.6 L427.0 550.9 L426.0 551.1 L425.0 551.4 L424.0 551.6 L423.0 551.9 L422.0 552.2 L421.0 552.5 L420.0 552.8 L419.0 553.1 L418.0 553.4 L417.0 553.8 L416.0 554.2 L415.0 554.6 L414.0 555.0 L413.0 555.5 L412.0 555.9 L411.0 556.4 L410.0 556.9 L409.0 557.4 L408.0 558.0 L407.0 558.5 L406.0 559.0 L405.0 559.5 L404.0 560.1 L403.0 560.6 L402.0 561.2 L401.0 561.7 L400.0 562.3 L399.0 562.8 L398.0 563.3 L397.0 563.8 L396.0 564.3 L395.0 564.8 L394.0 565.3 L393.0 565.8 L392.0 566.2 L391.0 566.6 L390.0 567.0 L389.0 567.3 L388.0 567.7 L387.0 568.0 L386.0 568.3 L385.0 568.5 L384.0 568.8 L383.0 569.0 L382.0 569.2 L381.0 569.4 L380.0 569.6 L379.0 569.8 L378.0 570.0 L377.0 570.1 L376.0 570.3 L375.0 570.4 L374.0 570.5 L373.0 570.6 L372.0 570.7 L371.0 570.8 L370.0 570.9 L369.0 571.0 L368.0 571.1 L367.0 571.2 L366.0 571.2 L365.0 571.3 L364.0 571.4 L363.0 571.5 L362.0 571.6 L361.0 571.7 L360.0 571.8 L359.0 571.9 L358.0 572.0 L357.0 572.1 L356.0 572.2 L355.0 572.3 L354.0 572.4 L353.0 572.5 L352.0 572.6 L351.0 572.7 L350.0 572.7 L349.0 572.8 L348.0 572.9 L347.0 573.0 L346.0 573.0 L345.0 573.1 L344.0 573.2 L343.0 573.3 L342.0 573.4 L341.0 573.5 L340.0 573.6 L339.0 573.7 L338.0 573.8 L337.0 573.9 L336.0 574.1 L335.0 574.2 L334.0 574.3 L333.0 574.5 L332.0 574.7 L331.0 574.8 L330.0 575.0 L329.0 575.1 L328.0 575.3 L327.0 575.4 L326.0 575.6 L325.0 575.7 L324.0 575.9 L323.0 576.1 L322.0 576.2 L321.0 576.4 L320.0 576.6 L319.0 576.8 L318.0 577.1 L317.0 577.3 L316.0 577.5 L315.0 577.7 L314.0 577.9 L313.0 578.1 L312.0 578.2 L311.0 578.4 L310.0 578.5 L309.0 578.6 L308.0 578.6 L307.0 578.7 L306.0 578.7 L305.0 578.8 L304.0 578.8 L303.0 578.9 L302.0 578.9 L301.0 578.9 L300.0 578.9 Z" fill="#b6eeb6"/>
<path d="M475.0 544.0 L476.0 544.4 L477.0 544.8 L478.0 545.2 L479.0 545.6 L480.0 546.0 L481.0 546.4 L482.0 546.9 L483.0 547.3 L484.0 547.8 L485.0 548.2 L486.0 548.6 L487.0 548.9 L488.0 549.3 L489.0 549.5 L490.0 549.8 L491.0 550.1 L492.0 550.3 L493.0 550.6 L494.0 550.8 L495.0 551.1 L496.0 551.3 L497.0 551.5 L498.0 551.8 L499.0 552.0 L500.0 552.2 L501.0 552.3 L502.0 552.5 L503.0 552.6 L504.0 552.7 L505.0 552.8 L506.0 552.9 L507.0 553.0 L508.0 553.1 L509.0 553.2 L510.0 553.3 L511.0 553.3 L512.0 553.4 L513.0 553.4 L514.0 553.3 L515.0 553.2 L516.0 553.0 L517.0 552.8 L518.0 552.5 L519.0 552.2 L520.0 551.9 L521.0 551.4 L522.0 551.0 L523.0 550.5 L524.0 550.1 L525.0 549.5 L526.0 549.0 L526.0 549.2 L525.0 549.4 L524.0 549.5 L523.0 549.7 L522.0 549.8 L521.0 549.9 L520.0 550.1 L519.0 550.2 L518.0 550.3 L517.0 550.3 L516.0 550.4 L515.0 550.4 L514.0 550.4 L513.0 550.4 L512.0 550.4 L511.0 550.4 L510.0 550.4 L509.0 550.3 L508.0 550.2 L507.0 550.1 L506.0 550.0 L505.0 549.8 L504.0 549.7 L503.0 549.5 L502.0 549.4 L501.0 549.2 L500.0 549.0 L499.0 548.8 L498.0 548.5 L497.0 548.3 L496.0 548.1 L495.0 547.9 L494.0 547.6 L493.0 547.4 L492.0 547.2 L491.0 546.9 L490.0 546.7 L489.0 546.5 L488.0 546.2 L487.0 546.0 L486.0 545.8 L485.0 545.6 L484.0 545.4 L483.0 545.2 L482.0 545.0 L481.0 544.8 L480.0 544.6 L479.0 544.4 L478.0 544.3 L477.0 544.2 L476.0 544.0 L475.0 543.9 Z" fill="#f6bcbc"/>
<path d="M526.0 549.0 L527.0 548.4 L528.0 547.8 L529.0 547.3 L530.0 546.8 L531.0 546.3 L532.0 545.9 L533.0 545.6 L534.0 545.3 L535.0 545.2 L536.0 545.1 L537.0 545.1 L538.0 545.0 L539.0 544.9 L540.0 544.8 L541.0 544.7 L542.0 544.6 L543.0 544.6 L544.0 544.7 L545.0 544.8 L546.0 545.0 L547.0 545.3 L548.0 545.7 L549.0 546.1 L550.0 546.6 L550.0 546.3 L549.0 546.3 L548.0 546.2 L547.0 546.2 L546.0 546.3 L545.0 546.3 L544.0 546.4 L543.0 546.5 L542.0 546.6 L541.0 546.8 L540.0 546.9 L539.0 547.1 L538.0 547.2 L537.0 547.4 L536.0 547.6 L535.0 547.7 L534.0 547.9 L533.0 548.0 L532.0 548.2 L531.0 548.4 L530.0 548.5 L529.0 548.7 L528.0 548.9 L527.0 549.0 L526.0 549.2 Z" fill="#b6eeb6"/>
<path d="M550.0 546.6 L551.0 547.2 L552.0 547.7 L553.0 548.2 L554.0 548.7 L555.0 549.1 L556.0 549.5 L557.0 549.8 L558.0 550.1 L559.0 550.5 L560.0 550.8 L561.0 551.3 L562.0 551.7 L563.0 552.2 L564.0 552.7 L565.0 553.2 L566.0 553.8 L567.0 554.4 L568.0 554.9 L569.0 555.6 L570.0 556.3 L571.0 557.0 L572.0 557.7 L573.0 558.5 L574.0 559.2 L575.0 560.0 L576.0 560.9 L577.0 561.8 L578.0 562.7 L579.0 563.7 L580.0 564.6 L581.0 565.5 L582.0 566.4 L583.0 567.1 L584.0 567.9 L585.0 568.5 L586.0 569.1 L587.0 569.5 L588.0 569.9 L589.0 570.1 L590.0 570.3 L591.0 570.3 L592.0 570.3 L593.0 570.2 L594.0 570.0 L595.0 569.9 L596.0 569.8 L597.0 569.8 L598.0 569.8 L599.0 569.9 L600.0 570.0 L601.0 570.0 L602.0 570.1 L603.0 570.1 L604.0 570.0 L605.0 570.0 L606.0 569.9 L607.0 569.9 L608.0 569.9 L609.0 569.9 L610.0 569.9 L611.0 569.9 L612.0 570.0 L613.0 570.0 L614.0 570.1 L615.0 570.2 L616.0 570.3 L617.0 570.6 L618.0 570.9 L619.0 571.4 L620.0 571.8 L621.0 572.3 L622.0 572.8 L623.0 573.4 L624.0 574.0 L625.0 574.7 L626.0 575.3 L627.0 576.1 L628.0 576.8 L629.0 577.6 L630.0 578.3 L631.0 579.1 L632.0 579.8 L633.0 580.6 L634.0 581.3 L635.0 582.0 L636.0 582.7 L637.0 583.3 L638.0 583.9 L639.0 584.4 L640.0 584.9 L641.0 585.2 L642.0 585.5 L643.0 585.6 L644.0 585.8 L645.0 585.8 L646.0 585.9 L647.0 585.9 L648.0 585.9 L649.0 585.9 L650.0 585.9 L651.0 586.0 L652.0 586.1 L653.0 586.4 L654.0 586.6 L655.0 587.0 L656.0 587.3 L657.0 587.8 L658.0 588.3 L659.0 589.0 L660.0 589.6 L661.0 590.4 L662.0 591.1 L663.0 591.8 L664.0 592.5 L665.0 593.1 L666.0 593.7 L667.0 594.3 L668.0 594.8 L669.0 595.3 L670.0 595.7 L671.0 596.1 L672.0 596.4 L673.0 596.6 L674.0 596.9 L675.0 597.0 L676.0 597.1 L677.0 597.2 L678.0 597.2 L679.0 597.2 L680.0 597.2 L681.0 597.1 L682.0 597.1 L683.0 597.0 L684.0 596.9 L685.0 596.8 L686.0 596.6 L687.0 596.5 L688.0 596.4 L689.0 596.2 L690.0 596.0 L691.0 595.8 L692.0 595.6 L693.0 595.4 L694.0 595.2 L695.0 595.0 L696.0 594.8 L697.0 594.6 L698.0 594.4 L699.0 594.2 L700.0 594.0 L701.0 593.9 L701.0 594.0 L700.0 594.0 L699.0 593.9 L698.0 593.9 L697.0 593.8 L696.0 593.7 L695.0 593.6 L694.0 593.5 L693.0 593.4 L692.0 593.3 L691.0 593.1 L690.0 593.0 L689.0 592.8 L688.0 592.7 L687.0 592.5 L686.0 592.4 L685.0 592.2 L684.0 592.0 L683.0 591.9 L682.0 591.7 L681.0 591.5 L680.0 591.4 L679.0 591.2 L678.0 591.0 L677.0 590.7 L676.0 590.5 L675.0 590.2 L674.0 590.0 L673.0 589.7 L672.0 589.4 L671.0 589.0 L670.0 588.7 L669.0 588.3 L668.0 588.0 L667.0 587.6 L666.0 587.2 L665.0 586.8 L664.0 586.3 L663.0 585.9 L662.0 585.5 L661.0 585.1 L660.0 584.6 L659.0 584.2 L658.0 583.8 L657.0 583.4 L656.0 583.0 L655.0 582.5 L654.0 582.1 L653.0 581.7 L652.0 581.3 L651.0 580.8 L650.0 580.4 L649.0 579.9 L648.0 579.4 L647.0 579.0 L646.0 578.5 L645.0 578.0 L644.0 577.5 L643.0 576.9 L642.0 576.4 L641.0 575.9 L640.0 575.3 L639.0 574.8 L638.0 574.2 L637.0 573.7 L636.0 573.1 L635.0 572.6 L634.0 572.1 L633.0 571.6 L632.0 571.1 L631.0 570.7 L630.0 570.2 L629.0 569.8 L628.0 569.4 L627.0 569.0 L626.0 568.7 L625.0 568.3 L624.0 568.0 L623.0 567.7 L622.0 567.4 L621.0 567.2 L620.0 566.9 L619.0 566.7 L618.0 566.5 L617.0 566.3 L616.0 566.1 L615.0 565.8 L614.0 565.6 L613.0 565.4 L612.0 565.2 L611.0 565.0 L610.0 564.8 L609.0 564.6 L608.0 564.4 L607.0 564.2 L606.0 564.1 L605.0 563.9 L604.0 563.7 L603.0 563.5 L602.0 563.3 L601.0 563.2 L600.0 563.0 L599.0 562.8 L598.0 562.6 L597.0 562.3 L596.0 562.1 L595.0 561.8 L594.0 561.4 L593.0 561.1 L592.0 560.7 L591.0 560.3 L590.0 559.9 L589.0 559.4 L588.0 559.0 L587.0 558.5 L586.0 558.1 L585.0 557.6 L584.0 557.1 L583.0 556.6 L582.0 556.1 L581.0 555.6 L580.0 555.1 L579.0 554.6 L578.0 554.1 L577.0 553.6 L576.0 553.2 L575.0 552.7 L574.0 552.3 L573.0 551.9 L572.0 551.5 L571.0 551.1 L570.0 550.7 L569.0 550.4 L568.0 550.0 L567.0 549.7 L566.0 549.4 L565.0 549.2 L564.0 548.9 L563.0 548.6 L562.0 548.4 L561.0 548.2 L560.0 548.0 L559.0 547.7 L558.0 547.5 L557.0 547.3 L556.0 547.1 L555.0 546.9 L554.0 546.8 L553.0 546.6 L552.0 546.5 L551.0 546.4 L550.0 546.3 Z" fill="#f6bcbc"/>
<path d="M701.0 593.9 L702.0 593.7 L703.0 593.5 L704.0 593.4 L705.0 593.3 L706.0 593.1 L707.0 593.0 L708.0 592.9 L709.0 592.7 L710.0 592.6 L711.0 592.4 L712.0 592.2 L713.0 592.0 L714.0 591.9 L715.0 591.8 L716.0 591.7 L717.0 591.7 L718.0 591.8 L719.0 591.9 L720.0 591.9 L721.0 591.9 L722.0 592.0 L723.0 591.9 L724.0 591.8 L725.0 591.8 L726.0 591.7 L727.0 591.5 L728.0 591.4 L729.0 591.1 L730.0 590.9 L731.0 590.6 L732.0 590.3 L733.0 589.9 L734.0 589.6 L735.0 589.3 L736.0 588.9 L737.0 588.5 L738.0 588.1 L739.0 587.7 L740.0 587.2 L741.0 586.7 L742.0 586.2 L743.0 585.6 L744.0 585.1 L745.0 584.5 L746.0 583.8 L747.0 583.1 L748.0 582.4 L749.0 581.7 L750.0 580.9 L751.0 580.2 L752.0 579.5 L753.0 578.8 L754.0 578.1 L755.0 577.5 L756.0 576.8 L757.0 576.3 L758.0 575.7 L759.0 575.1 L760.0 574.6 L761.0 574.1 L762.0 573.6 L763.0 573.1 L764.0 572.6 L765.0 572.1 L766.0 571.7 L767.0 571.2 L768.0 570.7 L769.0 570.4 L770.0 570.0 L770.0 579.8 L769.0 580.2 L768.0 580.6 L767.0 581.0 L766.0 581.3 L765.0 581.8 L764.0 582.2 L763.0 582.6 L762.0 583.0 L761.0 583.4 L760.0 583.8 L759.0 584.2 L758.0 584.6 L757.0 585.0 L756.0 585.4 L755.0 585.8 L754.0 586.2 L753.0 586.6 L752.0 587.0 L751.0 587.3 L750.0 587.7 L749.0 588.1 L748.0 588.5 L747.0 588.8 L746.0 589.2 L745.0 589.5 L744.0 589.8 L743.0 590.1 L742.0 590.4 L741.0 590.7 L740.0 590.9 L739.0 591.1 L738.0 591.4 L737.0 591.6 L736.0 591.8 L735.0 591.9 L734.0 592.1 L733.0 592.2 L732.0 592.4 L731.0 592.5 L730.0 592.6 L729.0 592.7 L728.0 592.8 L727.0 592.8 L726.0 592.9 L725.0 593.0 L724.0 593.1 L723.0 593.2 L722.0 593.2 L721.0 593.3 L720.0 593.4 L719.0 593.4 L718.0 593.5 L717.0 593.6 L716.0 593.7 L715.0 593.7 L714.0 593.8 L713.0 593.9 L712.0 593.9 L711.0 594.0 L710.0 594.0 L709.0 594.0 L708.0 594.1 L707.0 594.1 L706.0 594.1 L705.0 594.1 L704.0 594.1 L703.0 594.1 L702.0 594.0 L701.0 594.0 Z" fill="#b6eeb6"/>
<g shape-rendering="crispEdges">
<rect x="3" y="578.0" width="4" height="5.5" fill="#c03030"/>
<rect x="4" y="578.0" width="2" height="4.5" fill="#f08888"/>
<rect x="8" y="578.0" width="4" height="5.5" fill="#c03030"/>
<rect x="9" y="578.0" width="2" height="4.5" fill="#f08888"/>
<rect x="14" y="578.0" width="4" height="5.5" fill="#c03030"/>
<rect x="15" y="578.0" width="2" height="4.5" fill="#f08888"/>
<rect x="19" y="578.0" width="4" height="4.5" fill="#c03030"/>
<rect x="20" y="578.0" width="2" height="3.5" fill="#f08888"/>
<rect x="24" y="578.0" width="4" height="3.0" fill="#c03030"/>
<rect x="25" y="578.0" width="2" height="2.0" fill="#f08888"/>
<rect x="29" y="578.0" width="4" height="1.5" fill="#c03030"/>
<rect x="35" y="578.0" width="4" height="2.0" fill="#c03030"/>
<rect x="40" y="578.0" width="4" height="2.0" fill="#c03030"/>
<rect x="45" y="578.0" width="4" height="1.5" fill="#c03030"/>
<rect x="51" y="578.0" width="4" height="2.0" fill="#c03030"/>
<rect x="56" y="578.0" width="4" height="1.0" fill="#c03030"/>
<rect x="61" y="578.0" width="4" height="1.0" fill="#c03030"/>
<rect x="77" y="576.0" width="4" height="1.0" fill="#18a018"/>
<rect x="82" y="575.5" width="4" height="1.5" fill="#18a018"/>
<rect x="88" y="575.5" width="4" height="1.5" fill="#18a018"/>
<rect x="93" y="574.5" width="4" height="2.5" fill="#18a018"/>
<rect x="94" y="575.5" width="2" height="1.5" fill="#4fe04f"/>
<rect x="98" y="574.5" width="4" height="2.5" fill="#18a018"/>
<rect x="99" y="575.5" width="2" height="1.5" fill="#4fe04f"/>
<rect x="103" y="578.0" width="4" height="1.0" fill="#c03030"/>
<rect x="109" y="578.0" width="4" height="1.5" fill="#c03030"/>
<rect x="114" y="578.0" width="4" height="3.0" fill="#c03030"/>
<rect x="115" y="578.0" width="2" height="2.0" fill="#f08888"/>
<rect x="119" y="578.0" width="4" height="4.5" fill="#c03030"/>
<rect x="120" y="578.0" width="2" height="3.5" fill="#f08888"/>
<rect x="124" y="578.0" width="4" height="3.5" fill="#c03030"/>
<rect x="125" y="578.0" width="2" height="2.5" fill="#f08888"/>
<rect x="130" y="578.0" width="4" height="3.0" fill="#c03030"/>
<rect x="131" y="578.0" width="2" height="2.0" fill="#f08888"/>
<rect x="135" y="578.0" width="4" height="3.0" fill="#c03030"/>
<rect x="136" y="578.0" width="2" height="2.0" fill="#f08888"/>
<rect x="140" y="578.0" width="4" height="3.0" fill="#c03030"/>
<rect x="141" y="578.0" width="2" height="2.0" fill="#f08888"/>
<rect x="146" y="578.0" width="4" height="1.5" fill="#c03030"/>
<rect x="151" y="578.0" width="4" height="0.5" fill="#c03030"/>
<rect x="161" y="576.0" width="4" height="1.0" fill="#18a018"/>
<rect x="167" y="575.0" width="4" height="2.0" fill="#18a018"/>
<rect x="172" y="575.0" width="4" height="2.0" fill="#18a018"/>
<rect x="177" y="575.0" width="4" height="2.0" fill="#18a018"/>
<rect x="183" y="574.0" width="4" height="3.0" fill="#18a018"/>
<rect x="184" y="575.0" width="2" height="2.0" fill="#4fe04f"/>
<rect x="188" y="573.0" width="4" height="4.0" fill="#18a018"/>
<rect x="189" y="574.0" width="2" height="3.0" fill="#4fe04f"/>
<rect x="193" y="574.0" width="4" height="3.0" fill="#18a018"/>
<rect x="194" y="575.0" width="2" height="2.0" fill="#4fe04f"/>
<rect x="198" y="574.0" width="4" height="3.0" fill="#18a018"/>
<rect x="199" y="575.0" width="2" height="2.0" fill="#4fe04f"/>
<rect x="204" y="573.5" width="4" height="3.5" fill="#18a018"/>
<rect x="205" y="574.5" width="2" height="2.5" fill="#4fe04f"/>
<rect x="209" y="572.5" width="4" height="4.5" fill="#18a018"/>
<rect x="210" y="573.5" width="2" height="3.5" fill="#4fe04f"/>
<rect x="214" y="574.0" width="4" height="3.0" fill="#18a018"/>
<rect x="215" y="575.0" width="2" height="2.0" fill="#4fe04f"/>
<rect x="219" y="576.0" width="4" height="1.0" fill="#18a018"/>
<rect x="230" y="578.0" width="4" height="1.5" fill="#c03030"/>
<rect x="235" y="578.0" width="4" height="2.5" fill="#c03030"/>
<rect x="236" y="578.0" width="2" height="1.5" fill="#f08888"/>
<rect x="241" y="578.0" width="4" height="3.0" fill="#c03030"/>
<rect x="242" y="578.0" width="2" height="2.0" fill="#f08888"/>
<rect x="246" y="578.0" width="4" height="4.0" fill="#c03030"/>
<rect x="247" y="578.0" width="2" height="3.0" fill="#f08888"/>
<rect x="251" y="578.0" width="4" height="3.5" fill="#c03030"/>
<rect x="252" y="578.0" width="2" height="2.5" fill="#f08888"/>
<rect x="256" y="578.0" width="4" height="3.5" fill="#c03030"/>
<rect x="257" y="578.0" width="2" height="2.5" fill="#f08888"/>
<rect x="262" y="578.0" width="4" height="3.0" fill="#c03030"/>
<rect x="263" y="578.0" width="2" height="2.0" fill="#f08888"/>
<rect x="267" y="578.0" width="4" height="2.0" fill="#c03030"/>
<rect x="272" y="578.0" width="4" height="1.5" fill="#c03030"/>
<rect x="278" y="578.0" width="4" height="1.0" fill="#c03030"/>
<rect x="283" y="578.0" width="4" height="0.5" fill="#c03030"/>
<rect x="309" y="576.5" width="4" height="0.5" fill="#18a018"/>
<rect x="315" y="576.0" width="4" height="1.0" fill="#18a018"/>
<rect x="320" y="574.5" width="4" height="2.5" fill="#18a018"/>
<rect x="321" y="575.5" width="2" height="1.5" fill="#4fe04f"/>
<rect x="325" y="573.5" width="4" height="3.5" fill="#18a018"/>
<rect x="326" y="574.5" width="2" height="2.5" fill="#4fe04f"/>
<rect x="330" y="573.5" width="4" height="3.5" fill="#18a018"/>
<rect x="331" y="574.5" width="2" height="2.5" fill="#4fe04f"/>
<rect x="336" y="574.0" width="4" height="3.0" fill="#18a018"/>
<rect x="337" y="575.0" width="2" height="2.0" fill="#4fe04f"/>
<rect x="341" y="574.5" width="4" height="2.5" fill="#18a018"/>
<rect x="342" y="575.5" width="2" height="1.5" fill="#4fe04f"/>
<rect x="346" y="575.0" width="4" height="2.0" fill="#18a018"/>
<rect x="351" y="575.5" width="4" height="1.5" fill="#18a018"/>
<rect x="357" y="576.0" width="4" height="1.0" fill="#18a018"/>
<rect x="362" y="576.0" width="4" height="1.0" fill="#18a018"/>
<rect x="367" y="575.5" width="4" height="1.5" fill="#18a018"/>
<rect x="373" y="575.0" width="4" height="2.0" fill="#18a018"/>
<rect x="378" y="573.0" width="4" height="4.0" fill="#18a018"/>
<rect x="379" y="574.0" width="2" height="3.0" fill="#4fe04f"/>
<rect x="383" y="574.0" width="4" height="3.0" fill="#18a018"/>
<rect x="384" y="575.0" width="2" height="2.0" fill="#4fe04f"/>
<rect x="388" y="571.0" width="4" height="6.0" fill="#18a018"/>
<rect x="389" y="572.0" width="2" height="5.0" fill="#4fe04f"/>
<rect x="394" y="568.5" width="4" height="8.5" fill="#18a018"/>
<rect x="395" y="569.5" width="2" height="7.5" fill="#4fe04f"/>
<rect x="399" y="566.5" width="4" height="10.5" fill="#18a018"/>
<rect x="400" y="567.5" width="2" height="9.5" fill="#4fe04f"/>
<rect x="404" y="566.5" width="4" height="10.5" fill="#18a018"/>
<rect x="405" y="567.5" width="2" height="9.5" fill="#4fe04f"/>
<rect x="410" y="567.5" width="4" height="9.5" fill="#18a018"/>
<rect x="411" y="568.5" width="2" height="8.5" fill="#4fe04f"/>
<rect x="415" y="569.0" width="4" height="8.0" fill="#18a018"/>
<rect x="416" y="570.0" width="2" height="7.0" fill="#4fe04f"/>
<rect x="420" y="571.0" width="4" height="6.0" fill="#18a018"/>
<rect x="421" y="572.0" width="2" height="5.0" fill="#4fe04f"/>
<rect x="425" y="572.0" width="4" height="5.0" fill="#18a018"/>
<rect x="426" y="573.0" width="2" height="4.0" fill="#4fe04f"/>
<rect x="431" y="573.0" width="4" height="4.0" fill="#18a018"/>
<rect x="432" y="574.0" width="2" height="3.0" fill="#4fe04f"/>
<rect x="436" y="574.0" width="4" height="3.0" fill="#18a018"/>
<rect x="437" y="575.0" width="2" height="2.0" fill="#4fe04f"/>
<rect x="441" y="571.0" width="4" height="6.0" fill="#18a018"/>
<rect x="442" y="572.0" width="2" height="5.0" fill="#4fe04f"/>
<rect x="446" y="571.0" width="4" height="6.0" fill="#18a018"/>
<rect x="447" y="572.0" width="2" height="5.0" fill="#4fe04f"/>
<rect x="452" y="573.0" width="4" height="4.0" fill="#18a018"/>
<rect x="453" y="574.0" width="2" height="3.0" fill="#4fe04f"/>
<rect x="457" y="574.0" width="4" height="3.0" fill="#18a018"/>
<rect x="458" y="575.0" width="2" height="2.0" fill="#4fe04f"/>
<rect x="462" y="574.0" width="4" height="3.0" fill="#18a018"/>
<rect x="463" y="575.0" width="2" height="2.0" fill="#4fe04f"/>
<rect x="468" y="575.0" width="4" height="2.0" fill="#18a018"/>
<rect x="478" y="578.0" width="4" height="1.5" fill="#c03030"/>
<rect x="483" y="578.0" width="4" height="3.0" fill="#c03030"/>
<rect x="484" y="578.0" width="2" height="2.0" fill="#f08888"/>
<rect x="489" y="578.0" width="4" height="4.0" fill="#c03030"/>
<rect x="490" y="578.0" width="2" height="3.0" fill="#f08888"/>
<rect x="494" y="578.0" width="4" height="4.5" fill="#c03030"/>
<rect x="495" y="578.0" width="2" height="3.5" fill="#f08888"/>
<rect x="499" y="578.0" width="4" height="5.0" fill="#c03030"/>
<rect x="500" y="578.0" width="2" height="4.0" fill="#f08888"/>
<rect x="505" y="578.0" width="4" height="4.0" fill="#c03030"/>
<rect x="506" y="578.0" width="2" height="3.0" fill="#f08888"/>
<rect x="510" y="578.0" width="4" height="3.5" fill="#c03030"/>
<rect x="511" y="578.0" width="2" height="2.5" fill="#f08888"/>
<rect x="515" y="578.0" width="4" height="3.0" fill="#c03030"/>
<rect x="516" y="578.0" width="2" height="2.0" fill="#f08888"/>
<rect x="520" y="578.0" width="4" height="1.0" fill="#c03030"/>
<rect x="526" y="575.0" width="4" height="2.0" fill="#18a018"/>
<rect x="531" y="574.0" width="4" height="3.0" fill="#18a018"/>
<rect x="532" y="575.0" width="2" height="2.0" fill="#4fe04f"/>
<rect x="536" y="575.0" width="4" height="2.0" fill="#18a018"/>
<rect x="541" y="575.0" width="4" height="2.0" fill="#18a018"/>
<rect x="547" y="576.0" width="4" height="1.0" fill="#18a018"/>
<rect x="552" y="578.0" width="4" height="1.0" fill="#c03030"/>
<rect x="557" y="578.0" width="4" height="3.0" fill="#c03030"/>
<rect x="558" y="578.0" width="2" height="2.0" fill="#f08888"/>
<rect x="563" y="578.0" width="4" height="4.5" fill="#c03030"/>
<rect x="564" y="578.0" width="2" height="3.5" fill="#f08888"/>
<rect x="568" y="578.0" width="4" height="6.0" fill="#c03030"/>
<rect x="569" y="578.0" width="2" height="5.0" fill="#f08888"/>
<rect x="573" y="578.0" width="4" height="7.0" fill="#c03030"/>
<rect x="574" y="578.0" width="2" height="6.0" fill="#f08888"/>
<rect x="578" y="578.0" width="4" height="11.0" fill="#c03030"/>
<rect x="579" y="578.0" width="2" height="10.0" fill="#f08888"/>
<rect x="584" y="578.0" width="4" height="12.0" fill="#c03030"/>
<rect x="585" y="578.0" width="2" height="11.0" fill="#f08888"/>
<rect x="589" y="578.0" width="4" height="11.0" fill="#c03030"/>
<rect x="590" y="578.0" width="2" height="10.0" fill="#f08888"/>
<rect x="594" y="578.0" width="4" height="8.0" fill="#c03030"/>
<rect x="595" y="578.0" width="2" height="7.0" fill="#f08888"/>
<rect x="600" y="578.0" width="4" height="7.0" fill="#c03030"/>
<rect x="601" y="578.0" width="2" height="6.0" fill="#f08888"/>
<rect x="605" y="578.0" width="4" height="6.0" fill="#c03030"/>
<rect x="606" y="578.0" width="2" height="5.0" fill="#f08888"/>
<rect x="610" y="578.0" width="4" height="5.0" fill="#c03030"/>
<rect x="611" y="578.0" width="2" height="4.0" fill="#f08888"/>
<rect x="615" y="578.0" width="4" height="4.0" fill="#c03030"/>
<rect x="616" y="578.0" width="2" height="3.0" fill="#f08888"/>
<rect x="621" y="578.0" width="4" height="4.0" fill="#c03030"/>
<rect x="622" y="578.0" width="2" height="3.0" fill="#f08888"/>
<rect x="626" y="578.0" width="4" height="6.0" fill="#c03030"/>
<rect x="627" y="578.0" width="2" height="5.0" fill="#f08888"/>
<rect x="631" y="578.0" width="4" height="8.5" fill="#c03030"/>
<rect x="632" y="578.0" width="2" height="7.5" fill="#f08888"/>
<rect x="636" y="578.0" width="4" height="10.0" fill="#c03030"/>
<rect x="637" y="578.0" width="2" height="9.0" fill="#f08888"/>
<rect x="642" y="578.0" width="4" height="10.0" fill="#c03030"/>
<rect x="643" y="578.0" width="2" height="9.0" fill="#f08888"/>
<rect x="647" y="578.0" width="4" height="7.5" fill="#c03030"/>
<rect x="648" y="578.0" width="2" height="6.5" fill="#f08888"/>
<rect x="652" y="578.0" width="4" height="6.5" fill="#c03030"/>
<rect x="653" y="578.0" width="2" height="5.5" fill="#f08888"/>
<rect x="658" y="578.0" width="4" height="7.5" fill="#c03030"/>
<rect x="659" y="578.0" width="2" height="6.5" fill="#f08888"/>
<rect x="663" y="578.0" width="4" height="9.0" fill="#c03030"/>
<rect x="664" y="578.0" width="2" height="8.0" fill="#f08888"/>
<rect x="668" y="578.0" width="4" height="10.0" fill="#c03030"/>
<rect x="669" y="578.0" width="2" height="9.0" fill="#f08888"/>
<rect x="673" y="578.0" width="4" height="10.0" fill="#c03030"/>
<rect x="674" y="578.0" width="2" height="9.0" fill="#f08888"/>
<rect x="679" y="578.0" width="4" height="8.0" fill="#c03030"/>
<rect x="680" y="578.0" width="2" height="7.0" fill="#f08888"/>
<rect x="684" y="578.0" width="4" height="6.0" fill="#c03030"/>
<rect x="685" y="578.0" width="2" height="5.0" fill="#f08888"/>
<rect x="689" y="578.0" width="4" height="4.0" fill="#c03030"/>
<rect x="690" y="578.0" width="2" height="3.0" fill="#f08888"/>
<rect x="695" y="578.0" width="4" height="3.0" fill="#c03030"/>
<rect x="696" y="578.0" width="2" height="2.0" fill="#f08888"/>
<rect x="700" y="578.0" width="4" height="2.0" fill="#c03030"/>
<rect x="710" y="576.0" width="4" height="1.0" fill="#18a018"/>
<rect x="716" y="576.0" width="4" height="1.0" fill="#18a018"/>
<rect x="726" y="576.0" width="4" height="1.0" fill="#18a018"/>
<rect x="731" y="575.5" width="4" height="1.5" fill="#18a018"/>
<rect x="737" y="575.0" width="4" height="2.0" fill="#18a018"/>
<rect x="742" y="574.0" width="4" height="3.0" fill="#18a018"/>
<rect x="743" y="575.0" width="2" height="2.0" fill="#4fe04f"/>
<rect x="747" y="571.0" width="4" height="6.0" fill="#18a018"/>
<rect x="748" y="572.0" width="2" height="5.0" fill="#4fe04f"/>
<rect x="753" y="569.0" width="4" height="8.0" fill="#18a018"/>
<rect x="754" y="570.0" width="2" height="7.0" fill="#4fe04f"/>
<rect x="758" y="568.0" width="4" height="9.0" fill="#18a018"/>
<rect x="759" y="569.0" width="2" height="8.0" fill="#4fe04f"/>
<rect x="763" y="568.0" width="4" height="9.0" fill="#18a018"/>
<rect x="764" y="569.0" width="2" height="8.0" fill="#4fe04f"/>
<rect x="768" y="567.0" width="4" height="10.0" fill="#18a018"/>
<rect x="769" y="568.0" width="2" height="9.0" fill="#4fe04f"/>
</g>
<path d="M0 577.5 H782" stroke="#2020d0" stroke-width="1.1"/>
<path d="M0.0 568.2 L2.0 568.7 L4.0 569.3 L6.0 569.8 L8.0 570.3 L10.0 570.8 L12.0 571.3 L14.0 571.7 L16.0 572.2 L18.0 572.7 L20.0 573.1 L22.0 573.4 L24.0 573.7 L26.0 574.0 L28.0 574.2 L30.0 574.4 L32.0 574.6 L34.0 574.9 L36.0 575.2 L38.0 575.4 L40.0 575.7 L42.0 575.9 L44.0 576.0 L46.0 576.1 L48.0 576.2 L50.0 576.3 L52.0 576.3 L54.0 576.3 L56.0 576.2 L58.0 576.2 L60.0 576.1 L62.0 576.0 L64.0 575.9 L66.0 575.8 L68.0 575.7 L70.0 575.6 L72.0 575.5 L74.0 575.3 L76.0 575.1 L78.0 574.9 L80.0 574.6 L82.0 574.3 L84.0 574.0 L86.0 573.7 L88.0 573.4 L90.0 573.1 L92.0 572.8 L94.0 572.5 L96.0 572.1 L98.0 571.8 L100.0 571.6 L102.0 571.5 L104.0 571.6 L106.0 571.8 L108.0 572.0 L110.0 572.3 L112.0 572.6 L114.0 573.0 L116.0 573.4 L118.0 573.9 L120.0 574.4 L122.0 574.9 L124.0 575.4 L126.0 575.9 L128.0 576.4 L130.0 576.8 L132.0 577.2 L134.0 577.5 L136.0 577.9 L138.0 578.2 L140.0 578.4 L142.0 578.6 L144.0 578.8 L146.0 579.0 L148.0 579.1 L150.0 579.3 L152.0 579.3 L154.0 579.3 L156.0 579.3 L158.0 579.2 L160.0 579.0 L162.0 578.9 L164.0 578.7 L166.0 578.5 L168.0 578.3 L170.0 578.1 L172.0 577.9 L174.0 577.7 L176.0 577.4 L178.0 577.2 L180.0 576.9 L182.0 576.5 L184.0 576.2 L186.0 575.9 L188.0 575.5 L190.0 575.2 L192.0 574.8 L194.0 574.5 L196.0 574.1 L198.0 573.8 L200.0 573.4 L202.0 572.9 L204.0 572.5 L206.0 572.1 L208.0 571.8 L210.0 571.4 L212.0 571.2 L214.0 570.9 L216.0 570.7 L218.0 570.5 L220.0 570.4 L222.0 570.4 L224.0 570.4 L226.0 570.4 L228.0 570.6 L230.0 570.8 L232.0 571.1 L234.0 571.4 L236.0 571.7 L238.0 572.0 L240.0 572.4 L242.0 572.7 L244.0 573.1 L246.0 573.4 L248.0 573.9 L250.0 574.3 L252.0 574.7 L254.0 575.2 L256.0 575.5 L258.0 575.9 L260.0 576.2 L262.0 576.5 L264.0 576.9 L266.0 577.2 L268.0 577.4 L270.0 577.7 L272.0 577.9 L274.0 578.1 L276.0 578.3 L278.0 578.5 L280.0 578.6 L282.0 578.7 L284.0 578.8 L286.0 578.9 L288.0 578.9 L290.0 579.0 L292.0 579.0 L294.0 579.0 L296.0 579.0 L298.0 579.0 L300.0 578.9 L302.0 578.9 L304.0 578.8 L306.0 578.7 L308.0 578.6 L310.0 578.5 L312.0 578.2 L314.0 577.9 L316.0 577.5 L318.0 577.1 L320.0 576.6 L322.0 576.2 L324.0 575.9 L326.0 575.6 L328.0 575.3 L330.0 575.0 L332.0 574.7 L334.0 574.3 L336.0 574.1 L338.0 573.8 L340.0 573.6 L342.0 573.4 L344.0 573.2 L346.0 573.0 L348.0 572.9 L350.0 572.7 L352.0 572.6 L354.0 572.4 L356.0 572.2 L358.0 572.0 L360.0 571.8 L362.0 571.6 L364.0 571.4 L366.0 571.2 L368.0 571.1 L370.0 570.9 L372.0 570.7 L374.0 570.5 L376.0 570.3 L378.0 570.0 L380.0 569.6 L382.0 569.2 L384.0 568.8 L386.0 568.3 L388.0 567.7 L390.0 567.0 L392.0 566.2 L394.0 565.3 L396.0 564.3 L398.0 563.3 L400.0 562.3 L402.0 561.2 L404.0 560.1 L406.0 559.0 L408.0 558.0 L410.0 556.9 L412.0 555.9 L414.0 555.0 L416.0 554.2 L418.0 553.4 L420.0 552.8 L422.0 552.2 L424.0 551.6 L426.0 551.1 L428.0 550.6 L430.0 550.2 L432.0 549.8 L434.0 549.3 L436.0 548.9 L438.0 548.5 L440.0 548.0 L442.0 547.6 L444.0 547.2 L446.0 546.8 L448.0 546.4 L450.0 546.0 L452.0 545.7 L454.0 545.4 L456.0 545.1 L458.0 544.7 L460.0 544.4 L462.0 544.2 L464.0 544.0 L466.0 543.8 L468.0 543.7 L470.0 543.7 L472.0 543.7 L474.0 543.8 L476.0 544.0 L478.0 544.3 L480.0 544.6 L482.0 545.0 L484.0 545.4 L486.0 545.8 L488.0 546.2 L490.0 546.7 L492.0 547.2 L494.0 547.6 L496.0 548.1 L498.0 548.5 L500.0 549.0 L502.0 549.4 L504.0 549.7 L506.0 550.0 L508.0 550.2 L510.0 550.4 L512.0 550.4 L514.0 550.4 L516.0 550.4 L518.0 550.3 L520.0 550.1 L522.0 549.8 L524.0 549.5 L526.0 549.2 L528.0 548.9 L530.0 548.5 L532.0 548.2 L534.0 547.9 L536.0 547.6 L538.0 547.2 L540.0 546.9 L542.0 546.6 L544.0 546.4 L546.0 546.3 L548.0 546.2 L550.0 546.3 L552.0 546.5 L554.0 546.8 L556.0 547.1 L558.0 547.5 L560.0 548.0 L562.0 548.4 L564.0 548.9 L566.0 549.4 L568.0 550.0 L570.0 550.7 L572.0 551.5 L574.0 552.3 L576.0 553.2 L578.0 554.1 L580.0 555.1 L582.0 556.1 L584.0 557.1 L586.0 558.1 L588.0 559.0 L590.0 559.9 L592.0 560.7 L594.0 561.4 L596.0 562.1 L598.0 562.6 L600.0 563.0 L602.0 563.3 L604.0 563.7 L606.0 564.1 L608.0 564.4 L610.0 564.8 L612.0 565.2 L614.0 565.6 L616.0 566.1 L618.0 566.5 L620.0 566.9 L622.0 567.4 L624.0 568.0 L626.0 568.7 L628.0 569.4 L630.0 570.2 L632.0 571.1 L634.0 572.1 L636.0 573.1 L638.0 574.2 L640.0 575.3 L642.0 576.4 L644.0 577.5 L646.0 578.5 L648.0 579.4 L650.0 580.4 L652.0 581.3 L654.0 582.1 L656.0 583.0 L658.0 583.8 L660.0 584.6 L662.0 585.5 L664.0 586.3 L666.0 587.2 L668.0 588.0 L670.0 588.7 L672.0 589.4 L674.0 590.0 L676.0 590.5 L678.0 591.0 L680.0 591.4 L682.0 591.7 L684.0 592.0 L686.0 592.4 L688.0 592.7 L690.0 593.0 L692.0 593.3 L694.0 593.5 L696.0 593.7 L698.0 593.9 L700.0 594.0 L702.0 594.0 L704.0 594.1 L706.0 594.1 L708.0 594.1 L710.0 594.0 L712.0 593.9 L714.0 593.8 L716.0 593.7 L718.0 593.5 L720.0 593.4 L722.0 593.2 L724.0 593.1 L726.0 592.9 L728.0 592.8 L730.0 592.6 L732.0 592.4 L734.0 592.1 L736.0 591.8 L738.0 591.4 L740.0 590.9 L742.0 590.4 L744.0 589.8 L746.0 589.2 L748.0 588.5 L750.0 587.7 L752.0 587.0 L754.0 586.2 L756.0 585.4 L758.0 584.6 L760.0 583.8 L762.0 583.0 L764.0 582.2 L766.0 581.3 L768.0 580.6 L770.0 579.8 L770.3 579.4" stroke="#e06464" stroke-width="1.9" fill="none" stroke-linejoin="round"/>
<path d="M0.0 573.2 L2.0 574.0 L4.0 574.9 L6.0 575.7 L8.0 576.4 L10.0 577.1 L12.0 577.8 L14.0 578.3 L16.0 578.5 L18.0 578.4 L20.0 578.1 L22.0 577.7 L24.0 577.1 L26.0 576.3 L28.0 575.5 L30.0 574.7 L32.0 574.5 L34.0 574.7 L36.0 575.2 L38.0 575.7 L40.0 576.0 L42.0 576.0 L44.0 575.8 L46.0 575.6 L48.0 575.5 L50.0 575.6 L52.0 575.9 L54.0 576.1 L56.0 576.1 L58.0 576.0 L60.0 575.8 L62.0 575.6 L64.0 575.4 L66.0 575.2 L68.0 574.9 L70.0 574.6 L72.0 574.3 L74.0 573.9 L76.0 573.6 L78.0 573.3 L80.0 572.9 L82.0 572.6 L84.0 572.3 L86.0 571.9 L88.0 571.6 L90.0 571.2 L92.0 570.9 L94.0 570.5 L96.0 570.2 L98.0 569.9 L100.0 570.1 L102.0 570.9 L104.0 572.3 L106.0 573.6 L108.0 574.5 L110.0 575.2 L112.0 575.9 L114.0 576.6 L116.0 577.2 L118.0 577.9 L120.0 578.4 L122.0 578.7 L124.0 578.8 L126.0 578.8 L128.0 579.0 L130.0 579.3 L132.0 579.8 L134.0 580.3 L136.0 580.8 L138.0 581.1 L140.0 581.5 L142.0 581.7 L144.0 581.7 L146.0 581.4 L148.0 581.0 L150.0 580.5 L152.0 580.2 L154.0 580.0 L156.0 579.8 L158.0 579.5 L160.0 579.1 L162.0 578.7 L164.0 578.3 L166.0 577.9 L168.0 577.6 L170.0 577.4 L172.0 577.1 L174.0 576.8 L176.0 576.4 L178.0 576.0 L180.0 575.5 L182.0 575.0 L184.0 574.5 L186.0 573.9 L188.0 573.4 L190.0 572.8 L192.0 572.3 L194.0 571.8 L196.0 571.3 L198.0 570.8 L200.0 570.4 L202.0 570.0 L204.0 569.4 L206.0 568.7 L208.0 567.9 L210.0 567.5 L212.0 567.5 L214.0 568.1 L216.0 568.6 L218.0 569.1 L220.0 569.5 L222.0 570.0 L224.0 570.5 L226.0 571.1 L228.0 571.8 L230.0 572.6 L232.0 573.4 L234.0 574.0 L236.0 574.6 L238.0 575.2 L240.0 575.7 L242.0 576.3 L244.0 576.8 L246.0 577.3 L248.0 577.8 L250.0 578.2 L252.0 578.5 L254.0 578.7 L256.0 578.9 L258.0 578.9 L260.0 578.9 L262.0 578.9 L264.0 578.9 L266.0 579.1 L268.0 579.3 L270.0 579.5 L272.0 579.7 L274.0 579.9 L276.0 580.1 L278.0 580.1 L280.0 580.0 L282.0 579.6 L284.0 579.3 L286.0 579.1 L288.0 579.0 L290.0 579.0 L292.0 579.0 L294.0 579.0 L296.0 579.0 L298.0 579.0 L300.0 578.9 L302.0 578.7 L304.0 578.5 L306.0 578.1 L308.0 577.6 L310.0 577.0 L312.0 576.1 L314.0 575.2 L316.0 574.5 L318.0 573.7 L320.0 573.1 L322.0 572.4 L324.0 571.8 L326.0 571.3 L328.0 570.9 L330.0 570.5 L332.0 570.3 L334.0 570.2 L336.0 570.2 L338.0 570.2 L340.0 570.2 L342.0 570.3 L344.0 570.4 L346.0 570.5 L348.0 570.6 L350.0 570.6 L352.0 570.7 L354.0 570.7 L356.0 570.7 L358.0 570.6 L360.0 570.4 L362.0 570.1 L364.0 569.8 L366.0 569.5 L368.0 569.2 L370.0 568.8 L372.0 568.4 L374.0 567.8 L376.0 567.0 L378.0 566.1 L380.0 565.5 L382.0 565.0 L384.0 564.4 L386.0 563.3 L388.0 561.9 L390.0 560.3 L392.0 558.6 L394.0 557.0 L396.0 555.3 L398.0 553.7 L400.0 552.3 L402.0 551.1 L404.0 550.2 L406.0 549.4 L408.0 548.5 L410.0 547.7 L412.0 547.1 L414.0 546.6 L416.0 546.2 L418.0 545.8 L420.0 545.5 L422.0 545.4 L424.0 545.7 L426.0 546.2 L428.0 546.4 L430.0 546.2 L432.0 546.0 L434.0 546.0 L436.0 546.3 L438.0 546.0 L440.0 544.9 L442.0 543.5 L444.0 542.4 L446.0 541.6 L448.0 541.4 L450.0 541.6 L452.0 542.1 L454.0 542.3 L456.0 542.4 L458.0 542.1 L460.0 541.8 L462.0 541.6 L464.0 541.3 L466.0 541.2 L468.0 541.4 L470.0 541.9 L472.0 542.6 L474.0 543.5 L476.0 544.4 L478.0 545.2 L480.0 546.0 L482.0 546.9 L484.0 547.8 L486.0 548.6 L488.0 549.3 L490.0 549.8 L492.0 550.3 L494.0 550.8 L496.0 551.3 L498.0 551.8 L500.0 552.2 L502.0 552.5 L504.0 552.7 L506.0 552.9 L508.0 553.1 L510.0 553.3 L512.0 553.4 L514.0 553.3 L516.0 553.0 L518.0 552.5 L520.0 551.9 L522.0 551.0 L524.0 550.1 L526.0 549.0 L528.0 547.8 L530.0 546.8 L532.0 545.9 L534.0 545.3 L536.0 545.1 L538.0 545.0 L540.0 544.8 L542.0 544.6 L544.0 544.7 L546.0 545.0 L548.0 545.7 L550.0 546.6 L552.0 547.7 L554.0 548.7 L556.0 549.5 L558.0 550.1 L560.0 550.8 L562.0 551.7 L564.0 552.7 L566.0 553.8 L568.0 554.9 L570.0 556.3 L572.0 557.7 L574.0 559.2 L576.0 560.9 L578.0 562.7 L580.0 564.6 L582.0 566.4 L584.0 567.9 L586.0 569.1 L588.0 569.9 L590.0 570.3 L592.0 570.3 L594.0 570.0 L596.0 569.8 L598.0 569.8 L600.0 570.0 L602.0 570.1 L604.0 570.0 L606.0 569.9 L608.0 569.9 L610.0 569.9 L612.0 570.0 L614.0 570.1 L616.0 570.3 L618.0 570.9 L620.0 571.8 L622.0 572.8 L624.0 574.0 L626.0 575.3 L628.0 576.8 L630.0 578.3 L632.0 579.8 L634.0 581.3 L636.0 582.7 L638.0 583.9 L640.0 584.9 L642.0 585.5 L644.0 585.8 L646.0 585.9 L648.0 585.9 L650.0 585.9 L652.0 586.1 L654.0 586.6 L656.0 587.3 L658.0 588.3 L660.0 589.6 L662.0 591.1 L664.0 592.5 L666.0 593.7 L668.0 594.8 L670.0 595.7 L672.0 596.4 L674.0 596.9 L676.0 597.1 L678.0 597.2 L680.0 597.2 L682.0 597.1 L684.0 596.9 L686.0 596.6 L688.0 596.4 L690.0 596.0 L692.0 595.6 L694.0 595.2 L696.0 594.8 L698.0 594.4 L700.0 594.0 L702.0 593.7 L704.0 593.4 L706.0 593.1 L708.0 592.9 L710.0 592.6 L712.0 592.2 L714.0 591.9 L716.0 591.7 L718.0 591.8 L720.0 591.9 L722.0 592.0 L724.0 591.8 L726.0 591.7 L728.0 591.4 L730.0 590.9 L732.0 590.3 L734.0 589.6 L736.0 588.9 L738.0 588.1 L740.0 587.2 L742.0 586.2 L744.0 585.1 L746.0 583.8 L748.0 582.4 L750.0 580.9 L752.0 579.5 L754.0 578.1 L756.0 576.8 L758.0 575.7 L760.0 574.6 L762.0 573.6 L764.0 572.6 L766.0 571.7 L768.0 570.7 L770.0 570.0 L770.3 569.6" stroke="#2c2ce0" stroke-width="2.0" fill="none" stroke-linejoin="round"/>
</g>
<path d="M42.5 600.5 v4.5" stroke="#8b9aa5" stroke-width="1"/>
<text x="42.3" y="616" text-anchor="middle" font-weight="bold" font-size="12.5px">jul</text>
<path d="M63.5 600.5 v4.5" stroke="#8b9aa5" stroke-width="1"/>
<text x="63.4" y="616" text-anchor="middle">05</text>
<path d="M94.5 600.5 v4.5" stroke="#8b9aa5" stroke-width="1"/>
<text x="94.3" y="616" text-anchor="middle">15</text>
<path d="M125.5 600.5 v4.5" stroke="#8b9aa5" stroke-width="1"/>
<text x="125.8" y="616" text-anchor="middle">23</text>
<path d="M163.5 600.5 v4.5" stroke="#8b9aa5" stroke-width="1"/>
<text x="163.0" y="616" text-anchor="middle" font-weight="bold" font-size="12.5px">ago</text>
<path d="M189.5 600.5 v4.5" stroke="#8b9aa5" stroke-width="1"/>
<text x="189.1" y="616" text-anchor="middle">08</text>
<path d="M221.5 600.5 v4.5" stroke="#8b9aa5" stroke-width="1"/>
<text x="221.4" y="616" text-anchor="middle">16</text>
<path d="M253.5 600.5 v4.5" stroke="#8b9aa5" stroke-width="1"/>
<text x="253.3" y="616" text-anchor="middle">26</text>
<path d="M280.5 600.5 v4.5" stroke="#8b9aa5" stroke-width="1"/>
<text x="280.0" y="616" text-anchor="middle" font-weight="bold" font-size="12.5px">sep</text>
<path d="M316.5 600.5 v4.5" stroke="#8b9aa5" stroke-width="1"/>
<text x="316.4" y="616" text-anchor="middle">11</text>
<path d="M348.5 600.5 v4.5" stroke="#8b9aa5" stroke-width="1"/>
<text x="348.4" y="616" text-anchor="middle">19</text>
<path d="M390.5 600.5 v4.5" stroke="#8b9aa5" stroke-width="1"/>
<text x="390.4" y="616" text-anchor="middle" font-weight="bold" font-size="12.5px">oct</text>
<path d="M411.5 600.5 v4.5" stroke="#8b9aa5" stroke-width="1"/>
<text x="411.3" y="616" text-anchor="middle">07</text>
<path d="M443.5 600.5 v4.5" stroke="#8b9aa5" stroke-width="1"/>
<text x="443.3" y="616" text-anchor="middle">15</text>
<path d="M474.5 600.5 v4.5" stroke="#8b9aa5" stroke-width="1"/>
<text x="474.7" y="616" text-anchor="middle">23</text>
<path d="M511.5 600.5 v4.5" stroke="#8b9aa5" stroke-width="1"/>
<text x="511.4" y="616" text-anchor="middle" font-weight="bold" font-size="12.5px">nov</text>
<path d="M538.5 600.5 v4.5" stroke="#8b9aa5" stroke-width="1"/>
<text x="538.3" y="616" text-anchor="middle">08</text>
<path d="M569.5 600.5 v4.5" stroke="#8b9aa5" stroke-width="1"/>
<text x="569.8" y="616" text-anchor="middle">18</text>
<path d="M601.5 600.5 v4.5" stroke="#8b9aa5" stroke-width="1"/>
<text x="601.2" y="616" text-anchor="middle">26</text>
<path d="M622.5 600.5 v4.5" stroke="#8b9aa5" stroke-width="1"/>
<text x="622.5" y="616" text-anchor="middle" font-weight="bold" font-size="12.5px">dic</text>
<path d="M664.5 600.5 v4.5" stroke="#8b9aa5" stroke-width="1"/>
<text x="664.2" y="616" text-anchor="middle">12</text>
<path d="M696.5 600.5 v4.5" stroke="#8b9aa5" stroke-width="1"/>
<text x="696.3" y="616" text-anchor="middle">20</text>
<path d="M728.5 600.5 v4.5" stroke="#8b9aa5" stroke-width="1"/>
<text x="728.6" y="616" text-anchor="middle" font-weight="bold" font-size="12.5px">2014</text>
<path d="M759.5 600.5 v4.5" stroke="#8b9aa5" stroke-width="1"/>
<text x="759.0" y="616" text-anchor="middle">10</text>
</svg>
</body></html>
